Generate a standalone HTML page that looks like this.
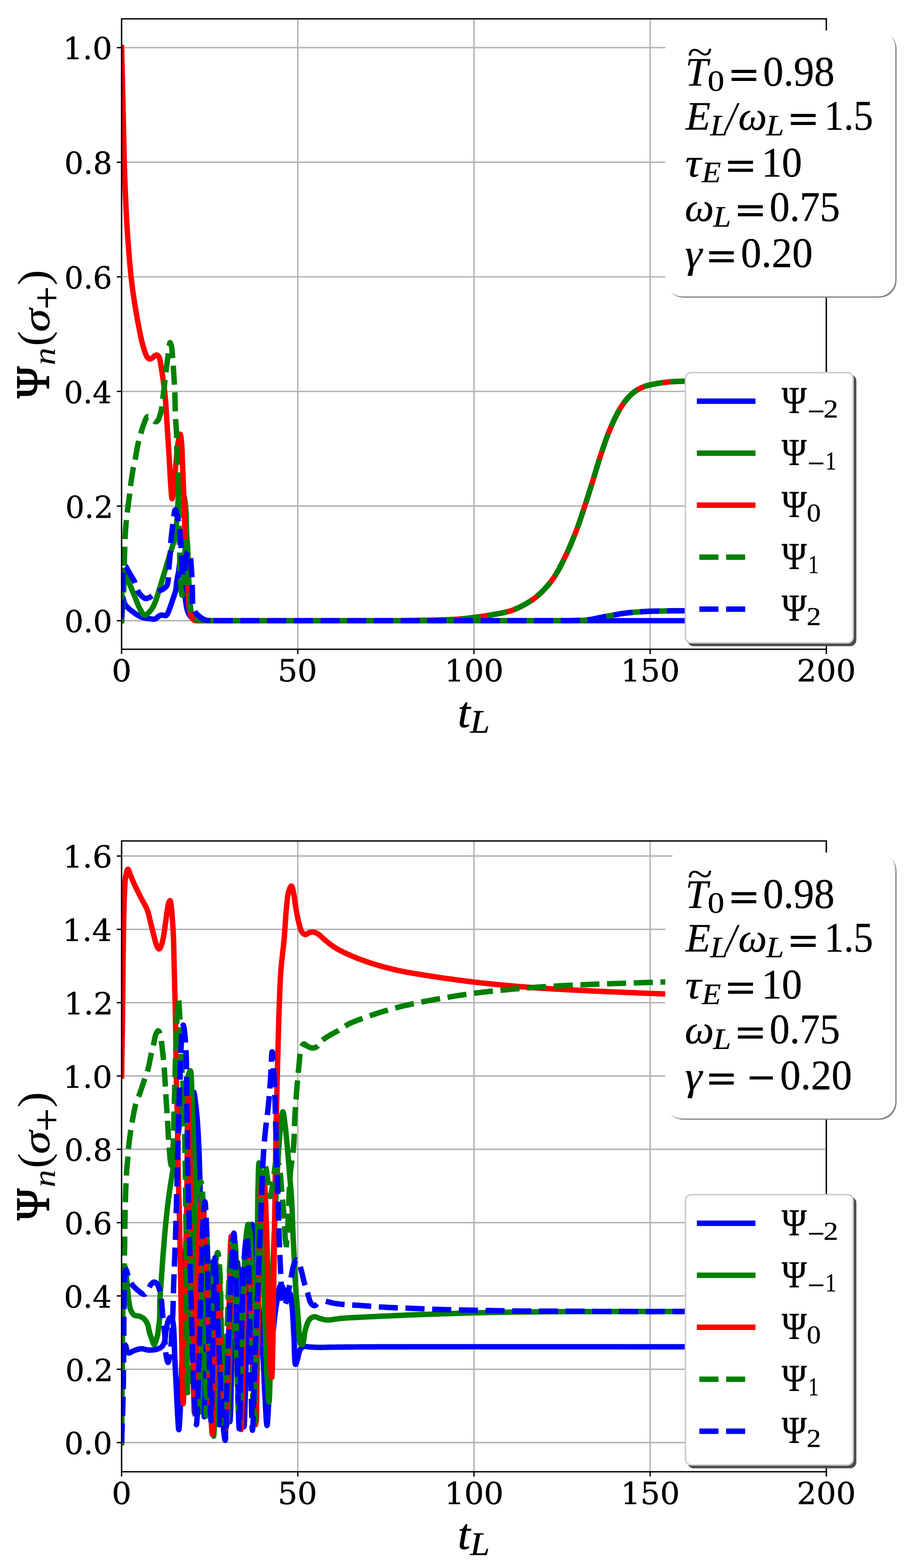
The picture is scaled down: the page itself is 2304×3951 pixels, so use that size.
<!DOCTYPE html>
<html><head><meta charset="utf-8"><title>Psi_n(sigma+) vs t_L</title>
<style>html,body{margin:0;padding:0;background:#fff;overflow:hidden}svg{display:block}</style></head>
<body>
<svg width="2304" height="3951" viewBox="0 0 2304 3951">
<rect width="2304" height="3951" fill="#fff"/>
<g id="axes1">
<path d="M306.50,47.5 V1636 M750.62,47.5 V1636 M1194.75,47.5 V1636 M1638.88,47.5 V1636 M2083.00,47.5 V1636 M306.5,1564.00 H2083.0 M306.5,1275.20 H2083.0 M306.5,986.40 H2083.0 M306.5,697.60 H2083.0 M306.5,408.80 H2083.0 M306.5,120.00 H2083.0" stroke="#b0b0b0" stroke-width="3.4" fill="none"/>
<clipPath id="clip1"><rect x="306.5" y="47.5" width="1776.5" height="1588.5"/></clipPath>
<g clip-path="url(#clip1)">
<path d="M306.5,1564.0 L306.6,1560.6 L306.7,1557.1 L306.8,1553.6 L306.9,1550.1 L306.9,1546.7 L307.0,1543.2 L307.1,1539.8 L307.2,1536.5 L307.4,1533.2 L307.5,1530.0 L307.6,1527.1 L307.7,1524.0 L307.7,1520.7 L307.7,1517.4 L307.8,1514.2 L307.9,1511.3 L308.0,1508.8 L308.3,1506.8 L308.6,1505.5 L309.0,1505.0 L309.4,1505.3 L309.9,1506.3 L310.4,1507.9 L310.9,1509.9 L311.6,1512.2 L312.2,1514.7 L313.0,1517.3 L313.9,1519.7 L314.9,1522.0 L316.0,1524.0 L317.5,1526.1 L319.3,1528.1 L321.2,1530.2 L323.3,1532.2 L325.5,1534.1 L327.7,1536.0 L330.0,1537.9 L332.3,1539.7 L334.6,1541.4 L336.8,1543.0 L338.8,1544.4 L340.7,1545.9 L342.7,1547.2 L344.7,1548.6 L346.7,1549.8 L348.7,1551.0 L350.8,1552.1 L352.8,1553.2 L354.9,1554.1 L357.0,1555.0 L359.0,1555.7 L361.1,1556.3 L363.2,1556.8 L365.4,1557.3 L367.5,1557.6 L369.7,1558.0 L371.7,1558.2 L373.8,1558.5 L375.7,1558.8 L377.6,1559.0 L379.0,1559.2 L380.3,1559.4 L381.6,1559.7 L382.9,1559.9 L384.1,1560.1 L385.4,1560.3 L386.5,1560.4 L387.7,1560.3 L388.9,1560.2 L390.0,1560.0 L391.1,1559.6 L392.2,1559.1 L393.2,1558.4 L394.3,1557.6 L395.3,1556.8 L396.3,1555.9 L397.2,1555.1 L398.2,1554.3 L399.1,1553.6 L400.0,1553.0 L400.6,1552.6 L401.3,1552.2 L401.9,1551.8 L402.5,1551.5 L403.1,1551.2 L403.6,1550.8 L404.2,1550.6 L404.8,1550.3 L405.4,1550.1 L406.0,1550.0 L406.6,1549.9 L407.2,1549.9 L407.8,1549.9 L408.4,1550.0 L409.0,1550.0 L409.6,1550.1 L410.2,1550.2 L410.8,1550.3 L411.4,1550.4 L412.0,1550.5 L412.6,1550.6 L413.3,1550.7 L414.0,1550.8 L414.7,1550.9 L415.3,1551.1 L416.0,1551.2 L416.7,1551.2 L417.3,1551.2 L417.9,1551.2 L418.4,1551.0 L418.8,1550.8 L419.3,1550.5 L419.7,1550.2 L420.0,1549.8 L420.4,1549.4 L420.7,1549.0 L421.0,1548.5 L421.3,1548.0 L421.7,1547.5 L422.0,1547.0 L422.5,1546.2 L422.9,1545.4 L423.4,1544.4 L423.8,1543.5 L424.3,1542.5 L424.7,1541.4 L425.1,1540.3 L425.6,1539.1 L426.0,1537.9 L426.5,1536.7 L427.2,1534.7 L428.0,1532.6 L428.8,1530.3 L429.7,1528.0 L430.5,1525.5 L431.4,1523.0 L432.2,1520.5 L433.0,1518.0 L433.9,1515.4 L434.7,1513.0 L435.6,1510.5 L436.4,1508.0 L437.3,1505.5 L438.2,1503.0 L439.1,1500.5 L440.0,1498.0 L440.8,1495.4 L441.6,1492.9 L442.3,1490.4 L442.9,1487.8 L443.4,1485.2 L443.8,1482.6 L444.1,1480.0 L444.4,1477.4 L444.7,1474.7 L444.9,1472.1 L445.1,1469.5 L445.4,1467.0 L445.7,1464.4 L446.0,1462.0 L446.4,1459.9 L446.7,1457.9 L447.1,1456.0 L447.5,1454.0 L447.9,1452.1 L448.3,1450.2 L448.8,1448.3 L449.2,1446.3 L449.6,1444.2 L450.0,1442.0 L450.5,1438.8 L451.0,1435.1 L451.5,1430.9 L452.0,1426.7 L452.5,1422.5 L453.0,1418.6 L453.5,1415.1 L454.0,1412.4 L454.5,1410.6 L455.0,1410.0 L455.5,1410.5 L456.0,1412.0 L456.5,1414.3 L457.0,1417.2 L457.5,1420.6 L458.0,1424.4 L458.5,1428.3 L459.0,1432.4 L459.5,1436.3 L460.0,1440.0 L460.6,1445.2 L461.2,1450.8 L461.7,1456.8 L462.3,1462.9 L462.8,1469.3 L463.3,1475.7 L463.9,1482.0 L464.5,1488.2 L465.2,1494.3 L466.0,1500.0 L466.7,1504.9 L467.3,1509.8 L468.0,1514.8 L468.7,1519.7 L469.4,1524.5 L470.2,1529.1 L471.1,1533.5 L472.2,1537.7 L473.5,1541.5 L475.0,1545.0 L476.2,1547.3 L477.5,1549.4 L479.0,1551.5 L480.5,1553.5 L482.1,1555.3 L483.7,1557.0 L485.3,1558.5 L486.9,1559.9 L488.5,1561.0 L490.0,1562.0 L491.0,1562.5 L492.0,1562.9 L493.0,1563.2 L494.0,1563.3 L495.0,1563.5 L496.0,1563.6 L497.0,1563.6 L498.0,1563.7 L499.0,1563.8 L500.0,1564.0 L2083.0,1564.0" fill="none" stroke="#0000ff" stroke-width="13.7" stroke-linejoin="round" stroke-linecap="square"/>
<path d="M306.5,1564.0 L306.6,1555.5 L306.7,1546.8 L306.8,1537.9 L306.8,1529.1 L306.9,1520.3 L307.0,1511.6 L307.1,1503.2 L307.2,1495.0 L307.3,1487.3 L307.5,1480.0 L307.6,1474.8 L307.5,1469.2 L307.4,1463.5 L307.4,1457.9 L307.3,1452.5 L307.3,1447.7 L307.5,1443.5 L307.8,1440.2 L308.3,1437.9 L309.0,1437.0 L309.5,1437.1 L310.1,1437.6 L310.8,1438.4 L311.5,1439.5 L312.3,1440.8 L313.0,1442.3 L313.9,1443.9 L314.7,1445.6 L315.5,1447.3 L316.4,1449.0 L318.1,1452.4 L320.0,1456.4 L322.0,1460.9 L324.1,1465.7 L326.2,1470.8 L328.4,1476.0 L330.6,1481.2 L332.8,1486.4 L334.8,1491.3 L336.8,1496.0 L338.5,1500.1 L340.2,1504.3 L341.8,1508.5 L343.4,1512.7 L345.0,1516.8 L346.6,1520.8 L348.1,1524.6 L349.7,1528.2 L351.4,1531.6 L353.0,1534.7 L354.1,1536.7 L355.2,1538.7 L356.3,1540.8 L357.4,1542.7 L358.5,1544.5 L359.6,1546.2 L360.7,1547.6 L361.9,1548.8 L363.1,1549.6 L364.4,1550.0 L365.6,1550.0 L366.9,1549.7 L368.3,1549.1 L369.6,1548.3 L371.0,1547.2 L372.4,1546.0 L373.8,1544.8 L375.1,1543.4 L376.4,1542.1 L377.6,1540.8 L379.0,1539.2 L380.4,1537.5 L381.7,1535.7 L382.9,1533.7 L384.2,1531.7 L385.4,1529.6 L386.5,1527.4 L387.7,1525.1 L388.8,1522.8 L389.9,1520.4 L391.3,1517.2 L392.6,1513.9 L393.8,1510.3 L395.0,1506.7 L396.2,1502.9 L397.4,1499.1 L398.5,1495.2 L399.7,1491.4 L400.8,1487.5 L402.0,1483.7 L403.3,1479.7 L404.5,1475.7 L405.7,1471.6 L407.0,1467.5 L408.2,1463.4 L409.5,1459.3 L410.7,1455.2 L411.9,1451.1 L413.2,1447.0 L414.4,1442.9 L415.6,1438.8 L416.9,1434.7 L418.1,1430.6 L419.3,1426.5 L420.5,1422.5 L421.7,1418.4 L422.9,1414.3 L424.2,1410.2 L425.4,1406.1 L426.6,1402.0 L427.9,1397.9 L429.2,1393.8 L430.5,1389.7 L431.8,1385.6 L433.1,1381.5 L434.4,1377.5 L435.7,1373.4 L436.8,1369.2 L437.9,1365.1 L438.9,1361.0 L439.8,1357.0 L440.5,1353.0 L441.2,1349.0 L441.9,1345.0 L442.5,1341.0 L443.0,1337.0 L443.5,1332.9 L444.0,1328.7 L444.5,1324.4 L445.0,1320.0 L445.5,1314.5 L446.0,1308.7 L446.5,1302.9 L446.9,1296.8 L447.2,1290.7 L447.6,1284.6 L447.9,1278.4 L448.3,1272.2 L448.6,1266.1 L449.0,1260.0 L449.4,1253.5 L449.7,1246.1 L450.0,1238.3 L450.2,1230.3 L450.5,1222.6 L450.9,1215.5 L451.2,1209.3 L451.7,1204.4 L452.3,1201.2 L453.0,1200.0 L453.4,1200.2 L453.9,1200.9 L454.4,1202.0 L454.9,1203.5 L455.4,1205.2 L456.0,1207.1 L456.5,1209.1 L457.0,1211.1 L457.5,1213.1 L458.0,1215.0 L458.6,1217.6 L459.1,1220.3 L459.7,1223.3 L460.2,1226.3 L460.7,1229.4 L461.1,1232.6 L461.6,1235.8 L462.1,1238.9 L462.5,1242.0 L463.0,1245.0 L463.5,1247.7 L463.9,1250.3 L464.4,1252.7 L464.9,1255.2 L465.4,1257.7 L465.8,1260.2 L466.3,1262.8 L466.7,1265.7 L467.1,1268.7 L467.5,1272.0 L468.1,1278.4 L468.6,1285.7 L469.0,1293.6 L469.3,1302.0 L469.6,1310.8 L469.9,1319.7 L470.1,1328.6 L470.4,1337.5 L470.7,1346.0 L471.0,1354.0 L471.3,1360.9 L471.6,1367.8 L472.0,1374.6 L472.3,1381.3 L472.6,1387.9 L472.9,1394.5 L473.2,1401.0 L473.5,1407.4 L473.8,1413.7 L474.0,1420.0 L474.2,1425.5 L474.4,1430.8 L474.5,1436.2 L474.7,1441.4 L474.8,1446.6 L475.0,1451.7 L475.1,1456.8 L475.2,1461.9 L475.4,1467.0 L475.5,1472.0 L475.6,1476.8 L475.6,1481.6 L475.6,1486.4 L475.6,1491.2 L475.6,1496.0 L475.7,1500.7 L475.7,1505.3 L475.9,1509.7 L476.1,1514.0 L476.5,1518.0 L476.8,1521.0 L477.2,1523.8 L477.6,1526.7 L478.0,1529.4 L478.4,1532.1 L478.9,1534.6 L479.5,1537.1 L480.1,1539.5 L480.8,1541.8 L481.6,1544.0 L482.3,1545.7 L483.0,1547.3 L483.8,1548.8 L484.6,1550.3 L485.5,1551.8 L486.4,1553.2 L487.3,1554.5 L488.2,1555.7 L489.1,1556.9 L490.0,1558.0 L490.7,1558.8 L491.4,1559.4 L492.1,1560.1 L492.8,1560.7 L493.5,1561.2 L494.2,1561.8 L494.9,1562.3 L495.6,1562.9 L496.3,1563.4 L497.0,1564.0 L1400.0,1564.0 L1405.1,1564.0 L1410.2,1563.9 L1415.4,1563.9 L1420.6,1563.9 L1425.7,1563.8 L1430.9,1563.8 L1435.9,1563.8 L1440.8,1563.7 L1445.5,1563.6 L1450.0,1563.5 L1453.4,1563.4 L1456.6,1563.3 L1459.6,1563.3 L1462.6,1563.2 L1465.6,1563.1 L1468.5,1563.0 L1471.5,1562.9 L1474.5,1562.6 L1477.7,1562.4 L1481.0,1562.0 L1485.4,1561.4 L1489.9,1560.7 L1494.6,1559.9 L1499.3,1558.9 L1504.2,1557.9 L1509.1,1556.9 L1514.0,1555.9 L1518.9,1554.9 L1523.8,1553.9 L1528.6,1553.0 L1533.3,1552.1 L1538.1,1551.3 L1542.8,1550.4 L1547.5,1549.5 L1552.3,1548.7 L1557.0,1547.9 L1561.7,1547.1 L1566.5,1546.3 L1571.2,1545.6 L1576.0,1545.0 L1580.8,1544.4 L1585.6,1543.9 L1590.4,1543.4 L1595.2,1543.0 L1600.0,1542.6 L1604.8,1542.2 L1609.6,1541.9 L1614.4,1541.6 L1619.2,1541.3 L1624.0,1541.0 L1628.7,1540.7 L1633.4,1540.5 L1638.0,1540.3 L1642.7,1540.2 L1647.3,1540.0 L1652.0,1539.9 L1656.7,1539.8 L1661.4,1539.7 L1666.2,1539.6 L1671.0,1539.5 L1676.2,1539.4 L1681.6,1539.3 L1687.0,1539.3 L1692.5,1539.2 L1697.9,1539.1 L1703.4,1539.1 L1708.8,1539.1 L1714.0,1539.0 L1719.1,1539.0 L1724.0,1539.0 L1727.9,1539.0 L1731.6,1539.0 L1735.3,1539.0 L1738.8,1539.0 L1742.3,1539.0 L1745.8,1539.0 L1749.3,1539.0 L1752.8,1539.0 L1756.4,1539.0 L1760.0,1539.0 L1763.9,1539.0 L1767.9,1538.9 L1771.8,1538.9 L1775.8,1538.8 L1779.9,1538.8 L1783.9,1538.7 L1787.9,1538.7 L1792.0,1538.6 L1796.0,1538.6 L1800.0,1538.5" fill="none" stroke="#008000" stroke-width="13.7" stroke-linejoin="round" stroke-linecap="square"/>
<path d="M306.5,120.0 L306.8,129.9 L307.0,139.7 L307.3,149.6 L307.5,159.4 L307.8,169.3 L308.0,179.1 L308.3,189.0 L308.5,199.0 L308.8,208.9 L309.0,219.0 L309.2,229.6 L309.5,240.3 L309.7,251.2 L310.0,262.1 L310.2,273.1 L310.5,284.0 L310.7,294.7 L310.9,305.4 L311.2,315.8 L311.4,326.0 L311.6,334.8 L311.8,343.6 L312.0,352.3 L312.2,360.9 L312.3,369.4 L312.5,377.7 L312.7,385.9 L312.9,394.0 L313.1,401.8 L313.3,409.5 L313.5,415.6 L313.6,421.3 L313.8,426.9 L314.0,432.3 L314.1,437.6 L314.3,443.0 L314.5,448.5 L314.7,454.3 L314.9,460.3 L315.2,466.7 L315.6,476.2 L316.0,486.2 L316.5,496.8 L317.0,507.7 L317.5,518.9 L318.0,530.3 L318.6,541.8 L319.2,553.3 L319.9,564.7 L320.6,576.0 L321.4,587.9 L322.2,600.0 L323.1,612.4 L324.0,624.9 L325.0,637.4 L326.0,649.7 L327.0,661.7 L328.1,673.4 L329.1,684.5 L330.2,695.0 L331.0,702.4 L331.8,709.5 L332.6,716.3 L333.5,722.9 L334.3,729.4 L335.2,735.7 L336.1,742.0 L337.0,748.3 L337.9,754.6 L338.9,761.0 L339.9,767.3 L340.9,773.6 L342.0,779.9 L343.0,786.2 L344.1,792.4 L345.2,798.6 L346.3,804.7 L347.4,810.6 L348.5,816.4 L349.6,822.0 L350.5,826.5 L351.3,830.9 L352.2,835.2 L353.0,839.5 L353.8,843.6 L354.7,847.7 L355.5,851.7 L356.4,855.5 L357.3,859.3 L358.2,863.0 L358.9,865.9 L359.7,868.8 L360.5,871.6 L361.2,874.4 L362.0,877.0 L362.8,879.7 L363.6,882.2 L364.4,884.6 L365.2,886.9 L366.0,889.0 L366.6,890.4 L367.1,891.9 L367.7,893.2 L368.3,894.6 L368.8,895.8 L369.4,897.0 L370.0,898.1 L370.6,899.2 L371.3,900.1 L372.0,901.0 L372.5,901.6 L373.0,902.1 L373.6,902.6 L374.1,903.1 L374.7,903.5 L375.3,903.9 L375.8,904.2 L376.4,904.4 L377.0,904.6 L377.6,904.7 L378.2,904.7 L378.8,904.6 L379.5,904.4 L380.1,904.2 L380.8,903.9 L381.5,903.6 L382.1,903.2 L382.8,902.8 L383.4,902.4 L384.0,902.0 L384.6,901.5 L385.2,901.0 L385.8,900.4 L386.4,899.8 L387.0,899.2 L387.6,898.6 L388.2,898.0 L388.8,897.4 L389.4,896.9 L390.0,896.5 L390.6,896.2 L391.2,895.9 L391.8,895.5 L392.4,895.3 L393.0,895.0 L393.7,894.8 L394.3,894.7 L394.9,894.6 L395.5,894.6 L396.0,894.7 L396.6,894.9 L397.1,895.2 L397.7,895.6 L398.2,896.0 L398.7,896.5 L399.2,897.1 L399.7,897.8 L400.1,898.5 L400.6,899.2 L401.0,900.0 L401.7,901.6 L402.4,903.6 L403.0,905.8 L403.5,908.1 L404.0,910.7 L404.4,913.3 L404.8,916.1 L405.3,918.9 L405.7,921.7 L406.2,924.5 L406.8,928.1 L407.5,932.0 L408.1,936.0 L408.8,940.1 L409.4,944.3 L410.0,948.5 L410.6,952.7 L411.2,956.9 L411.8,961.0 L412.3,965.0 L412.8,968.5 L413.2,971.9 L413.7,975.2 L414.1,978.5 L414.5,981.7 L414.9,985.1 L415.2,988.5 L415.6,992.1 L416.0,995.9 L416.4,1000.0 L417.0,1006.8 L417.6,1014.1 L418.1,1022.0 L418.7,1030.2 L419.2,1038.7 L419.8,1047.3 L420.3,1056.1 L420.8,1064.7 L421.4,1073.3 L421.9,1081.6 L422.4,1089.8 L423.0,1098.1 L423.5,1106.4 L424.0,1114.7 L424.5,1123.0 L425.1,1131.3 L425.6,1139.4 L426.1,1147.5 L426.5,1155.3 L427.0,1163.0 L427.4,1169.5 L427.7,1176.1 L428.1,1182.5 L428.4,1188.9 L428.7,1195.2 L429.1,1201.4 L429.4,1207.4 L429.7,1213.2 L430.1,1218.7 L430.5,1224.0 L430.8,1228.0 L431.1,1232.2 L431.4,1236.6 L431.7,1240.9 L432.0,1245.1 L432.4,1248.8 L432.7,1252.0 L433.0,1254.5 L433.4,1256.1 L433.8,1256.7 L434.1,1256.4 L434.4,1255.6 L434.7,1254.4 L435.1,1252.8 L435.4,1251.0 L435.7,1248.9 L436.1,1246.7 L436.4,1244.4 L436.7,1242.2 L437.0,1240.0 L437.5,1236.4 L437.9,1232.3 L438.3,1227.9 L438.7,1223.2 L439.1,1218.4 L439.5,1213.5 L439.9,1208.6 L440.3,1203.9 L440.6,1199.3 L441.0,1195.0 L441.3,1191.6 L441.6,1188.4 L441.9,1185.2 L442.2,1182.1 L442.5,1179.1 L442.7,1176.0 L443.0,1172.9 L443.3,1169.7 L443.7,1166.4 L444.0,1163.0 L444.4,1158.5 L444.9,1153.7 L445.3,1148.7 L445.7,1143.5 L446.2,1138.3 L446.7,1133.2 L447.2,1128.2 L447.8,1123.5 L448.4,1119.0 L449.0,1115.0 L449.5,1112.4 L450.0,1109.6 L450.5,1106.8 L451.1,1104.1 L451.6,1101.5 L452.2,1099.1 L452.7,1097.2 L453.2,1095.6 L453.7,1094.6 L454.2,1094.3 L454.7,1094.8 L455.1,1096.1 L455.6,1098.1 L456.0,1100.6 L456.4,1103.5 L456.7,1106.8 L457.1,1110.2 L457.4,1113.6 L457.7,1116.9 L458.0,1120.0 L458.3,1123.8 L458.6,1127.6 L458.8,1131.6 L459.0,1135.7 L459.1,1139.8 L459.3,1144.1 L459.4,1148.6 L459.5,1153.2 L459.7,1158.0 L459.9,1163.0 L460.2,1170.6 L460.5,1178.8 L460.9,1187.5 L461.2,1196.5 L461.6,1205.7 L461.9,1215.1 L462.3,1224.6 L462.6,1233.9 L463.0,1243.1 L463.3,1252.0 L463.6,1260.4 L463.9,1268.8 L464.1,1277.1 L464.4,1285.5 L464.6,1293.8 L464.9,1302.0 L465.2,1310.2 L465.4,1318.2 L465.8,1326.2 L466.1,1334.0 L466.4,1340.9 L466.8,1347.7 L467.2,1354.4 L467.6,1361.0 L468.0,1367.6 L468.4,1374.1 L468.8,1380.6 L469.2,1387.0 L469.6,1393.5 L470.0,1400.0 L470.4,1406.3 L470.8,1412.5 L471.2,1418.8 L471.7,1425.0 L472.1,1431.2 L472.5,1437.3 L472.9,1443.5 L473.3,1449.7 L473.7,1455.8 L474.0,1462.0 L474.3,1468.3 L474.4,1474.7 L474.6,1481.3 L474.7,1487.9 L474.8,1494.4 L474.9,1500.8 L475.0,1507.0 L475.3,1512.8 L475.6,1518.1 L476.0,1523.0 L476.3,1525.7 L476.6,1528.2 L477.0,1530.6 L477.3,1532.9 L477.7,1535.1 L478.1,1537.2 L478.5,1539.2 L479.0,1541.2 L479.5,1543.1 L480.0,1545.0 L480.4,1546.5 L480.9,1548.0 L481.3,1549.4 L481.8,1550.8 L482.3,1552.2 L482.8,1553.5 L483.3,1554.7 L483.8,1555.9 L484.4,1557.0 L485.0,1558.0 L485.4,1558.7 L485.9,1559.3 L486.3,1559.9 L486.8,1560.4 L487.2,1561.0 L487.7,1561.4 L488.2,1561.9 L488.8,1562.3 L489.4,1562.7 L490.0,1563.0 L490.8,1563.3 L491.7,1563.5 L492.7,1563.7 L493.7,1563.8 L494.7,1563.8 L495.8,1563.9 L496.9,1563.9 L497.9,1563.9 L499.0,1563.9 L500.0,1564.0 L1000.0,1564.0 L1010.2,1563.9 L1020.5,1563.7 L1031.1,1563.6 L1041.6,1563.5 L1052.1,1563.3 L1062.5,1563.2 L1072.5,1563.1 L1082.2,1562.9 L1091.4,1562.7 L1100.0,1562.5 L1105.7,1562.3 L1111.1,1562.2 L1116.3,1562.0 L1121.4,1561.9 L1126.2,1561.7 L1131.0,1561.5 L1135.7,1561.3 L1140.4,1561.1 L1145.2,1560.8 L1150.0,1560.5 L1154.6,1560.2 L1159.1,1559.8 L1163.6,1559.4 L1168.1,1559.0 L1172.6,1558.6 L1177.0,1558.1 L1181.5,1557.6 L1186.0,1557.1 L1190.5,1556.6 L1195.0,1556.0 L1199.7,1555.4 L1204.5,1554.7 L1209.3,1554.1 L1214.1,1553.4 L1218.9,1552.7 L1223.8,1551.9 L1228.6,1551.1 L1233.4,1550.3 L1238.2,1549.5 L1243.0,1548.6 L1247.8,1547.7 L1252.6,1546.9 L1257.4,1546.0 L1262.1,1545.2 L1266.9,1544.3 L1271.7,1543.3 L1276.4,1542.2 L1281.1,1540.9 L1285.8,1539.6 L1290.5,1538.0 L1295.4,1536.2 L1300.4,1534.1 L1305.4,1531.9 L1310.3,1529.6 L1315.3,1527.1 L1320.1,1524.6 L1324.9,1521.9 L1329.5,1519.3 L1333.8,1516.6 L1338.0,1514.0 L1341.3,1511.8 L1344.4,1509.6 L1347.4,1507.4 L1350.3,1505.2 L1353.1,1502.9 L1355.9,1500.6 L1358.6,1498.2 L1361.3,1495.7 L1364.0,1493.1 L1366.7,1490.5 L1369.7,1487.5 L1372.6,1484.5 L1375.5,1481.4 L1378.4,1478.2 L1381.2,1474.9 L1384.1,1471.5 L1386.8,1468.1 L1389.6,1464.5 L1392.3,1460.8 L1395.0,1457.0 L1398.1,1452.4 L1401.1,1447.6 L1404.1,1442.6 L1407.0,1437.5 L1409.9,1432.3 L1412.7,1426.9 L1415.5,1421.5 L1418.3,1416.0 L1421.1,1410.4 L1423.8,1404.8 L1426.8,1398.5 L1429.8,1392.0 L1432.8,1385.4 L1435.8,1378.7 L1438.7,1371.9 L1441.6,1365.1 L1444.4,1358.2 L1447.1,1351.4 L1449.8,1344.7 L1452.4,1338.0 L1454.8,1331.8 L1457.1,1325.5 L1459.3,1319.4 L1461.4,1313.2 L1463.5,1307.1 L1465.6,1300.9 L1467.6,1294.7 L1469.7,1288.5 L1471.7,1282.3 L1473.8,1276.0 L1476.0,1269.4 L1478.1,1262.8 L1480.3,1256.2 L1482.4,1249.5 L1484.5,1242.8 L1486.7,1236.1 L1488.8,1229.4 L1490.9,1222.7 L1492.9,1216.1 L1495.0,1209.5 L1496.9,1203.2 L1498.8,1197.0 L1500.7,1190.8 L1502.5,1184.7 L1504.3,1178.5 L1506.2,1172.4 L1508.1,1166.2 L1510.0,1160.1 L1511.9,1153.9 L1514.0,1147.6 L1516.2,1141.0 L1518.4,1134.3 L1520.7,1127.6 L1523.0,1120.8 L1525.3,1114.0 L1527.7,1107.3 L1530.2,1100.6 L1532.7,1093.9 L1535.3,1087.4 L1538.0,1081.0 L1540.6,1075.0 L1543.3,1068.9 L1546.0,1062.8 L1548.8,1056.8 L1551.6,1050.9 L1554.5,1045.1 L1557.5,1039.4 L1560.5,1034.0 L1563.6,1028.7 L1566.7,1023.8 L1569.4,1019.9 L1572.1,1016.1 L1574.8,1012.3 L1577.6,1008.8 L1580.5,1005.3 L1583.3,1002.0 L1586.2,998.9 L1589.2,995.9 L1592.1,993.1 L1595.0,990.5 L1597.4,988.6 L1599.7,986.8 L1602.2,985.1 L1604.6,983.5 L1607.0,982.1 L1609.5,980.7 L1611.9,979.4 L1614.3,978.2 L1616.7,977.1 L1619.0,976.0 L1620.9,975.2 L1622.7,974.4 L1624.5,973.8 L1626.3,973.1 L1628.1,972.6 L1629.9,972.1 L1631.7,971.5 L1633.7,971.0 L1635.8,970.5 L1638.0,970.0 L1641.6,969.2 L1645.5,968.4 L1649.6,967.6 L1653.9,966.8 L1658.4,966.0 L1662.9,965.3 L1667.5,964.6 L1672.1,964.0 L1676.6,963.4 L1681.0,962.9 L1685.3,962.5 L1689.6,962.1 L1693.9,961.8 L1698.3,961.5 L1702.6,961.3 L1706.9,961.1 L1711.2,960.9 L1715.5,960.8 L1719.7,960.6 L1723.8,960.5 L1727.5,960.4 L1731.2,960.3 L1734.8,960.2 L1738.4,960.2 L1742.0,960.1 L1745.5,960.1 L1749.1,960.1 L1752.7,960.1 L1756.3,960.0 L1760.0,960.0 L1763.9,959.9 L1767.9,959.9 L1771.9,959.8 L1775.9,959.8 L1779.9,959.7 L1783.9,959.7 L1787.9,959.6 L1792.0,959.6 L1796.0,959.5 L1800.0,959.5" fill="none" stroke="#ff0000" stroke-width="13.7" stroke-linejoin="round" stroke-linecap="square"/>
<path d="M306.5,1564.0 L306.6,1561.6 L306.8,1559.3 L306.9,1557.0 L307.0,1554.6 L307.2,1552.3 L307.3,1549.9 L307.5,1547.6 L307.6,1545.1 L307.8,1542.6 L308.0,1540.0 L308.3,1536.8 L308.6,1533.6 L308.9,1530.3 L309.3,1527.0 L309.6,1523.6 L310.0,1520.1 L310.4,1516.4 L310.7,1512.5 L311.0,1508.4 L311.3,1504.0 L311.7,1495.8 L312.0,1486.6 L312.3,1476.5 L312.5,1465.8 L312.7,1454.8 L312.9,1443.6 L313.1,1432.6 L313.3,1421.8 L313.5,1411.5 L313.8,1402.0 L314.0,1394.8 L314.2,1387.8 L314.5,1381.0 L314.7,1374.3 L314.9,1367.7 L315.1,1361.3 L315.4,1355.0 L315.7,1348.9 L316.0,1342.9 L316.4,1337.0 L316.7,1332.3 L317.1,1327.9 L317.4,1323.5 L317.8,1319.2 L318.2,1315.1 L318.7,1310.9 L319.1,1306.8 L319.5,1302.6 L320.0,1298.3 L320.5,1294.0 L321.1,1289.3 L321.7,1284.4 L322.3,1279.4 L323.0,1274.4 L323.6,1269.3 L324.3,1264.4 L325.0,1259.7 L325.6,1255.1 L326.1,1250.9 L326.6,1247.0 L326.9,1244.8 L327.1,1242.7 L327.3,1240.8 L327.5,1239.0 L327.6,1237.3 L327.8,1235.6 L328.0,1233.8 L328.2,1231.9 L328.4,1229.8 L328.7,1227.6 L329.2,1223.6 L329.8,1219.0 L330.5,1214.1 L331.2,1208.9 L332.0,1203.5 L332.8,1198.2 L333.6,1193.0 L334.3,1188.1 L335.1,1183.6 L335.8,1179.6 L336.2,1177.4 L336.6,1175.5 L337.0,1173.6 L337.4,1171.9 L337.8,1170.3 L338.2,1168.6 L338.6,1166.9 L339.0,1165.1 L339.4,1163.2 L339.9,1161.0 L340.7,1157.0 L341.6,1152.5 L342.5,1147.5 L343.4,1142.3 L344.4,1136.9 L345.3,1131.6 L346.3,1126.4 L347.3,1121.5 L348.2,1117.0 L349.1,1113.0 L349.6,1110.9 L350.1,1108.9 L350.6,1107.0 L351.1,1105.3 L351.6,1103.6 L352.1,1102.0 L352.6,1100.3 L353.1,1098.6 L353.6,1096.9 L354.2,1095.0 L354.9,1092.6 L355.6,1090.2 L356.3,1087.7 L357.1,1085.1 L357.8,1082.5 L358.6,1079.9 L359.4,1077.4 L360.2,1074.8 L361.1,1072.4 L362.0,1070.0 L362.9,1067.8 L363.7,1065.3 L364.6,1062.9 L365.5,1060.4 L366.5,1058.0 L367.5,1055.8 L368.4,1053.8 L369.4,1052.1 L370.5,1050.8 L371.5,1050.0 L372.0,1049.8 L372.6,1049.7 L373.1,1049.6 L373.7,1049.7 L374.2,1049.8 L374.8,1050.0 L375.4,1050.2 L375.9,1050.4 L376.5,1050.7 L377.0,1051.0 L377.7,1051.4 L378.4,1052.0 L379.1,1052.7 L379.7,1053.5 L380.4,1054.3 L381.1,1055.1 L381.8,1055.9 L382.4,1056.7 L383.1,1057.4 L383.8,1058.0 L384.4,1058.5 L385.0,1059.0 L385.7,1059.5 L386.3,1059.9 L386.9,1060.4 L387.6,1060.8 L388.2,1061.1 L388.8,1061.5 L389.4,1061.8 L390.0,1062.0 L390.4,1062.2 L390.8,1062.3 L391.2,1062.4 L391.6,1062.5 L392.0,1062.6 L392.4,1062.7 L392.8,1062.7 L393.2,1062.7 L393.6,1062.6 L394.0,1062.5 L394.5,1062.3 L395.0,1062.0 L395.6,1061.7 L396.1,1061.3 L396.6,1060.8 L397.1,1060.3 L397.6,1059.8 L398.1,1059.2 L398.6,1058.6 L399.0,1058.0 L399.5,1057.1 L400.0,1056.2 L400.4,1055.2 L400.8,1054.1 L401.2,1053.0 L401.6,1051.8 L401.9,1050.7 L402.3,1049.4 L402.6,1048.2 L403.0,1047.0 L403.5,1045.5 L403.9,1044.0 L404.4,1042.5 L404.8,1040.9 L405.2,1039.3 L405.7,1037.6 L406.1,1035.9 L406.5,1034.2 L406.8,1032.4 L407.2,1030.6 L407.6,1028.3 L408.0,1025.9 L408.3,1023.4 L408.6,1020.9 L408.9,1018.3 L409.1,1015.7 L409.4,1013.0 L409.7,1010.3 L410.0,1007.7 L410.3,1005.0 L410.7,1002.1 L411.0,999.2 L411.4,996.2 L411.8,993.2 L412.2,990.2 L412.5,987.2 L412.9,984.1 L413.3,981.1 L413.6,978.1 L414.0,975.0 L414.4,971.8 L414.7,968.6 L415.0,965.4 L415.4,962.2 L415.7,958.9 L416.0,955.7 L416.4,952.5 L416.7,949.3 L417.0,946.1 L417.4,943.0 L417.7,940.1 L418.1,937.2 L418.5,934.3 L418.8,931.4 L419.2,928.5 L419.6,925.7 L419.9,922.9 L420.3,920.2 L420.7,917.6 L421.0,915.0 L421.3,913.0 L421.5,911.0 L421.8,909.1 L422.1,907.2 L422.3,905.3 L422.6,903.5 L422.9,901.7 L423.1,899.8 L423.4,897.9 L423.6,896.0 L423.8,893.9 L424.1,891.8 L424.3,889.6 L424.5,887.4 L424.7,885.2 L425.0,883.0 L425.2,880.9 L425.4,878.8 L425.7,876.8 L426.0,875.0 L426.2,873.6 L426.5,872.1 L426.7,870.6 L427.0,869.1 L427.2,867.6 L427.5,866.3 L427.8,865.2 L428.1,864.3 L428.4,863.7 L428.7,863.5 L429.0,863.6 L429.3,864.0 L429.7,864.5 L430.0,865.3 L430.3,866.2 L430.7,867.3 L431.0,868.4 L431.4,869.6 L431.7,870.8 L432.0,872.0 L432.6,874.9 L433.1,878.5 L433.6,882.4 L434.0,886.8 L434.4,891.4 L434.8,896.2 L435.2,901.1 L435.5,906.0 L435.8,910.7 L436.2,915.3 L436.6,920.0 L436.9,924.9 L437.3,929.8 L437.6,934.8 L437.9,939.8 L438.2,944.7 L438.5,949.5 L438.8,954.0 L439.1,958.3 L439.3,962.2 L439.4,964.6 L439.6,966.8 L439.7,968.8 L439.9,970.8 L440.0,972.7 L440.1,974.6 L440.2,976.5 L440.3,978.4 L440.4,980.5 L440.5,982.7 L440.6,985.6 L440.7,988.7 L440.8,991.8 L440.9,995.0 L440.9,998.3 L441.0,1001.6 L441.1,1005.0 L441.1,1008.3 L441.2,1011.7 L441.3,1015.0 L441.4,1018.4 L441.5,1021.8 L441.5,1025.2 L441.6,1028.6 L441.7,1032.1 L441.8,1035.5 L441.9,1039.1 L442.0,1042.6 L442.1,1046.3 L442.3,1050.0 L442.5,1054.5 L442.8,1059.2 L443.2,1063.9 L443.5,1068.8 L443.9,1073.7 L444.2,1078.7 L444.6,1083.6 L444.9,1088.5 L445.2,1093.3 L445.4,1098.0 L445.5,1102.3 L445.6,1106.6 L445.7,1110.8 L445.7,1114.9 L445.8,1119.1 L445.8,1123.2 L445.8,1127.4 L445.8,1131.6 L445.9,1135.8 L446.0,1140.0 L446.1,1144.4 L446.3,1148.9 L446.5,1153.4 L446.7,1157.8 L447.0,1162.3 L447.2,1166.9 L447.4,1171.4 L447.6,1175.9 L447.8,1180.5 L448.0,1185.0 L448.1,1189.6 L448.3,1194.2 L448.4,1198.8 L448.4,1203.3 L448.5,1207.9 L448.6,1212.5 L448.7,1217.2 L448.8,1222.0 L448.9,1226.9 L449.0,1232.0 L449.2,1238.2 L449.3,1244.6 L449.5,1251.1 L449.8,1257.7 L450.0,1264.4 L450.2,1271.3 L450.4,1278.2 L450.6,1285.4 L450.8,1292.6 L451.0,1300.0 L451.2,1309.3 L451.4,1318.9 L451.6,1328.9 L451.8,1339.2 L451.9,1349.5 L452.1,1359.9 L452.3,1370.2 L452.5,1380.4 L452.7,1390.4 L453.0,1400.0 L453.2,1408.6 L453.5,1417.4 L453.7,1426.3 L453.9,1435.2 L454.2,1443.9 L454.5,1452.3 L454.8,1460.2 L455.1,1467.6 L455.5,1474.2 L456.0,1480.0 L456.3,1482.7 L456.5,1485.5 L456.8,1488.3 L457.1,1490.9 L457.5,1493.4 L457.8,1495.5 L458.1,1497.4 L458.4,1498.8 L458.7,1499.7 L459.0,1500.0 L459.4,1499.1 L459.9,1496.5 L460.3,1492.6 L460.7,1487.6 L461.1,1481.8 L461.5,1475.4 L461.9,1468.8 L462.3,1462.1 L462.6,1455.8 L463.0,1450.0 L463.4,1443.3 L463.8,1436.3 L464.2,1428.9 L464.6,1421.4 L465.0,1413.9 L465.4,1406.5 L465.8,1399.2 L466.2,1392.3 L466.6,1385.9 L467.0,1380.0 L467.3,1376.2 L467.6,1372.2 L467.9,1368.2 L468.2,1364.2 L468.5,1360.5 L468.8,1357.1 L469.1,1354.2 L469.4,1352.0 L469.7,1350.5 L470.0,1350.0 L470.3,1350.5 L470.6,1352.0 L470.9,1354.3 L471.3,1357.2 L471.6,1360.6 L471.9,1364.4 L472.2,1368.3 L472.5,1372.4 L472.8,1376.3 L473.0,1380.0 L473.3,1385.2 L473.6,1390.7 L473.8,1396.5 L473.9,1402.5 L474.1,1408.7 L474.3,1415.0 L474.4,1421.4 L474.6,1427.7 L474.8,1433.9 L475.0,1440.0 L475.2,1446.0 L475.5,1452.1 L475.7,1458.3 L476.0,1464.4 L476.3,1470.5 L476.5,1476.6 L476.9,1482.6 L477.2,1488.6 L477.6,1494.4 L478.0,1500.0 L478.4,1504.9 L478.7,1509.8 L479.0,1514.8 L479.3,1519.7 L479.6,1524.5 L480.1,1529.2 L480.6,1533.6 L481.2,1537.8 L482.0,1541.6 L483.0,1545.0 L483.7,1547.0 L484.5,1548.8 L485.3,1550.6 L486.2,1552.2 L487.1,1553.8 L488.0,1555.3 L489.0,1556.6 L490.0,1557.9 L491.0,1559.0 L492.0,1560.0 L492.7,1560.6 L493.5,1561.2 L494.3,1561.6 L495.1,1562.0 L495.9,1562.4 L496.7,1562.7 L497.6,1563.0 L498.4,1563.3 L499.2,1563.6 L500.0,1564.0" fill="none" stroke="#008000" stroke-width="13.7" stroke-linejoin="round" stroke-linecap="butt" stroke-dasharray="48.1,19.2" stroke-dashoffset="63.3"/>
<path d="M500.0,1564.0 L1000.0,1564.0" fill="none" stroke="#008000" stroke-width="13.7" stroke-linejoin="round" stroke-linecap="butt" stroke-dasharray="48.1,19.2" stroke-dashoffset="9.3"/>
<path d="M1000.0,1564.0 L1010.2,1563.9 L1020.5,1563.7 L1031.1,1563.6 L1041.6,1563.5 L1052.1,1563.3 L1062.5,1563.2 L1072.5,1563.1 L1082.2,1562.9 L1091.4,1562.7 L1100.0,1562.5 L1105.7,1562.3 L1111.1,1562.2 L1116.3,1562.0 L1121.4,1561.9 L1126.2,1561.7 L1131.0,1561.5 L1135.7,1561.3 L1140.4,1561.1 L1145.2,1560.8 L1150.0,1560.5 L1154.6,1560.2 L1159.1,1559.8 L1163.6,1559.4 L1168.1,1559.0 L1172.6,1558.6 L1177.0,1558.1 L1181.5,1557.6 L1186.0,1557.1 L1190.5,1556.6 L1195.0,1556.0 L1199.7,1555.4 L1204.5,1554.7 L1209.3,1554.1 L1214.1,1553.4 L1218.9,1552.7 L1223.8,1551.9 L1228.6,1551.1 L1233.4,1550.3 L1238.2,1549.5 L1243.0,1548.6 L1247.8,1547.7 L1252.6,1546.9 L1257.4,1546.0 L1262.1,1545.2 L1266.9,1544.3 L1271.7,1543.3 L1276.4,1542.2 L1281.1,1540.9 L1285.8,1539.6 L1290.5,1538.0 L1295.4,1536.2 L1300.4,1534.1 L1305.4,1531.9 L1310.3,1529.6 L1315.3,1527.1 L1320.1,1524.6 L1324.9,1521.9 L1329.5,1519.3 L1333.8,1516.6 L1338.0,1514.0 L1341.3,1511.8 L1344.4,1509.6 L1347.4,1507.4 L1350.3,1505.2 L1353.1,1502.9 L1355.9,1500.6 L1358.6,1498.2 L1361.3,1495.7 L1364.0,1493.1 L1366.7,1490.5 L1369.7,1487.5 L1372.6,1484.5 L1375.5,1481.4 L1378.4,1478.2 L1381.2,1474.9 L1384.1,1471.5 L1386.8,1468.1 L1389.6,1464.5 L1392.3,1460.8 L1395.0,1457.0 L1398.1,1452.4 L1401.1,1447.6 L1404.1,1442.6 L1407.0,1437.5 L1409.9,1432.3 L1412.7,1426.9 L1415.5,1421.5 L1418.3,1416.0 L1421.1,1410.4 L1423.8,1404.8 L1426.8,1398.5 L1429.8,1392.0 L1432.8,1385.4 L1435.8,1378.7 L1438.7,1371.9 L1441.6,1365.1 L1444.4,1358.2 L1447.1,1351.4 L1449.8,1344.7 L1452.4,1338.0 L1454.8,1331.8 L1457.1,1325.5 L1459.3,1319.4 L1461.4,1313.2 L1463.5,1307.1 L1465.6,1300.9 L1467.6,1294.7 L1469.7,1288.5 L1471.7,1282.3 L1473.8,1276.0 L1476.0,1269.4 L1478.1,1262.8 L1480.3,1256.2 L1482.4,1249.5 L1484.5,1242.8 L1486.7,1236.1 L1488.8,1229.4 L1490.9,1222.7 L1492.9,1216.1 L1495.0,1209.5 L1496.9,1203.2 L1498.8,1197.0 L1500.7,1190.8 L1502.5,1184.7 L1504.3,1178.5 L1506.2,1172.4 L1508.1,1166.2 L1510.0,1160.1 L1511.9,1153.9 L1514.0,1147.6 L1516.2,1141.0 L1518.4,1134.3 L1520.7,1127.6 L1523.0,1120.8 L1525.3,1114.0 L1527.7,1107.3 L1530.2,1100.6 L1532.7,1093.9 L1535.3,1087.4 L1538.0,1081.0 L1540.6,1075.0 L1543.3,1068.9 L1546.0,1062.8 L1548.8,1056.8 L1551.6,1050.9 L1554.5,1045.1 L1557.5,1039.4 L1560.5,1034.0 L1563.6,1028.7 L1566.7,1023.8 L1569.4,1019.9 L1572.1,1016.1 L1574.8,1012.3 L1577.6,1008.8 L1580.5,1005.3 L1583.3,1002.0 L1586.2,998.9 L1589.2,995.9 L1592.1,993.1 L1595.0,990.5 L1597.4,988.6 L1599.7,986.8 L1602.2,985.1 L1604.6,983.5 L1607.0,982.1 L1609.5,980.7 L1611.9,979.4 L1614.3,978.2 L1616.7,977.1 L1619.0,976.0 L1620.9,975.2 L1622.7,974.4 L1624.5,973.8 L1626.3,973.1 L1628.1,972.6 L1629.9,972.1 L1631.7,971.5 L1633.7,971.0 L1635.8,970.5 L1638.0,970.0 L1641.6,969.2 L1645.5,968.4 L1649.6,967.6 L1653.9,966.8 L1658.4,966.0 L1662.9,965.3 L1667.5,964.6 L1672.1,964.0 L1676.6,963.4 L1681.0,962.9 L1685.3,962.5 L1689.6,962.1 L1693.9,961.8 L1698.3,961.5 L1702.6,961.3 L1706.9,961.1 L1711.2,960.9 L1715.5,960.8 L1719.7,960.6 L1723.8,960.5 L1727.5,960.4 L1731.2,960.3 L1734.8,960.2 L1738.4,960.2 L1742.0,960.1 L1745.5,960.1 L1749.1,960.1 L1752.7,960.1 L1756.3,960.0 L1760.0,960.0 L1763.9,959.9 L1767.9,959.9 L1771.9,959.8 L1775.9,959.8 L1779.9,959.7 L1783.9,959.7 L1787.9,959.6 L1792.0,959.6 L1796.0,959.5 L1800.0,959.5" fill="none" stroke="#008000" stroke-width="13.7" stroke-linejoin="round" stroke-linecap="butt" stroke-dasharray="48.1,19.2" stroke-dashoffset="38.2"/>
<path d="M306.5,1564.0 L306.6,1557.6 L306.8,1551.1 L306.9,1544.6 L307.1,1538.0 L307.2,1531.5 L307.3,1525.0 L307.5,1518.6 L307.6,1512.3 L307.8,1506.1 L308.0,1500.0 L308.2,1494.7 L308.3,1489.3 L308.5,1483.9 L308.6,1478.6 L308.8,1473.3 L309.0,1468.2 L309.2,1463.3 L309.4,1458.6 L309.7,1454.1 L310.0,1450.0 L310.2,1447.3 L310.4,1444.6 L310.6,1441.9 L310.7,1439.2 L310.9,1436.7 L311.2,1434.4 L311.5,1432.3 L311.9,1430.5 L312.4,1429.0 L313.0,1428.0 L313.3,1427.7 L313.6,1427.4 L313.9,1427.2 L314.3,1427.1 L314.6,1426.9 L315.0,1426.9 L315.3,1426.8 L315.7,1426.8 L316.1,1426.9 L316.4,1427.0 L317.0,1427.3 L317.5,1427.9 L318.1,1428.6 L318.6,1429.5 L319.2,1430.5 L319.7,1431.6 L320.3,1432.7 L320.8,1433.8 L321.4,1435.0 L322.0,1436.0 L322.7,1437.3 L323.5,1438.6 L324.3,1440.0 L325.1,1441.3 L325.9,1442.8 L326.7,1444.2 L327.5,1445.7 L328.3,1447.1 L329.2,1448.6 L330.0,1450.0 L330.9,1451.5 L331.8,1452.9 L332.7,1454.3 L333.6,1455.8 L334.5,1457.2 L335.4,1458.7 L336.3,1460.2 L337.2,1461.7 L338.1,1463.3 L338.9,1465.0 L339.8,1467.1 L340.6,1469.3 L341.4,1471.6 L342.1,1474.0 L342.8,1476.5 L343.6,1478.9 L344.3,1481.3 L345.2,1483.6 L346.0,1485.8 L347.0,1487.8 L347.9,1489.4 L348.8,1491.1 L349.8,1492.6 L350.7,1494.2 L351.8,1495.7 L352.8,1497.1 L353.9,1498.4 L355.0,1499.7 L356.1,1500.9 L357.2,1502.0 L358.2,1502.9 L359.1,1503.7 L360.1,1504.5 L361.1,1505.2 L362.2,1505.9 L363.2,1506.5 L364.2,1507.1 L365.3,1507.5 L366.3,1507.8 L367.4,1508.0 L368.4,1508.1 L369.5,1508.0 L370.5,1507.8 L371.6,1507.5 L372.7,1507.2 L373.7,1506.7 L374.7,1506.3 L375.7,1505.9 L376.7,1505.4 L377.6,1505.0 L378.3,1504.7 L378.9,1504.3 L379.5,1504.0 L380.1,1503.6 L380.7,1503.2 L381.2,1502.8 L381.8,1502.4 L382.4,1502.0 L383.1,1501.5 L383.8,1501.0 L385.1,1500.1 L386.6,1499.1 L388.2,1497.9 L389.8,1496.7 L391.5,1495.5 L393.3,1494.3 L395.0,1493.0 L396.7,1491.9 L398.4,1490.8 L400.0,1489.8 L401.3,1489.1 L402.6,1488.4 L403.9,1487.8 L405.2,1487.3 L406.4,1486.7 L407.7,1486.2 L408.9,1485.7 L410.1,1485.1 L411.2,1484.4 L412.3,1483.7 L413.3,1483.0 L414.2,1482.3 L415.1,1481.6 L416.0,1480.9 L416.9,1480.1 L417.7,1479.3 L418.5,1478.4 L419.2,1477.5 L419.9,1476.6 L420.5,1475.5 L421.2,1474.0 L421.8,1472.4 L422.4,1470.7 L422.8,1468.9 L423.2,1467.0 L423.5,1465.0 L423.8,1463.0 L424.1,1461.0 L424.3,1459.0 L424.6,1457.0 L424.8,1454.7 L425.0,1452.5 L425.1,1450.2 L425.2,1447.9 L425.2,1445.5 L425.3,1443.1 L425.3,1440.6 L425.4,1438.1 L425.4,1435.4 L425.6,1432.7 L425.9,1428.7 L426.3,1424.3 L426.7,1419.7 L427.2,1415.0 L427.6,1410.1 L428.1,1405.3 L428.6,1400.6 L429.0,1396.0 L429.4,1391.7 L429.7,1387.8 L429.9,1385.3 L430.0,1382.9 L430.0,1380.7 L430.1,1378.6 L430.2,1376.5 L430.2,1374.5 L430.3,1372.4 L430.4,1370.2 L430.5,1367.8 L430.7,1365.3 L431.0,1361.4 L431.4,1357.2 L431.9,1352.8 L432.3,1348.2 L432.9,1343.5 L433.4,1338.7 L434.0,1334.0 L434.6,1329.3 L435.2,1324.7 L435.8,1320.4 L436.3,1316.3 L436.9,1311.8 L437.4,1307.1 L438.0,1302.4 L438.6,1297.8 L439.2,1293.6 L439.8,1290.0 L440.4,1287.2 L441.1,1285.3 L441.8,1284.6 L442.4,1284.9 L443.0,1286.0 L443.6,1287.5 L444.3,1289.6 L444.9,1291.9 L445.6,1294.5 L446.2,1297.2 L446.9,1300.0 L447.4,1302.6 L448.0,1305.0 L448.6,1307.8 L449.2,1310.6 L449.8,1313.5 L450.3,1316.5 L450.8,1319.5 L451.3,1322.6 L451.7,1325.8 L452.2,1329.0 L452.6,1332.3 L453.0,1335.7 L453.5,1340.1 L453.9,1344.6 L454.3,1349.3 L454.7,1354.2 L455.1,1359.1 L455.4,1364.0 L455.7,1369.0 L456.0,1374.0 L456.3,1378.9 L456.6,1383.7 L456.9,1388.4 L457.1,1393.3 L457.4,1398.2 L457.6,1403.1 L457.8,1408.0 L458.1,1412.7 L458.3,1417.4 L458.5,1421.8 L458.7,1426.1 L459.0,1430.0 L459.2,1432.7 L459.3,1435.6 L459.5,1438.6 L459.6,1441.5 L459.7,1444.2 L459.9,1446.7 L460.1,1448.8 L460.4,1450.5 L460.6,1451.6 L461.0,1452.0 L461.3,1451.8 L461.7,1451.3 L462.1,1450.4 L462.5,1449.3 L462.9,1448.0 L463.4,1446.5 L463.8,1444.9 L464.2,1443.3 L464.6,1441.6 L465.0,1440.0 L465.6,1436.8 L466.1,1433.1 L466.6,1428.9 L467.0,1424.4 L467.4,1419.8 L467.9,1415.2 L468.3,1410.7 L468.8,1406.6 L469.4,1403.0 L470.0,1400.0 L470.4,1398.6 L470.7,1397.2 L471.1,1395.8 L471.5,1394.5 L471.9,1393.3 L472.3,1392.2 L472.7,1391.3 L473.1,1390.6 L473.6,1390.2 L474.0,1390.0 L474.5,1390.1 L475.0,1390.6 L475.5,1391.3 L476.0,1392.2 L476.6,1393.3 L477.1,1394.5 L477.6,1395.8 L478.1,1397.2 L478.6,1398.6 L479.0,1400.0 L479.6,1402.6 L480.2,1405.5 L480.6,1408.7 L481.0,1412.2 L481.3,1415.9 L481.6,1419.6 L481.9,1423.5 L482.1,1427.4 L482.3,1431.2 L482.6,1435.0 L482.9,1439.2 L483.2,1443.5 L483.4,1447.9 L483.6,1452.4 L483.8,1456.9 L484.0,1461.4 L484.1,1465.9 L484.3,1470.5 L484.5,1475.1 L484.7,1479.6 L484.9,1484.4 L485.0,1489.5 L485.0,1494.7 L485.1,1500.0 L485.2,1505.2 L485.3,1510.3 L485.4,1515.2 L485.7,1519.7 L486.1,1523.9 L486.7,1527.5 L487.1,1529.3 L487.4,1531.0 L487.8,1532.6 L488.2,1534.1 L488.7,1535.5 L489.1,1536.8 L489.7,1538.1 L490.3,1539.4 L491.0,1540.7 L491.8,1542.0 L492.8,1543.4 L493.9,1544.9 L495.1,1546.3 L496.5,1547.7 L497.8,1549.0 L499.3,1550.3 L500.7,1551.6 L502.2,1552.8 L503.6,1553.9 L505.0,1555.0 L506.2,1555.9 L507.4,1556.7 L508.6,1557.6 L509.8,1558.3 L511.0,1559.1 L512.3,1559.8 L513.5,1560.4 L514.8,1561.0 L516.0,1561.5 L517.3,1562.0 L518.5,1562.4 L519.8,1562.7 L521.0,1562.9 L522.3,1563.1 L523.6,1563.3 L524.9,1563.4 L526.2,1563.5 L527.4,1563.7 L528.7,1563.8 L530.0,1564.0" fill="none" stroke="#0000ff" stroke-width="13.7" stroke-linejoin="round" stroke-linecap="butt" stroke-dasharray="48.1,19.2" stroke-dashoffset="61.3"/>
<path d="M530.0,1564.0 L1400.0,1564.0" fill="none" stroke="#0000ff" stroke-width="13.7" stroke-linejoin="round" stroke-linecap="butt" stroke-dasharray="48.1,19.2" stroke-dashoffset="58.5"/>
<path d="M1400.0,1564.0 L1405.1,1564.0 L1410.2,1563.9 L1415.4,1563.9 L1420.6,1563.9 L1425.7,1563.8 L1430.9,1563.8 L1435.9,1563.8 L1440.8,1563.7 L1445.5,1563.6 L1450.0,1563.5 L1453.4,1563.4 L1456.6,1563.3 L1459.6,1563.3 L1462.6,1563.2 L1465.6,1563.1 L1468.5,1563.0 L1471.5,1562.9 L1474.5,1562.6 L1477.7,1562.4 L1481.0,1562.0 L1485.4,1561.4 L1489.9,1560.7 L1494.6,1559.9 L1499.3,1558.9 L1504.2,1557.9 L1509.1,1556.9 L1514.0,1555.9 L1518.9,1554.9 L1523.8,1553.9 L1528.6,1553.0 L1533.3,1552.1 L1538.1,1551.3 L1542.8,1550.4 L1547.5,1549.5 L1552.3,1548.7 L1557.0,1547.9 L1561.7,1547.1 L1566.5,1546.3 L1571.2,1545.6 L1576.0,1545.0 L1580.8,1544.4 L1585.6,1543.9 L1590.4,1543.4 L1595.2,1543.0 L1600.0,1542.6 L1604.8,1542.2 L1609.6,1541.9 L1614.4,1541.6 L1619.2,1541.3 L1624.0,1541.0 L1628.7,1540.7 L1633.4,1540.5 L1638.0,1540.3 L1642.7,1540.2 L1647.3,1540.0 L1652.0,1539.9 L1656.7,1539.8 L1661.4,1539.7 L1666.2,1539.6 L1671.0,1539.5 L1676.2,1539.4 L1681.6,1539.3 L1687.0,1539.3 L1692.5,1539.2 L1697.9,1539.1 L1703.4,1539.1 L1708.8,1539.1 L1714.0,1539.0 L1719.1,1539.0 L1724.0,1539.0 L1727.9,1539.0 L1731.6,1539.0 L1735.3,1539.0 L1738.8,1539.0 L1742.3,1539.0 L1745.8,1539.0 L1749.3,1539.0 L1752.8,1539.0 L1756.4,1539.0 L1760.0,1539.0 L1763.9,1539.0 L1767.9,1538.9 L1771.8,1538.9 L1775.8,1538.8 L1779.9,1538.8 L1783.9,1538.7 L1787.9,1538.7 L1792.0,1538.6 L1796.0,1538.6 L1800.0,1538.5" fill="none" stroke="#0000ff" stroke-width="13.7" stroke-linejoin="round" stroke-linecap="butt" stroke-dasharray="48.1,19.2" stroke-dashoffset="53.6"/>
</g>
<path d="M306.50,1636 v12 M750.62,1636 v12 M1194.75,1636 v12 M1638.88,1636 v12 M2083.00,1636 v12 M306.5,1564.00 h-12 M306.5,1275.20 h-12 M306.5,986.40 h-12 M306.5,697.60 h-12 M306.5,408.80 h-12 M306.5,120.00 h-12" stroke="#000" stroke-width="3.4" fill="none"/>
<rect x="306.5" y="47.5" width="1776.5" height="1588.5" fill="none" stroke="#000" stroke-width="3.4"/>
<text transform="translate(281.71,1717.36) scale(1.0100,1)" font-family='"DejaVu Serif", serif' font-size="77.30" stroke="#000" stroke-width="0.7" stroke-linejoin="round">0</text>
<text transform="translate(700.17,1717.36) scale(1.0100,1)" font-family='"DejaVu Serif", serif' font-size="77.30" stroke="#000" stroke-width="0.7" stroke-linejoin="round">50</text>
<text transform="translate(1120.54,1717.36) scale(1.0100,1)" font-family='"DejaVu Serif", serif' font-size="77.30" stroke="#000" stroke-width="0.7" stroke-linejoin="round">100</text>
<text transform="translate(1564.67,1717.36) scale(1.0100,1)" font-family='"DejaVu Serif", serif' font-size="77.30" stroke="#000" stroke-width="0.7" stroke-linejoin="round">150</text>
<text transform="translate(2008.44,1717.36) scale(1.0100,1)" font-family='"DejaVu Serif", serif' font-size="77.30" stroke="#000" stroke-width="0.7" stroke-linejoin="round">200</text>
<text transform="translate(162.36,1593.45) scale(0.9810,1)" font-family='"DejaVu Serif", serif' font-size="77.30" stroke="#000" stroke-width="0.7" stroke-linejoin="round">0.0</text>
<text transform="translate(164.82,1304.65) scale(0.9810,1)" font-family='"DejaVu Serif", serif' font-size="77.30" stroke="#000" stroke-width="0.7" stroke-linejoin="round">0.2</text>
<text transform="translate(161.22,1015.85) scale(0.9810,1)" font-family='"DejaVu Serif", serif' font-size="77.30" stroke="#000" stroke-width="0.7" stroke-linejoin="round">0.4</text>
<text transform="translate(162.17,727.05) scale(0.9810,1)" font-family='"DejaVu Serif", serif' font-size="77.30" stroke="#000" stroke-width="0.7" stroke-linejoin="round">0.6</text>
<text transform="translate(162.36,438.25) scale(0.9810,1)" font-family='"DejaVu Serif", serif' font-size="77.30" stroke="#000" stroke-width="0.7" stroke-linejoin="round">0.8</text>
<text transform="translate(158.70,149.45) scale(1.0120,1)" font-family='"DejaVu Serif", serif' font-size="77.30" stroke="#000" stroke-width="0.7" stroke-linejoin="round">1.0</text>
</g>
<g transform="rotate(-90)">
<text transform="translate(-1002.97,122.20) scale(0.9045,1)" font-family='"Liberation Serif", serif' font-size="119.08" stroke="#000" stroke-width="3.0" stroke-linejoin="round">Ψ</text>
<text transform="translate(-920.42,138.80) scale(1.1396,1)" font-family='"Liberation Serif", serif' font-size="78.30" font-style="italic">n</text>
<text transform="translate(-872.17,120.72) scale(1.0502,1)" font-family='"Liberation Serif", serif' font-size="109.09">(</text>
<text transform="translate(-836.23,123.92) scale(1.1950,1)" font-family='"Liberation Serif", serif' font-size="98.39" font-style="italic" stroke="#000" stroke-width="0.8" stroke-linejoin="round">σ</text>
<text transform="translate(-783.20,142.20) scale(1.0105,1)" font-family='"DejaVu Serif", serif' font-size="77.28">+</text>
<text transform="translate(-719.16,120.72) scale(1.0893,1)" font-family='"Liberation Serif", serif' font-size="109.09">)</text>
</g>
<text transform="translate(1153.90,1831.59) scale(1.0224,1)" font-family='"Liberation Serif", serif' font-size="110.78" font-style="italic" stroke="#000" stroke-width="1.2" stroke-linejoin="round">t</text>
<text transform="translate(1185.60,1846.00) scale(1.0758,1)" font-family='"Liberation Serif", serif' font-size="81.83" font-style="italic" stroke="#000" stroke-width="0.8" stroke-linejoin="round">L</text>
<rect x="1680" y="80" width="580" height="670" rx="43" ry="43" fill="#808080"/>
<rect x="1677" y="77" width="580" height="670" rx="43" ry="43" fill="#ffffff"/>
<text transform="translate(1727.67,216.20) scale(1.0000,1)" font-family='"Liberation Serif", serif' font-size="102.00" font-style="italic" stroke="#000" stroke-width="0.6" stroke-linejoin="round">T</text>
<text transform="translate(1732.77,164.87) scale(1.1580,1)" font-family='"Liberation Serif", serif' font-size="101.49">~</text>
<text transform="translate(1783.74,228.50) scale(1.1539,1)" font-family='"Liberation Serif", serif' font-size="73.00" stroke="#000" stroke-width="0.6" stroke-linejoin="round">0</text>
<text transform="translate(1833.54,222.28) scale(0.9801,1)" font-family='"DejaVu Serif", serif' font-size="101.62">=</text>
<text transform="translate(1923.54,216.20) scale(0.9808,1)" font-family='"Liberation Serif", serif' font-size="105.06" stroke="#000" stroke-width="0.6" stroke-linejoin="round">0.98</text>
<text transform="translate(1728.68,326.70) scale(1.0000,1)" font-family='"Liberation Serif", serif' font-size="102.00" font-style="italic" stroke="#000" stroke-width="0.6" stroke-linejoin="round">E</text>
<text transform="translate(1790.50,340.70) scale(1.0985,1)" font-family='"Liberation Serif", serif' font-size="73.00" font-style="italic" stroke="#000" stroke-width="0.6" stroke-linejoin="round">L</text>
<text transform="translate(1831.70,326.70) scale(0.8928,1)" font-family='"Liberation Serif", serif' font-size="102.00" font-style="italic" stroke="#000" stroke-width="0.6" stroke-linejoin="round">/</text>
<text transform="translate(1861.30,326.70) scale(0.9960,1)" font-family='"Liberation Serif", serif' font-size="102.00" font-style="italic" stroke="#000" stroke-width="0.6" stroke-linejoin="round">ω</text>
<text transform="translate(1931.50,340.70) scale(1.0985,1)" font-family='"Liberation Serif", serif' font-size="73.00" font-style="italic" stroke="#000" stroke-width="0.6" stroke-linejoin="round">L</text>
<text transform="translate(1982.77,332.78) scale(0.9864,1)" font-family='"DejaVu Serif", serif' font-size="101.62">=</text>
<text transform="translate(2078.09,326.70) scale(0.9361,1)" font-family='"Liberation Serif", serif' font-size="105.06" stroke="#000" stroke-width="0.6" stroke-linejoin="round">1.5</text>
<text transform="translate(1727.18,444.80) scale(1.0959,1)" font-family='"Liberation Serif", serif' font-size="102.00" font-style="italic" stroke="#000" stroke-width="0.6" stroke-linejoin="round">τ</text>
<text transform="translate(1769.58,458.80) scale(1.0733,1)" font-family='"Liberation Serif", serif' font-size="73.00" font-style="italic" stroke="#000" stroke-width="0.6" stroke-linejoin="round">E</text>
<text transform="translate(1824.67,450.88) scale(0.9864,1)" font-family='"DejaVu Serif", serif' font-size="101.62">=</text>
<text transform="translate(1919.65,444.80) scale(0.9736,1)" font-family='"Liberation Serif", serif' font-size="105.06" stroke="#000" stroke-width="0.6" stroke-linejoin="round">10</text>
<text transform="translate(1726.32,557.10) scale(1.0193,1)" font-family='"Liberation Serif", serif' font-size="102.00" font-style="italic" stroke="#000" stroke-width="0.6" stroke-linejoin="round">ω</text>
<text transform="translate(1798.00,571.10) scale(1.1011,1)" font-family='"Liberation Serif", serif' font-size="73.00" font-style="italic" stroke="#000" stroke-width="0.6" stroke-linejoin="round">L</text>
<text transform="translate(1849.47,563.18) scale(0.9864,1)" font-family='"DejaVu Serif", serif' font-size="101.62">=</text>
<text transform="translate(1940.00,557.10) scale(0.9646,1)" font-family='"Liberation Serif", serif' font-size="105.06" stroke="#000" stroke-width="0.6" stroke-linejoin="round">0.75</text>
<text transform="translate(1726.68,673.10) scale(1.0735,1)" font-family='"Liberation Serif", serif' font-size="102.00" font-style="italic" stroke="#000" stroke-width="0.6" stroke-linejoin="round">γ</text>
<text transform="translate(1777.21,679.18) scale(0.9738,1)" font-family='"DejaVu Serif", serif' font-size="101.62">=</text>
<text transform="translate(1867.52,673.10) scale(0.9854,1)" font-family='"Liberation Serif", serif' font-size="105.06" stroke="#000" stroke-width="0.6" stroke-linejoin="round">0.20</text>
<rect x="1734.5" y="945.5999999999999" width="422.5" height="681.0" rx="14" ry="14" fill="#4d4d4d" stroke="#4d4d4d" stroke-width="3.4"/>
<rect x="1727.9" y="938.8" width="422.5" height="681.0" rx="14" ry="14" fill="#fff" stroke="#cccccc" stroke-width="3.8"/>
<path d="M1763.5,1010.8 H1897.5" stroke="#0000ff" stroke-width="13.7" stroke-linecap="square" fill="none"/>
<text transform="translate(1970.79,1041.40) scale(0.8828,1)" font-family='"Liberation Serif", serif' font-size="96.03" stroke="#000" stroke-width="1.2" stroke-linejoin="round">Ψ</text>
<text transform="translate(2032.89,1055.07) scale(1.0116,1)" font-family='"DejaVu Serif", serif' font-size="57.50">−</text>
<text transform="translate(2075.63,1052.10) scale(1.1242,1)" font-family='"Liberation Serif", serif' font-size="66.30" stroke="#000" stroke-width="0.5" stroke-linejoin="round">2</text>
<path d="M1763.5,1141.8 H1897.5" stroke="#008000" stroke-width="13.7" stroke-linecap="square" fill="none"/>
<text transform="translate(1970.79,1172.10) scale(0.8828,1)" font-family='"Liberation Serif", serif' font-size="96.03" stroke="#000" stroke-width="1.2" stroke-linejoin="round">Ψ</text>
<text transform="translate(2032.89,1185.77) scale(1.0116,1)" font-family='"DejaVu Serif", serif' font-size="57.50">−</text>
<text transform="translate(2080.43,1182.80) scale(0.8387,1)" font-family='"Liberation Serif", serif' font-size="66.30" stroke="#000" stroke-width="0.5" stroke-linejoin="round">1</text>
<path d="M1763.5,1272.8 H1897.5" stroke="#ff0000" stroke-width="13.7" stroke-linecap="square" fill="none"/>
<text transform="translate(1970.79,1302.80) scale(0.8828,1)" font-family='"Liberation Serif", serif' font-size="96.03" stroke="#000" stroke-width="1.2" stroke-linejoin="round">Ψ</text>
<text transform="translate(2033.64,1313.50) scale(1.0682,1)" font-family='"Liberation Serif", serif' font-size="66.30" stroke="#000" stroke-width="0.5" stroke-linejoin="round">0</text>
<path d="M1763,1403.8 H1897.5" stroke="#008000" stroke-width="13.7" stroke-dasharray="48.1,19.2" fill="none"/>
<text transform="translate(1970.79,1433.50) scale(0.8828,1)" font-family='"Liberation Serif", serif' font-size="96.03" stroke="#000" stroke-width="1.2" stroke-linejoin="round">Ψ</text>
<text transform="translate(2037.58,1444.20) scale(0.7959,1)" font-family='"Liberation Serif", serif' font-size="66.30" stroke="#000" stroke-width="0.5" stroke-linejoin="round">1</text>
<path d="M1763,1534.8 H1897.5" stroke="#0000ff" stroke-width="13.7" stroke-dasharray="48.1,19.2" fill="none"/>
<text transform="translate(1970.79,1564.20) scale(0.8828,1)" font-family='"Liberation Serif", serif' font-size="96.03" stroke="#000" stroke-width="1.2" stroke-linejoin="round">Ψ</text>
<text transform="translate(2033.20,1574.90) scale(1.1017,1)" font-family='"Liberation Serif", serif' font-size="66.30" stroke="#000" stroke-width="0.5" stroke-linejoin="round">2</text>
<g id="axes2">
<path d="M306.50,2119 V3708.5 M750.62,2119 V3708.5 M1194.75,2119 V3708.5 M1638.88,2119 V3708.5 M2083.00,2119 V3708.5 M306.5,3635.00 H2083.0 M306.5,3450.25 H2083.0 M306.5,3265.50 H2083.0 M306.5,3080.75 H2083.0 M306.5,2896.00 H2083.0 M306.5,2711.25 H2083.0 M306.5,2526.50 H2083.0 M306.5,2341.75 H2083.0 M306.5,2157.00 H2083.0" stroke="#b0b0b0" stroke-width="3.4" fill="none"/>
<clipPath id="clip2"><rect x="306.5" y="2119" width="1776.5" height="1589.5"/></clipPath>
<g clip-path="url(#clip2)">
<path d="M306.5,3635.0 L306.6,3621.3 L306.7,3607.4 L306.8,3593.4 L306.8,3579.3 L306.9,3565.3 L307.0,3551.5 L307.1,3537.9 L307.2,3524.8 L307.4,3512.1 L307.5,3500.0 L307.6,3491.0 L307.7,3482.1 L307.8,3473.3 L307.9,3464.8 L308.0,3456.4 L308.1,3448.4 L308.2,3440.7 L308.4,3433.4 L308.7,3426.4 L309.0,3420.0 L309.2,3416.0 L309.3,3411.8 L309.4,3407.6 L309.5,3403.6 L309.6,3399.7 L309.9,3396.2 L310.2,3393.2 L310.6,3390.7 L311.2,3389.0 L312.0,3388.0 L312.4,3387.9 L312.8,3387.8 L313.2,3387.9 L313.7,3388.0 L314.1,3388.2 L314.6,3388.5 L315.1,3388.8 L315.5,3389.2 L316.0,3389.6 L316.4,3390.0 L317.2,3391.2 L317.8,3392.9 L318.3,3395.1 L318.8,3397.5 L319.3,3399.9 L319.9,3402.4 L320.5,3404.7 L321.2,3406.6 L322.1,3408.1 L323.2,3409.0 L324.4,3409.3 L325.7,3409.2 L327.1,3408.8 L328.6,3408.1 L330.2,3407.3 L331.9,3406.3 L333.6,3405.4 L335.2,3404.4 L336.9,3403.6 L338.5,3403.0 L340.2,3402.5 L341.8,3401.9 L343.5,3401.3 L345.2,3400.8 L346.9,3400.2 L348.6,3399.7 L350.4,3399.3 L352.1,3399.0 L353.8,3398.7 L355.5,3398.6 L357.2,3398.6 L358.9,3398.8 L360.7,3399.1 L362.4,3399.4 L364.2,3399.8 L365.9,3400.3 L367.6,3400.7 L369.3,3401.1 L370.9,3401.4 L372.5,3401.6 L373.8,3401.7 L375.0,3401.8 L376.2,3401.8 L377.4,3401.9 L378.5,3401.9 L379.7,3401.9 L380.8,3401.8 L382.0,3401.8 L383.2,3401.7 L384.4,3401.6 L385.7,3401.5 L387.1,3401.3 L388.5,3401.1 L389.9,3400.9 L391.3,3400.7 L392.7,3400.5 L394.1,3400.2 L395.4,3399.8 L396.7,3399.4 L398.0,3399.0 L399.1,3398.6 L400.2,3398.1 L401.4,3397.6 L402.4,3397.1 L403.5,3396.6 L404.5,3396.0 L405.5,3395.3 L406.4,3394.6 L407.3,3393.8 L408.2,3393.0 L409.1,3392.0 L409.9,3390.8 L410.7,3389.6 L411.5,3388.4 L412.1,3387.0 L412.8,3385.6 L413.4,3384.2 L414.0,3382.6 L414.5,3381.1 L415.0,3379.5 L415.6,3377.3 L416.0,3375.0 L416.4,3372.5 L416.7,3369.9 L417.0,3367.2 L417.2,3364.6 L417.4,3361.9 L417.7,3359.2 L418.0,3356.6 L418.4,3354.0 L418.8,3351.5 L419.3,3349.0 L419.7,3346.4 L420.2,3343.8 L420.7,3341.3 L421.2,3338.8 L421.7,3336.4 L422.3,3334.1 L422.9,3331.9 L423.6,3330.0 L424.1,3328.7 L424.6,3327.4 L425.1,3326.0 L425.6,3324.8 L426.1,3323.5 L426.7,3322.4 L427.3,3321.5 L427.8,3320.7 L428.4,3320.2 L429.0,3320.0 L429.5,3320.0 L430.0,3320.2 L430.5,3320.5 L431.1,3321.0 L431.6,3321.5 L432.1,3322.2 L432.6,3322.8 L433.1,3323.5 L433.6,3324.3 L434.0,3325.0 L434.5,3326.1 L435.0,3327.2 L435.4,3328.4 L435.7,3329.8 L436.0,3331.2 L436.2,3332.7 L436.5,3334.3 L436.7,3336.1 L436.9,3338.0 L437.2,3340.0 L437.8,3345.6 L438.2,3352.3 L438.6,3360.0 L438.9,3368.4 L439.2,3377.4 L439.5,3386.6 L439.7,3395.9 L440.0,3405.0 L440.3,3413.8 L440.6,3422.0 L440.9,3429.1 L441.3,3436.0 L441.6,3442.9 L441.9,3449.7 L442.3,3456.4 L442.6,3463.1 L443.0,3469.8 L443.3,3476.5 L443.7,3483.2 L444.0,3490.0 L444.3,3496.9 L444.7,3503.8 L445.0,3510.9 L445.3,3517.9 L445.6,3524.9 L446.0,3531.8 L446.3,3538.7 L446.7,3545.3 L447.0,3551.8 L447.4,3558.0 L447.7,3563.2 L448.0,3568.9 L448.4,3574.9 L448.7,3580.8 L449.1,3586.5 L449.4,3591.6 L449.8,3596.1 L450.1,3599.5 L450.5,3601.8 L450.8,3602.6 L451.1,3601.9 L451.5,3599.9 L451.8,3596.7 L452.1,3592.6 L452.4,3587.9 L452.8,3582.6 L453.1,3576.9 L453.4,3571.2 L453.7,3565.4 L454.0,3560.0 L454.5,3551.2 L454.9,3541.8 L455.3,3531.8 L455.7,3521.3 L456.0,3510.2 L456.4,3498.8 L456.8,3487.0 L457.2,3474.9 L457.6,3462.6 L458.0,3450.0 L458.6,3432.5 L459.3,3414.2 L460.0,3395.1 L460.7,3375.3 L461.4,3355.1 L462.1,3334.5 L462.8,3313.5 L463.6,3292.4 L464.3,3271.2 L465.0,3250.0 L465.8,3225.9 L466.6,3201.1 L467.3,3175.8 L468.1,3150.0 L468.9,3124.2 L469.7,3098.4 L470.5,3072.9 L471.3,3047.8 L472.1,3023.5 L473.0,3000.0 L473.7,2980.4 L474.4,2960.7 L475.2,2941.1 L475.9,2921.7 L476.6,2902.8 L477.4,2884.4 L478.2,2866.7 L479.1,2850.0 L480.0,2834.4 L481.0,2820.0 L481.7,2811.3 L482.4,2802.1 L483.1,2792.9 L483.9,2783.9 L484.7,2775.5 L485.5,2767.9 L486.2,2761.4 L487.0,2756.4 L487.8,2753.2 L488.5,2752.0 L489.0,2752.5 L489.4,2753.9 L489.9,2756.0 L490.4,2758.8 L490.8,2762.0 L491.3,2765.5 L491.7,2769.2 L492.2,2773.0 L492.6,2776.6 L493.0,2780.0 L493.5,2784.3 L494.1,2788.6 L494.6,2793.1 L495.1,2797.7 L495.5,2802.4 L496.0,2807.3 L496.5,2812.4 L496.9,2817.7 L497.4,2823.2 L497.8,2829.0 L498.4,2838.1 L499.0,2847.8 L499.6,2857.9 L500.1,2868.5 L500.7,2879.5 L501.2,2890.9 L501.7,2902.7 L502.1,2914.8 L502.6,2927.3 L503.0,2940.0 L503.5,2958.2 L504.0,2977.5 L504.5,2997.5 L504.9,3018.3 L505.2,3039.7 L505.6,3061.5 L505.9,3083.6 L506.3,3105.8 L506.6,3128.0 L507.0,3150.0 L507.4,3174.3 L507.8,3199.4 L508.2,3224.9 L508.6,3250.7 L509.0,3276.6 L509.4,3302.4 L509.7,3327.8 L510.1,3352.7 L510.6,3376.8 L511.0,3400.0 L511.4,3419.9 L511.7,3441.5 L512.1,3464.1 L512.5,3486.7 L512.9,3508.3 L513.3,3528.0 L513.7,3545.0 L514.1,3558.3 L514.6,3566.9 L515.0,3570.0 L515.4,3567.8 L515.8,3561.6 L516.1,3552.1 L516.5,3539.9 L516.9,3525.8 L517.3,3510.5 L517.7,3494.5 L518.2,3478.7 L518.6,3463.6 L519.0,3450.0 L519.5,3435.5 L519.9,3420.6 L520.4,3405.3 L520.8,3389.7 L521.3,3374.1 L521.8,3358.6 L522.3,3343.3 L522.8,3328.3 L523.4,3313.8 L524.0,3300.0 L524.5,3288.8 L525.0,3277.5 L525.5,3266.1 L525.9,3254.8 L526.5,3243.9 L527.0,3233.5 L527.6,3223.7 L528.3,3214.8 L529.1,3206.8 L530.0,3200.0 L530.4,3197.2 L530.9,3194.3 L531.4,3191.6 L532.0,3188.9 L532.5,3186.5 L533.0,3184.3 L533.6,3182.5 L534.1,3181.1 L534.6,3180.3 L535.0,3180.0 L535.7,3181.2 L536.4,3184.5 L536.9,3189.7 L537.4,3196.3 L537.9,3204.1 L538.3,3212.7 L538.8,3222.0 L539.2,3231.5 L539.6,3240.9 L540.0,3250.0 L540.7,3266.0 L541.4,3284.0 L542.0,3303.6 L542.6,3324.3 L543.1,3345.8 L543.7,3367.6 L544.2,3389.4 L544.8,3410.6 L545.4,3431.0 L546.0,3450.0 L546.6,3466.3 L547.2,3484.1 L547.8,3502.7 L548.4,3521.2 L549.0,3539.1 L549.6,3555.4 L550.3,3569.4 L550.9,3580.3 L551.4,3587.5 L552.0,3590.0 L552.4,3588.3 L552.8,3583.6 L553.2,3576.4 L553.6,3567.2 L554.0,3556.5 L554.4,3545.0 L554.8,3533.0 L555.2,3521.2 L555.6,3510.0 L556.0,3500.0 L556.5,3489.3 L557.0,3477.1 L557.5,3464.1 L558.0,3450.8 L558.5,3437.8 L559.0,3425.8 L559.5,3415.5 L560.0,3407.3 L560.5,3401.9 L561.0,3400.0 L561.7,3406.4 L562.4,3423.8 L563.1,3449.5 L563.7,3480.6 L564.4,3514.5 L565.1,3548.4 L565.7,3579.5 L566.3,3605.2 L567.0,3622.6 L567.6,3629.0 L568.1,3624.0 L568.7,3610.4 L569.2,3590.3 L569.7,3566.0 L570.2,3539.5 L570.7,3513.0 L571.2,3488.7 L571.8,3468.6 L572.4,3455.0 L573.0,3450.0 L573.6,3453.7 L574.2,3463.7 L574.9,3478.5 L575.6,3496.5 L576.2,3516.0 L576.9,3535.5 L577.6,3553.5 L578.3,3568.3 L578.9,3578.3 L579.5,3582.0 L580.1,3578.5 L580.7,3568.9 L581.3,3554.1 L581.8,3535.3 L582.3,3513.7 L582.8,3490.2 L583.3,3466.0 L583.8,3442.2 L584.4,3419.8 L585.0,3400.0 L585.6,3381.4 L586.2,3361.9 L586.7,3341.8 L587.3,3321.7 L587.9,3301.8 L588.6,3282.6 L589.3,3264.4 L590.1,3247.7 L591.0,3232.7 L592.0,3220.0 L592.5,3214.5 L593.1,3208.8 L593.7,3203.3 L594.4,3198.0 L595.0,3193.2 L595.7,3188.8 L596.3,3185.2 L596.9,3182.4 L597.5,3180.6 L598.0,3180.0 L598.6,3181.2 L599.2,3184.5 L599.8,3189.6 L600.3,3196.2 L600.8,3204.0 L601.2,3212.7 L601.7,3222.0 L602.1,3231.5 L602.6,3240.9 L603.0,3250.0 L603.7,3266.0 L604.4,3283.9 L605.0,3303.5 L605.6,3324.1 L606.1,3345.6 L606.7,3367.4 L607.2,3389.1 L607.8,3410.4 L608.4,3430.8 L609.0,3450.0 L609.6,3466.7 L610.2,3485.1 L610.8,3504.3 L611.4,3523.6 L612.0,3542.1 L612.6,3559.0 L613.2,3573.6 L613.9,3584.9 L614.4,3592.4 L615.0,3595.0 L615.5,3592.4 L616.1,3585.2 L616.6,3574.0 L617.1,3559.8 L617.6,3543.1 L618.1,3524.7 L618.6,3505.5 L619.0,3486.2 L619.5,3467.4 L620.0,3450.0 L620.6,3427.2 L621.2,3402.5 L621.8,3376.4 L622.3,3349.5 L622.9,3322.2 L623.5,3295.1 L624.0,3268.9 L624.7,3243.9 L625.3,3220.7 L626.0,3200.0 L626.4,3187.8 L626.8,3175.7 L627.1,3163.9 L627.5,3152.5 L627.8,3141.6 L628.3,3131.4 L628.8,3122.0 L629.4,3113.6 L630.1,3106.2 L631.0,3100.0 L631.4,3097.8 L631.8,3095.6 L632.3,3093.5 L632.8,3091.5 L633.3,3089.7 L633.8,3088.1 L634.3,3086.8 L634.7,3085.8 L635.2,3085.2 L635.6,3085.0 L636.4,3086.2 L637.0,3089.6 L637.6,3094.6 L638.1,3101.1 L638.6,3108.6 L639.1,3116.8 L639.5,3125.4 L640.0,3134.1 L640.5,3142.4 L641.0,3150.0 L641.7,3159.2 L642.3,3168.8 L643.0,3178.8 L643.7,3189.0 L644.4,3199.4 L645.0,3209.8 L645.7,3220.2 L646.5,3230.4 L647.2,3240.4 L648.0,3250.0 L648.7,3258.3 L649.5,3266.5 L650.3,3274.5 L651.1,3282.4 L652.0,3290.3 L652.8,3298.1 L653.6,3305.9 L654.5,3313.8 L655.2,3321.8 L656.0,3330.0 L656.8,3338.8 L657.5,3347.6 L658.3,3356.5 L659.0,3365.4 L659.7,3374.4 L660.4,3383.4 L661.1,3392.5 L661.8,3401.6 L662.4,3410.8 L663.0,3420.0 L663.6,3429.9 L664.1,3439.9 L664.6,3450.1 L665.1,3460.4 L665.6,3470.7 L666.0,3480.9 L666.5,3491.0 L667.0,3501.0 L667.5,3510.6 L668.0,3520.0 L668.5,3528.3 L669.0,3537.5 L669.4,3547.0 L670.0,3556.6 L670.5,3565.7 L671.0,3574.1 L671.5,3581.4 L672.0,3587.0 L672.5,3590.7 L673.0,3592.0 L673.5,3590.7 L674.0,3587.0 L674.5,3581.4 L675.0,3574.1 L675.5,3565.7 L676.0,3556.6 L676.6,3547.0 L677.0,3537.5 L677.5,3528.3 L678.0,3520.0 L678.5,3510.6 L679.0,3500.9 L679.5,3490.9 L679.9,3480.6 L680.4,3470.3 L680.8,3460.0 L681.3,3449.7 L681.8,3439.5 L682.4,3429.6 L683.0,3420.0 L683.6,3411.6 L684.2,3403.2 L684.9,3395.0 L685.5,3386.8 L686.2,3378.7 L686.9,3370.7 L687.7,3362.9 L688.4,3355.1 L689.2,3347.5 L690.0,3340.0 L690.7,3333.6 L691.4,3327.3 L692.1,3321.0 L692.9,3314.8 L693.6,3308.8 L694.4,3302.8 L695.2,3296.9 L696.1,3291.1 L697.0,3285.5 L698.0,3280.0 L698.9,3275.1 L699.7,3269.8 L700.6,3264.3 L701.6,3258.8 L702.5,3253.5 L703.5,3248.7 L704.5,3244.5 L705.6,3241.2 L706.8,3238.9 L708.0,3238.0 L708.7,3238.1 L709.5,3238.7 L710.3,3239.6 L711.2,3240.9 L712.0,3242.3 L712.9,3243.9 L713.7,3245.5 L714.5,3247.1 L715.3,3248.7 L716.0,3250.0 L716.6,3251.3 L717.2,3252.7 L717.8,3254.2 L718.3,3255.7 L718.8,3257.1 L719.4,3258.5 L719.9,3259.8 L720.6,3260.8 L721.2,3261.6 L722.0,3262.0 L722.7,3262.0 L723.5,3261.8 L724.3,3261.3 L725.2,3260.6 L726.0,3259.9 L726.9,3259.2 L727.8,3258.5 L728.6,3258.1 L729.3,3257.9 L730.0,3258.0 L731.1,3259.0 L732.0,3260.8 L732.8,3263.3 L733.4,3266.3 L733.9,3269.8 L734.3,3273.6 L734.7,3277.7 L735.1,3281.8 L735.5,3286.0 L736.0,3290.0 L736.7,3296.6 L737.4,3303.8 L737.9,3311.5 L738.4,3319.7 L738.9,3328.1 L739.3,3336.7 L739.7,3345.3 L740.1,3353.8 L740.6,3362.1 L741.0,3370.0 L741.4,3377.6 L741.7,3386.1 L741.9,3395.0 L742.2,3404.0 L742.4,3412.7 L742.7,3420.7 L743.1,3427.6 L743.6,3433.0 L744.2,3436.6 L745.0,3438.0 L745.4,3437.8 L745.9,3437.2 L746.4,3436.2 L746.9,3435.0 L747.4,3433.5 L747.9,3431.8 L748.4,3430.1 L749.0,3428.3 L749.5,3426.6 L750.0,3425.0 L750.7,3422.8 L751.3,3420.3 L751.8,3417.6 L752.4,3414.8 L753.0,3411.9 L753.6,3409.2 L754.3,3406.5 L755.1,3404.0 L756.0,3401.8 L757.0,3400.0 L757.7,3399.0 L758.5,3398.0 L759.3,3397.1 L760.2,3396.3 L761.1,3395.6 L762.0,3394.9 L762.9,3394.3 L763.9,3393.8 L764.9,3393.4 L766.0,3393.0 L767.2,3392.7 L768.5,3392.6 L769.8,3392.6 L771.2,3392.7 L772.6,3392.9 L774.0,3393.2 L775.5,3393.4 L777.0,3393.7 L778.5,3393.9 L780.0,3394.0 L781.8,3394.1 L783.6,3394.2 L785.5,3394.3 L787.4,3394.5 L789.3,3394.6 L791.3,3394.7 L793.3,3394.8 L795.4,3394.9 L797.7,3394.9 L800.0,3395.0 L803.8,3395.0 L807.8,3395.1 L812.0,3395.0 L816.5,3395.0 L821.1,3394.9 L825.8,3394.8 L830.6,3394.7 L835.4,3394.6 L840.2,3394.6 L845.0,3394.5 L850.2,3394.4 L855.4,3394.4 L860.6,3394.3 L865.8,3394.3 L871.1,3394.2 L876.6,3394.2 L882.1,3394.1 L887.9,3394.1 L893.8,3394.0 L900.0,3394.0 L908.4,3393.9 L916.6,3393.9 L924.9,3393.9 L933.4,3393.8 L942.3,3393.8 L951.8,3393.7 L962.2,3393.7 L973.5,3393.7 L986.1,3393.6 L1000.0,3393.6 L1047.2,3393.5 L1106.5,3393.5 L1175.8,3393.5 L1252.8,3393.5 L1335.6,3393.5 L1421.9,3393.5 L1509.6,3393.5 L1596.6,3393.6 L1680.8,3393.6 L1760.0,3393.6" fill="none" stroke="#0000ff" stroke-width="13.7" stroke-linejoin="round" stroke-linecap="square"/>
<path d="M306.5,3635.0 L306.6,3616.5 L306.8,3597.9 L306.9,3579.3 L307.1,3560.6 L307.2,3542.0 L307.4,3523.4 L307.5,3504.9 L307.7,3486.5 L307.8,3468.2 L308.0,3450.0 L308.2,3432.4 L308.3,3414.5 L308.5,3396.5 L308.7,3378.4 L308.9,3360.6 L309.1,3343.1 L309.3,3326.1 L309.5,3309.8 L309.8,3294.4 L310.0,3280.0 L310.1,3270.4 L310.2,3260.8 L310.2,3251.2 L310.2,3241.8 L310.3,3232.9 L310.4,3224.5 L310.6,3216.9 L310.9,3210.2 L311.4,3204.5 L312.0,3200.0 L312.3,3198.8 L312.5,3197.6 L312.8,3196.4 L313.1,3195.4 L313.4,3194.4 L313.8,3193.6 L314.1,3192.9 L314.4,3192.4 L314.7,3192.1 L315.0,3192.0 L315.7,3193.2 L316.4,3196.2 L317.1,3200.8 L317.8,3206.5 L318.5,3213.1 L319.1,3220.2 L319.8,3227.4 L320.4,3234.3 L321.0,3240.6 L321.5,3246.0 L321.9,3249.7 L322.2,3253.4 L322.6,3257.0 L322.9,3260.5 L323.2,3264.0 L323.5,3267.3 L323.8,3270.6 L324.1,3273.8 L324.5,3276.9 L325.0,3280.0 L325.4,3282.4 L325.8,3284.8 L326.2,3287.2 L326.6,3289.5 L327.0,3291.8 L327.5,3294.0 L328.0,3296.1 L328.6,3298.2 L329.2,3300.1 L330.0,3302.0 L330.7,3303.5 L331.4,3304.9 L332.1,3306.3 L332.8,3307.6 L333.7,3308.9 L334.5,3310.1 L335.4,3311.3 L336.4,3312.3 L337.4,3313.2 L338.5,3314.0 L339.6,3314.6 L340.9,3315.0 L342.2,3315.3 L343.6,3315.5 L345.0,3315.6 L346.5,3315.7 L347.9,3315.8 L349.3,3316.0 L350.7,3316.3 L352.0,3316.7 L353.3,3317.2 L354.6,3317.8 L355.8,3318.4 L357.1,3319.0 L358.4,3319.7 L359.6,3320.5 L360.7,3321.3 L361.9,3322.1 L363.0,3323.0 L364.0,3324.0 L365.1,3325.1 L366.1,3326.4 L367.0,3327.7 L368.0,3329.0 L368.9,3330.5 L369.7,3332.0 L370.5,3333.5 L371.2,3335.0 L371.9,3336.5 L372.5,3338.0 L373.0,3339.5 L373.5,3341.0 L373.8,3342.6 L374.2,3344.2 L374.4,3345.8 L374.7,3347.4 L374.9,3349.0 L375.2,3350.7 L375.6,3352.3 L376.0,3354.0 L376.6,3356.0 L377.1,3358.0 L377.8,3360.1 L378.4,3362.2 L379.1,3364.3 L379.8,3366.5 L380.6,3368.5 L381.3,3370.6 L382.0,3372.5 L382.7,3374.4 L383.3,3376.0 L383.9,3377.8 L384.5,3379.6 L385.1,3381.4 L385.7,3383.1 L386.3,3384.7 L386.9,3386.0 L387.5,3387.1 L388.1,3387.8 L388.7,3388.0 L389.5,3387.6 L390.3,3386.5 L391.1,3384.9 L391.9,3382.8 L392.7,3380.4 L393.5,3377.8 L394.3,3375.1 L395.0,3372.4 L395.7,3369.9 L396.3,3367.6 L396.8,3365.5 L397.3,3363.3 L397.7,3361.1 L398.0,3358.9 L398.3,3356.7 L398.6,3354.5 L398.9,3352.3 L399.1,3350.0 L399.4,3347.8 L399.7,3345.5 L400.0,3343.1 L400.3,3340.6 L400.7,3338.2 L401.0,3335.7 L401.3,3333.2 L401.6,3330.7 L401.8,3328.1 L402.1,3325.5 L402.3,3322.8 L402.5,3320.0 L402.7,3316.4 L402.8,3312.7 L402.8,3309.0 L402.8,3305.2 L402.8,3301.2 L402.8,3297.2 L402.8,3293.1 L402.8,3288.8 L402.9,3284.5 L403.0,3280.0 L403.3,3273.9 L403.6,3267.5 L404.0,3260.9 L404.5,3254.1 L404.9,3247.1 L405.5,3240.1 L406.0,3233.0 L406.5,3225.9 L407.0,3218.9 L407.5,3212.0 L408.0,3205.2 L408.5,3198.4 L408.9,3191.6 L409.4,3184.8 L409.9,3178.0 L410.4,3171.2 L410.9,3164.4 L411.4,3157.6 L412.0,3150.8 L412.5,3144.0 L413.1,3137.2 L413.6,3130.4 L414.2,3123.6 L414.7,3116.8 L415.3,3110.0 L415.9,3103.2 L416.5,3096.4 L417.2,3089.6 L417.8,3082.8 L418.5,3076.0 L419.2,3069.2 L419.9,3062.4 L420.7,3055.6 L421.4,3048.8 L422.2,3042.0 L423.0,3035.2 L423.9,3028.4 L424.7,3021.6 L425.6,3014.8 L426.5,3008.0 L427.4,3001.3 L428.4,2994.7 L429.4,2988.2 L430.4,2981.7 L431.4,2975.2 L432.5,2968.6 L433.6,2961.8 L434.7,2954.8 L435.8,2947.6 L437.0,2940.0 L438.6,2929.3 L440.3,2917.9 L442.1,2905.9 L443.9,2893.6 L445.8,2881.0 L447.6,2868.4 L449.5,2855.8 L451.4,2843.4 L453.2,2831.4 L455.0,2820.0 L456.5,2810.3 L458.0,2800.4 L459.5,2790.6 L461.0,2780.8 L462.5,2771.3 L463.9,2762.0 L465.4,2753.2 L466.9,2744.8 L468.5,2737.1 L470.0,2730.0 L471.0,2725.8 L472.0,2721.5 L473.0,2717.1 L474.1,2712.8 L475.2,2708.8 L476.2,2705.3 L477.2,2702.2 L478.1,2699.9 L478.9,2698.5 L479.7,2698.0 L480.7,2699.6 L481.4,2703.9 L482.0,2710.4 L482.5,2718.5 L482.8,2728.0 L483.1,2738.3 L483.3,2748.9 L483.6,2759.3 L483.9,2769.2 L484.2,2778.0 L484.6,2786.4 L485.0,2794.9 L485.4,2803.4 L485.7,2812.0 L486.1,2820.6 L486.4,2829.2 L486.7,2837.7 L487.0,2846.2 L487.3,2854.7 L487.6,2863.0 L487.8,2870.7 L488.0,2878.0 L488.2,2885.2 L488.4,2892.3 L488.5,2899.4 L488.7,2906.7 L488.8,2914.2 L489.0,2922.2 L489.1,2930.8 L489.3,2940.0 L489.6,2956.7 L490.0,2975.1 L490.3,2994.8 L490.7,3015.7 L491.1,3037.4 L491.5,3059.7 L491.9,3082.4 L492.2,3105.2 L492.6,3127.8 L493.0,3150.0 L493.4,3174.4 L493.8,3199.5 L494.2,3225.1 L494.5,3251.1 L494.9,3277.1 L495.3,3303.0 L495.7,3328.4 L496.1,3353.2 L496.6,3377.2 L497.0,3400.0 L497.4,3418.9 L497.7,3439.4 L498.1,3460.7 L498.5,3481.9 L498.9,3502.2 L499.3,3520.7 L499.7,3536.6 L500.1,3549.0 L500.6,3557.1 L501.0,3560.0 L501.4,3558.1 L501.8,3552.6 L502.2,3544.2 L502.6,3533.4 L503.0,3520.8 L503.4,3506.9 L503.8,3492.3 L504.2,3477.6 L504.6,3463.3 L505.0,3450.0 L505.5,3432.2 L506.0,3413.1 L506.5,3393.0 L507.0,3372.2 L507.4,3351.0 L507.9,3329.8 L508.4,3308.7 L508.9,3288.2 L509.4,3268.5 L510.0,3250.0 L510.4,3235.5 L510.9,3220.7 L511.3,3206.1 L511.7,3191.6 L512.2,3177.5 L512.6,3164.1 L513.1,3151.4 L513.7,3139.7 L514.3,3129.2 L515.0,3120.0 L515.4,3115.9 L515.7,3111.7 L516.2,3107.5 L516.6,3103.6 L517.0,3099.9 L517.4,3096.6 L517.8,3093.9 L518.2,3091.8 L518.6,3090.5 L519.0,3090.0 L519.5,3091.0 L519.9,3093.8 L520.4,3098.1 L520.8,3103.7 L521.2,3110.3 L521.6,3117.7 L521.9,3125.6 L522.3,3133.8 L522.6,3142.0 L523.0,3150.0 L523.6,3165.3 L524.2,3182.8 L524.7,3201.9 L525.2,3222.4 L525.7,3243.7 L526.1,3265.6 L526.6,3287.5 L527.0,3309.2 L527.5,3330.1 L528.0,3350.0 L528.5,3367.8 L528.9,3385.6 L529.4,3403.5 L529.8,3421.2 L530.3,3438.7 L530.8,3456.0 L531.3,3472.8 L531.8,3489.1 L532.4,3504.9 L533.0,3520.0 L533.5,3531.9 L534.1,3544.7 L534.6,3557.9 L535.2,3571.0 L535.9,3583.5 L536.5,3594.9 L537.0,3604.7 L537.6,3612.3 L538.1,3617.2 L538.6,3619.0 L539.1,3616.8 L539.5,3610.6 L539.9,3601.2 L540.2,3589.2 L540.5,3575.2 L540.8,3560.0 L541.1,3544.2 L541.4,3528.5 L541.7,3513.5 L542.0,3500.0 L542.3,3485.6 L542.6,3470.8 L542.9,3455.7 L543.2,3440.4 L543.5,3425.0 L543.8,3409.6 L544.1,3394.3 L544.4,3379.2 L544.7,3364.4 L545.0,3350.0 L545.3,3337.1 L545.6,3323.9 L545.8,3310.5 L546.1,3297.2 L546.4,3284.2 L546.7,3271.6 L547.1,3259.7 L547.5,3248.7 L548.0,3238.7 L548.5,3230.0 L548.8,3225.9 L549.1,3221.7 L549.5,3217.6 L549.9,3213.7 L550.2,3210.0 L550.6,3206.7 L551.0,3203.9 L551.3,3201.8 L551.7,3200.5 L552.0,3200.0 L552.5,3201.8 L553.0,3206.8 L553.4,3214.4 L553.8,3224.2 L554.1,3235.7 L554.5,3248.3 L554.8,3261.6 L555.2,3274.9 L555.6,3287.9 L556.0,3300.0 L556.6,3316.1 L557.2,3333.3 L557.8,3351.5 L558.4,3370.3 L559.1,3389.5 L559.7,3408.7 L560.5,3427.6 L561.2,3446.0 L562.1,3463.6 L563.0,3480.0 L563.8,3493.1 L564.7,3507.3 L565.6,3521.9 L566.5,3536.5 L567.5,3550.5 L568.5,3563.2 L569.5,3574.0 L570.4,3582.5 L571.2,3588.0 L572.0,3590.0 L572.8,3587.4 L573.5,3580.3 L574.2,3569.3 L574.8,3555.3 L575.4,3539.0 L575.9,3521.2 L576.5,3502.6 L577.0,3484.1 L577.5,3466.3 L578.0,3450.0 L578.6,3431.1 L579.1,3411.2 L579.6,3390.5 L580.1,3369.3 L580.5,3347.9 L580.9,3326.8 L581.4,3306.1 L581.9,3286.2 L582.4,3267.4 L583.0,3250.0 L583.4,3238.3 L583.8,3226.6 L584.2,3215.1 L584.7,3203.8 L585.1,3193.1 L585.6,3182.8 L586.1,3173.3 L586.6,3164.5 L587.3,3156.7 L588.0,3150.0 L588.4,3147.2 L588.8,3144.4 L589.2,3141.6 L589.6,3138.9 L590.0,3136.5 L590.4,3134.3 L590.9,3132.5 L591.3,3131.2 L591.6,3130.3 L592.0,3130.0 L592.6,3131.2 L593.1,3134.5 L593.6,3139.6 L594.0,3146.3 L594.3,3154.1 L594.7,3162.7 L595.0,3172.0 L595.3,3181.5 L595.7,3190.9 L596.0,3200.0 L596.6,3215.9 L597.1,3233.6 L597.6,3252.7 L598.1,3273.0 L598.6,3294.1 L599.0,3315.6 L599.5,3337.3 L600.0,3358.9 L600.5,3379.9 L601.0,3400.0 L601.6,3420.5 L602.1,3443.4 L602.8,3467.7 L603.4,3492.3 L604.0,3516.1 L604.6,3538.0 L605.3,3556.9 L605.9,3571.8 L606.5,3581.5 L607.0,3585.0 L607.4,3582.6 L607.9,3575.7 L608.3,3565.2 L608.7,3551.7 L609.1,3536.0 L609.4,3518.9 L609.8,3500.9 L610.2,3483.0 L610.6,3465.8 L611.0,3450.0 L611.5,3431.4 L611.9,3411.7 L612.4,3391.3 L612.8,3370.4 L613.3,3349.3 L613.8,3328.2 L614.3,3307.5 L614.8,3287.4 L615.4,3268.1 L616.0,3250.0 L616.5,3236.4 L617.0,3222.9 L617.5,3209.5 L618.0,3196.3 L618.5,3183.6 L619.0,3171.3 L619.7,3159.7 L620.4,3148.9 L621.1,3138.9 L622.0,3130.0 L622.5,3125.3 L623.1,3120.5 L623.7,3115.7 L624.3,3111.1 L625.0,3106.8 L625.6,3102.9 L626.3,3099.7 L626.9,3097.2 L627.5,3095.6 L628.0,3095.0 L628.6,3095.9 L629.2,3098.4 L629.8,3102.4 L630.3,3107.5 L630.8,3113.5 L631.2,3120.3 L631.7,3127.5 L632.1,3135.0 L632.6,3142.6 L633.0,3150.0 L633.7,3164.9 L634.3,3181.8 L634.9,3200.3 L635.3,3220.3 L635.7,3241.3 L636.1,3262.9 L636.5,3285.0 L637.0,3307.1 L637.4,3328.8 L638.0,3350.0 L638.7,3374.6 L639.5,3402.7 L640.4,3433.0 L641.2,3463.8 L642.1,3493.9 L643.0,3521.8 L643.8,3546.0 L644.6,3565.0 L645.3,3577.5 L645.8,3582.0 L646.2,3578.7 L646.5,3569.4 L646.7,3555.1 L646.9,3536.8 L647.0,3515.5 L647.1,3492.3 L647.2,3468.2 L647.3,3444.1 L647.4,3421.0 L647.5,3400.0 L647.7,3376.4 L647.8,3351.6 L648.0,3326.2 L648.1,3300.2 L648.3,3274.0 L648.4,3247.9 L648.5,3222.2 L648.7,3197.1 L648.8,3172.9 L649.0,3150.0 L649.1,3132.2 L649.2,3114.5 L649.3,3097.0 L649.4,3079.7 L649.5,3063.0 L649.7,3046.8 L649.8,3031.2 L650.0,3016.5 L650.2,3002.7 L650.5,2990.0 L650.7,2982.3 L650.9,2974.2 L651.1,2966.1 L651.3,2958.2 L651.5,2950.7 L651.7,2944.0 L652.0,2938.3 L652.3,2933.9 L652.6,2931.0 L653.0,2930.0 L653.3,2930.5 L653.6,2931.8 L654.0,2933.9 L654.3,2936.6 L654.7,2939.8 L655.1,2943.5 L655.5,2947.5 L655.8,2951.6 L656.2,2955.8 L656.5,2960.0 L657.1,2969.7 L657.7,2981.0 L658.1,2993.6 L658.6,3007.4 L659.0,3022.0 L659.4,3037.3 L659.7,3052.9 L660.1,3068.8 L660.5,3084.5 L661.0,3100.0 L661.6,3118.7 L662.1,3138.1 L662.7,3158.1 L663.3,3178.5 L663.9,3199.2 L664.5,3219.9 L665.1,3240.5 L665.7,3260.9 L666.4,3280.7 L667.0,3300.0 L667.6,3317.0 L668.1,3334.1 L668.7,3351.3 L669.3,3368.3 L669.9,3385.0 L670.5,3401.3 L671.1,3417.1 L671.7,3432.3 L672.3,3446.6 L673.0,3460.0 L673.5,3469.1 L674.0,3478.8 L674.5,3488.6 L675.0,3498.3 L675.6,3507.4 L676.1,3515.7 L676.6,3522.7 L677.1,3528.2 L677.6,3531.7 L678.0,3533.0 L678.5,3531.0 L679.0,3525.4 L679.4,3516.7 L679.8,3505.6 L680.2,3492.6 L680.5,3478.3 L680.9,3463.4 L681.3,3448.3 L681.6,3433.6 L682.0,3420.0 L682.5,3402.2 L683.0,3383.4 L683.4,3363.7 L683.9,3343.3 L684.4,3322.5 L684.8,3301.6 L685.3,3280.6 L685.8,3259.9 L686.4,3239.6 L687.0,3220.0 L687.6,3202.3 L688.2,3184.7 L688.9,3167.3 L689.6,3149.9 L690.3,3132.7 L691.0,3115.7 L691.7,3098.9 L692.5,3082.3 L693.2,3066.0 L694.0,3050.0 L694.7,3036.2 L695.3,3022.4 L696.0,3008.7 L696.7,2995.2 L697.4,2981.9 L698.1,2968.9 L698.8,2956.1 L699.5,2943.7 L700.3,2931.6 L701.0,2920.0 L701.6,2911.0 L702.2,2902.1 L702.8,2893.3 L703.4,2884.6 L704.0,2876.2 L704.7,2868.1 L705.3,2860.4 L705.9,2853.1 L706.4,2846.2 L707.0,2840.0 L707.3,2836.6 L707.6,2833.3 L707.9,2830.1 L708.1,2827.1 L708.4,2824.2 L708.7,2821.5 L708.9,2818.9 L709.3,2816.5 L709.6,2814.2 L710.0,2812.0 L710.3,2810.6 L710.5,2809.2 L710.8,2807.8 L711.1,2806.4 L711.4,2805.1 L711.8,2804.0 L712.1,2803.0 L712.4,2802.2 L712.7,2801.8 L713.0,2801.6 L713.5,2802.1 L714.0,2803.5 L714.5,2805.7 L715.0,2808.5 L715.5,2811.8 L716.1,2815.4 L716.6,2819.1 L717.1,2822.9 L717.5,2826.6 L718.0,2830.0 L718.6,2834.4 L719.2,2839.0 L719.7,2843.8 L720.3,2848.8 L720.8,2853.8 L721.3,2859.0 L721.8,2864.2 L722.3,2869.5 L722.8,2874.7 L723.3,2880.0 L723.8,2885.7 L724.4,2891.5 L724.9,2897.3 L725.4,2903.1 L725.9,2909.0 L726.4,2915.0 L726.9,2921.1 L727.4,2927.2 L727.9,2933.6 L728.4,2940.0 L729.1,2947.9 L729.8,2956.1 L730.5,2964.4 L731.2,2972.9 L732.0,2981.6 L732.7,2990.3 L733.4,2999.0 L734.0,3007.8 L734.7,3016.4 L735.2,3025.0 L735.7,3033.5 L736.1,3042.1 L736.5,3050.8 L736.8,3059.4 L737.1,3068.1 L737.4,3076.7 L737.7,3085.2 L737.9,3093.6 L738.3,3101.9 L738.6,3110.0 L738.9,3117.1 L739.3,3124.1 L739.6,3131.0 L739.9,3137.7 L740.3,3144.5 L740.6,3151.2 L741.0,3157.8 L741.3,3164.5 L741.7,3171.2 L742.0,3178.0 L742.3,3184.8 L742.7,3191.8 L743.0,3198.7 L743.3,3205.7 L743.6,3212.6 L743.9,3219.5 L744.3,3226.3 L744.6,3233.0 L745.0,3239.6 L745.4,3246.0 L745.8,3251.4 L746.2,3256.7 L746.6,3262.0 L747.1,3267.1 L747.5,3272.2 L748.0,3277.3 L748.4,3282.3 L748.9,3287.2 L749.3,3292.1 L749.7,3297.0 L750.1,3301.4 L750.4,3305.8 L750.7,3310.1 L751.0,3314.4 L751.4,3318.7 L751.7,3322.9 L752.0,3327.1 L752.3,3331.4 L752.6,3335.7 L753.0,3340.0 L753.3,3344.7 L753.5,3349.8 L753.7,3355.1 L753.9,3360.5 L754.0,3365.8 L754.3,3370.8 L754.7,3375.4 L755.3,3379.4 L756.0,3382.7 L757.0,3385.0 L757.4,3385.6 L757.9,3386.2 L758.4,3386.7 L758.9,3387.2 L759.4,3387.6 L760.0,3387.8 L760.5,3388.0 L761.0,3388.1 L761.5,3388.1 L762.0,3388.0 L763.1,3386.8 L764.0,3384.5 L764.8,3381.2 L765.5,3377.1 L766.2,3372.6 L766.8,3367.7 L767.5,3362.8 L768.2,3358.1 L769.1,3353.7 L770.0,3350.0 L770.8,3347.2 L771.7,3344.3 L772.5,3341.5 L773.4,3338.7 L774.4,3336.0 L775.3,3333.4 L776.4,3331.0 L777.5,3328.8 L778.7,3326.8 L780.0,3325.0 L781.0,3323.9 L782.0,3322.9 L783.1,3321.9 L784.2,3321.1 L785.3,3320.3 L786.5,3319.6 L787.7,3319.1 L788.9,3318.6 L790.2,3318.2 L791.4,3318.0 L792.8,3317.9 L794.1,3318.1 L795.5,3318.3 L797.0,3318.8 L798.4,3319.3 L799.9,3319.9 L801.4,3320.5 L802.9,3321.0 L804.5,3321.6 L806.0,3322.0 L807.7,3322.4 L809.3,3322.9 L811.0,3323.4 L812.6,3323.9 L814.3,3324.4 L816.1,3324.8 L817.9,3325.2 L819.7,3325.6 L821.7,3325.8 L823.7,3326.0 L826.8,3326.1 L830.0,3325.9 L833.4,3325.6 L837.0,3325.2 L840.6,3324.6 L844.4,3324.0 L848.2,3323.5 L852.1,3322.9 L856.1,3322.4 L860.0,3322.0 L864.6,3321.6 L869.2,3321.3 L873.8,3321.0 L878.5,3320.7 L883.3,3320.4 L888.3,3320.1 L893.4,3319.9 L898.8,3319.6 L904.5,3319.3 L910.6,3319.0 L921.1,3318.5 L932.6,3317.9 L944.9,3317.3 L957.8,3316.7 L971.3,3316.1 L985.1,3315.5 L999.1,3314.9 L1013.2,3314.3 L1027.2,3313.7 L1041.0,3313.2 L1056.1,3312.6 L1071.4,3312.0 L1086.8,3311.5 L1102.5,3310.9 L1118.2,3310.4 L1134.1,3309.8 L1150.0,3309.3 L1166.0,3308.9 L1182.0,3308.4 L1198.0,3308.0 L1214.7,3307.6 L1231.3,3307.3 L1248.1,3307.0 L1264.9,3306.7 L1281.7,3306.4 L1298.7,3306.2 L1315.8,3306.0 L1333.0,3305.8 L1350.3,3305.6 L1367.8,3305.4 L1386.9,3305.2 L1406.4,3305.1 L1426.1,3305.0 L1446.0,3304.9 L1466.0,3304.9 L1486.0,3304.8 L1505.8,3304.8 L1525.4,3304.8 L1544.8,3304.7 L1563.7,3304.7 L1581.2,3304.7 L1599.3,3304.7 L1617.7,3304.7 L1636.0,3304.7 L1654.0,3304.7 L1671.3,3304.7 L1687.6,3304.7 L1702.5,3304.7 L1715.8,3304.7 L1727.0,3304.7 L1731.3,3304.7 L1735.2,3304.7 L1738.7,3304.7 L1742.0,3304.7 L1745.1,3304.7 L1748.0,3304.7 L1750.9,3304.7 L1753.8,3304.7 L1756.8,3304.7 L1760.0,3304.7" fill="none" stroke="#008000" stroke-width="13.7" stroke-linejoin="round" stroke-linecap="square"/>
<path d="M306.5,2711.2 L306.8,2694.1 L307.0,2677.1 L307.3,2660.0 L307.6,2642.9 L307.8,2625.9 L308.1,2608.8 L308.4,2591.7 L308.6,2574.5 L308.9,2557.3 L309.1,2540.0 L309.3,2522.1 L309.5,2503.9 L309.7,2485.4 L309.9,2466.9 L310.0,2448.5 L310.2,2430.2 L310.4,2412.1 L310.6,2394.5 L310.8,2377.4 L311.1,2361.0 L311.3,2347.8 L311.6,2334.5 L311.8,2321.2 L312.1,2308.2 L312.4,2295.5 L312.7,2283.2 L313.0,2271.6 L313.4,2260.8 L313.8,2250.9 L314.2,2242.0 L314.4,2237.7 L314.6,2233.7 L314.8,2229.9 L315.0,2226.4 L315.2,2223.0 L315.5,2219.8 L315.8,2216.7 L316.1,2213.7 L316.5,2210.8 L317.0,2208.0 L317.4,2205.8 L317.9,2203.5 L318.4,2201.1 L318.9,2198.8 L319.5,2196.6 L320.0,2194.6 L320.6,2192.9 L321.2,2191.5 L321.8,2190.6 L322.4,2190.3 L322.9,2190.5 L323.4,2191.1 L324.0,2192.1 L324.5,2193.3 L325.1,2194.8 L325.6,2196.4 L326.2,2198.1 L326.8,2199.8 L327.4,2201.5 L328.0,2203.0 L328.8,2204.9 L329.6,2206.9 L330.5,2209.0 L331.4,2211.2 L332.2,2213.3 L333.2,2215.6 L334.1,2217.9 L335.1,2220.2 L336.1,2222.6 L337.2,2225.0 L338.6,2228.1 L340.2,2231.4 L341.7,2234.7 L343.4,2238.1 L345.1,2241.6 L346.8,2245.1 L348.6,2248.6 L350.3,2252.1 L352.1,2255.6 L353.8,2259.0 L355.5,2262.4 L357.4,2265.8 L359.2,2269.2 L361.1,2272.5 L363.0,2275.9 L364.8,2279.3 L366.6,2282.7 L368.2,2286.1 L369.8,2289.5 L371.2,2293.0 L372.4,2296.3 L373.5,2299.7 L374.5,2303.1 L375.4,2306.5 L376.2,2309.9 L377.0,2313.3 L377.8,2316.8 L378.6,2320.2 L379.4,2323.6 L380.2,2327.0 L381.1,2330.5 L382.0,2334.0 L382.9,2337.6 L383.7,2341.2 L384.6,2344.7 L385.5,2348.2 L386.3,2351.7 L387.2,2354.9 L387.9,2358.1 L388.7,2361.0 L389.2,2363.0 L389.7,2364.9 L390.1,2366.7 L390.6,2368.5 L391.0,2370.2 L391.5,2371.8 L391.9,2373.4 L392.3,2375.0 L392.8,2376.5 L393.3,2378.0 L393.7,2379.1 L394.1,2380.3 L394.5,2381.4 L394.9,2382.5 L395.3,2383.6 L395.7,2384.6 L396.1,2385.6 L396.5,2386.5 L397.0,2387.3 L397.5,2388.0 L397.9,2388.5 L398.2,2388.9 L398.6,2389.4 L399.0,2389.9 L399.4,2390.3 L399.8,2390.6 L400.2,2390.9 L400.6,2391.1 L401.0,2391.2 L401.4,2391.2 L401.9,2391.0 L402.4,2390.7 L402.8,2390.1 L403.3,2389.5 L403.8,2388.7 L404.2,2387.9 L404.7,2386.9 L405.1,2386.0 L405.6,2385.0 L406.0,2384.0 L406.7,2382.3 L407.4,2380.4 L408.0,2378.3 L408.6,2376.0 L409.2,2373.7 L409.8,2371.2 L410.4,2368.7 L410.9,2366.1 L411.5,2363.6 L412.0,2361.0 L412.6,2357.9 L413.2,2354.6 L413.7,2351.3 L414.2,2347.9 L414.7,2344.4 L415.2,2340.9 L415.7,2337.4 L416.1,2333.9 L416.6,2330.4 L417.1,2327.0 L417.6,2323.5 L418.1,2320.0 L418.5,2316.4 L419.0,2312.8 L419.5,2309.3 L420.0,2305.8 L420.4,2302.3 L420.9,2299.0 L421.3,2295.9 L421.8,2293.0 L422.1,2291.0 L422.4,2289.1 L422.7,2287.2 L423.0,2285.4 L423.2,2283.6 L423.5,2281.9 L423.8,2280.3 L424.2,2278.8 L424.6,2277.3 L425.0,2276.0 L425.3,2275.1 L425.7,2274.2 L426.1,2273.3 L426.5,2272.4 L426.9,2271.5 L427.3,2270.8 L427.6,2270.1 L428.0,2269.7 L428.4,2269.4 L428.7,2269.3 L429.1,2269.6 L429.4,2270.2 L429.7,2271.2 L430.0,2272.4 L430.3,2273.8 L430.6,2275.4 L430.8,2277.0 L431.0,2278.7 L431.3,2280.4 L431.5,2282.0 L431.8,2284.3 L432.1,2286.8 L432.4,2289.3 L432.7,2292.0 L432.9,2294.8 L433.2,2297.7 L433.4,2300.6 L433.6,2303.7 L433.9,2306.8 L434.1,2310.0 L434.4,2314.5 L434.8,2319.1 L435.1,2323.9 L435.4,2329.0 L435.8,2334.1 L436.1,2339.3 L436.4,2344.7 L436.7,2350.1 L437.0,2355.5 L437.2,2361.0 L437.5,2367.4 L437.7,2374.1 L437.9,2381.0 L438.0,2388.0 L438.2,2395.0 L438.3,2402.0 L438.5,2409.0 L438.6,2415.9 L438.7,2422.6 L438.9,2429.0 L439.0,2434.4 L439.2,2439.6 L439.3,2444.7 L439.4,2449.7 L439.6,2454.7 L439.7,2459.7 L439.8,2464.6 L439.9,2469.7 L440.1,2474.8 L440.2,2480.0 L440.3,2485.8 L440.5,2491.5 L440.6,2497.3 L440.8,2503.1 L440.9,2509.0 L441.1,2515.0 L441.3,2521.1 L441.4,2527.3 L441.6,2533.6 L441.7,2540.0 L441.9,2547.9 L442.1,2556.1 L442.2,2564.4 L442.4,2572.9 L442.6,2581.6 L442.8,2590.3 L443.0,2599.0 L443.1,2607.8 L443.3,2616.4 L443.4,2625.0 L443.5,2633.5 L443.6,2642.0 L443.7,2650.5 L443.8,2659.0 L443.8,2667.5 L443.9,2676.0 L444.0,2684.5 L444.0,2693.0 L444.2,2701.5 L444.3,2710.0 L444.5,2718.5 L444.7,2727.0 L444.9,2735.5 L445.1,2744.0 L445.3,2752.5 L445.6,2761.0 L445.8,2769.5 L446.1,2778.0 L446.3,2786.5 L446.5,2795.0 L446.7,2803.6 L446.9,2812.2 L447.1,2821.0 L447.3,2829.7 L447.4,2838.4 L447.6,2847.1 L447.8,2855.6 L447.9,2863.9 L448.1,2872.1 L448.2,2880.0 L448.3,2886.3 L448.4,2892.2 L448.4,2897.9 L448.5,2903.4 L448.6,2908.8 L448.6,2914.4 L448.7,2920.2 L448.8,2926.3 L448.9,2932.9 L449.0,2940.0 L449.3,2952.8 L449.6,2966.7 L450.0,2981.5 L450.4,2997.2 L450.8,3013.6 L451.3,3030.5 L451.7,3047.7 L452.2,3065.1 L452.6,3082.6 L453.0,3100.0 L453.4,3120.7 L453.9,3142.3 L454.3,3164.5 L454.7,3187.2 L455.1,3210.0 L455.5,3232.8 L455.9,3255.5 L456.2,3277.7 L456.6,3299.3 L457.0,3320.0 L457.3,3337.4 L457.6,3354.9 L457.9,3372.4 L458.2,3389.7 L458.5,3406.6 L458.8,3423.0 L459.1,3438.7 L459.4,3453.6 L459.7,3467.4 L460.0,3480.0 L460.2,3487.4 L460.4,3495.1 L460.5,3502.8 L460.7,3510.3 L460.9,3517.4 L461.1,3523.8 L461.2,3529.2 L461.4,3533.4 L461.6,3536.0 L461.8,3537.0 L462.0,3536.0 L462.2,3533.4 L462.4,3529.2 L462.7,3523.8 L462.9,3517.4 L463.1,3510.3 L463.3,3502.8 L463.6,3495.1 L463.8,3487.4 L464.0,3480.0 L464.4,3467.4 L464.7,3453.6 L465.1,3438.7 L465.5,3423.0 L465.8,3406.6 L466.2,3389.7 L466.5,3372.4 L466.9,3354.9 L467.2,3337.4 L467.5,3320.0 L467.8,3299.4 L468.1,3278.1 L468.4,3256.2 L468.6,3234.0 L468.9,3211.5 L469.1,3188.9 L469.3,3166.3 L469.6,3143.9 L469.8,3121.7 L470.0,3100.0 L470.2,3079.3 L470.4,3058.3 L470.7,3037.1 L470.9,3016.0 L471.1,2995.1 L471.3,2974.6 L471.5,2954.7 L471.7,2935.5 L471.9,2917.2 L472.0,2900.0 L472.1,2888.4 L472.1,2877.0 L472.2,2865.9 L472.2,2855.1 L472.2,2844.7 L472.3,2834.8 L472.3,2825.2 L472.4,2816.3 L472.5,2807.8 L472.6,2800.0 L472.7,2795.3 L472.8,2790.5 L472.9,2785.6 L473.0,2780.8 L473.1,2776.4 L473.2,2772.4 L473.3,2768.9 L473.4,2766.3 L473.6,2764.6 L473.7,2764.0 L473.9,2764.6 L474.0,2766.3 L474.2,2768.9 L474.4,2772.3 L474.6,2776.4 L474.8,2780.8 L475.0,2785.6 L475.1,2790.5 L475.3,2795.3 L475.5,2800.0 L475.8,2807.8 L476.0,2816.1 L476.3,2824.9 L476.5,2834.2 L476.8,2844.1 L477.0,2854.4 L477.3,2865.1 L477.5,2876.3 L477.8,2888.0 L478.0,2900.0 L478.4,2920.4 L478.8,2942.8 L479.2,2966.7 L479.6,2991.9 L480.0,3018.0 L480.4,3044.6 L480.8,3071.5 L481.2,3098.2 L481.6,3124.5 L482.0,3150.0 L482.4,3175.3 L482.8,3200.9 L483.2,3226.8 L483.5,3252.7 L483.9,3278.5 L484.3,3304.0 L484.7,3329.1 L485.1,3353.6 L485.6,3377.3 L486.0,3400.0 L486.4,3418.9 L486.8,3439.4 L487.1,3460.7 L487.5,3481.9 L488.0,3502.2 L488.4,3520.7 L488.8,3536.6 L489.2,3549.0 L489.6,3557.1 L490.0,3560.0 L490.4,3557.0 L490.8,3548.8 L491.2,3536.1 L491.6,3519.9 L492.0,3501.1 L492.4,3480.6 L492.8,3459.4 L493.2,3438.3 L493.6,3418.2 L494.0,3400.0 L494.5,3380.8 L494.9,3361.0 L495.4,3340.7 L495.9,3320.2 L496.3,3299.6 L496.8,3279.0 L497.3,3258.6 L497.9,3238.5 L498.4,3218.9 L499.0,3200.0 L499.5,3183.7 L500.0,3167.1 L500.6,3150.4 L501.1,3133.8 L501.7,3117.7 L502.2,3102.1 L502.9,3087.3 L503.5,3073.5 L504.2,3061.0 L505.0,3050.0 L505.4,3044.6 L505.9,3039.1 L506.4,3033.6 L506.8,3028.3 L507.3,3023.4 L507.8,3019.0 L508.3,3015.3 L508.8,3012.5 L509.3,3010.6 L509.7,3010.0 L510.2,3010.8 L510.6,3013.1 L511.1,3016.6 L511.5,3021.3 L512.0,3026.7 L512.4,3032.9 L512.8,3039.5 L513.2,3046.3 L513.6,3053.2 L514.0,3060.0 L514.7,3074.0 L515.4,3089.9 L516.0,3107.4 L516.6,3126.3 L517.1,3146.2 L517.7,3166.8 L518.2,3187.8 L518.8,3208.9 L519.4,3229.7 L520.0,3250.0 L520.7,3272.4 L521.5,3295.6 L522.2,3319.3 L523.0,3343.4 L523.8,3367.5 L524.6,3391.4 L525.4,3414.9 L526.3,3437.6 L527.1,3459.4 L528.0,3480.0 L528.7,3496.1 L529.4,3513.4 L530.2,3531.3 L531.0,3549.1 L531.8,3566.0 L532.5,3581.4 L533.3,3594.6 L534.0,3604.9 L534.6,3611.6 L535.2,3614.0 L535.7,3611.6 L536.2,3604.8 L536.6,3594.3 L537.0,3581.0 L537.3,3565.4 L537.6,3548.4 L537.9,3530.6 L538.3,3512.8 L538.6,3495.7 L539.0,3480.0 L539.5,3461.3 L539.9,3441.3 L540.4,3420.4 L540.8,3399.1 L541.3,3377.6 L541.8,3356.2 L542.3,3335.5 L542.8,3315.6 L543.4,3297.0 L544.0,3280.0 L544.4,3268.8 L544.9,3256.8 L545.4,3244.7 L545.9,3232.8 L546.4,3221.5 L547.0,3211.3 L547.5,3202.6 L548.0,3195.9 L548.5,3191.5 L549.0,3190.0 L549.5,3191.9 L550.0,3197.4 L550.5,3205.8 L551.0,3216.6 L551.5,3229.2 L552.0,3243.1 L552.5,3257.7 L553.0,3272.4 L553.5,3286.7 L554.0,3300.0 L554.7,3317.9 L555.5,3337.3 L556.2,3357.8 L557.0,3379.0 L557.8,3400.6 L558.6,3422.1 L559.4,3443.2 L560.2,3463.4 L561.1,3482.5 L562.0,3500.0 L562.7,3512.3 L563.4,3525.4 L564.1,3538.8 L564.8,3552.1 L565.5,3564.7 L566.3,3576.1 L567.0,3585.8 L567.7,3593.4 L568.4,3598.3 L569.0,3600.0 L569.7,3597.3 L570.4,3589.8 L571.1,3578.2 L571.7,3563.4 L572.3,3546.1 L572.9,3527.1 L573.5,3507.2 L574.0,3487.2 L574.5,3467.9 L575.0,3450.0 L575.6,3427.0 L576.0,3402.0 L576.4,3375.5 L576.7,3348.3 L577.0,3320.7 L577.3,3293.6 L577.7,3267.3 L578.0,3242.6 L578.5,3220.0 L579.0,3200.0 L579.3,3188.9 L579.7,3177.4 L580.0,3165.9 L580.4,3154.6 L580.8,3144.1 L581.2,3134.6 L581.6,3126.6 L582.1,3120.4 L582.5,3116.4 L583.0,3115.0 L583.5,3116.4 L584.1,3120.5 L584.7,3126.7 L585.3,3134.8 L585.9,3144.4 L586.6,3155.0 L587.2,3166.2 L587.8,3177.7 L588.4,3189.1 L589.0,3200.0 L589.9,3217.9 L590.7,3237.8 L591.4,3259.1 L592.2,3281.6 L592.9,3304.9 L593.6,3328.6 L594.4,3352.3 L595.2,3375.7 L596.1,3398.4 L597.0,3420.0 L598.0,3440.5 L599.0,3463.3 L600.1,3487.3 L601.3,3511.5 L602.4,3534.8 L603.6,3556.3 L604.7,3574.7 L605.7,3589.2 L606.7,3598.6 L607.5,3602.0 L608.1,3599.3 L608.7,3591.6 L609.2,3579.9 L609.6,3564.9 L610.0,3547.3 L610.4,3528.1 L610.8,3507.9 L611.2,3487.7 L611.6,3468.1 L612.0,3450.0 L612.6,3426.9 L613.1,3402.0 L613.6,3375.6 L614.1,3348.4 L614.7,3321.0 L615.2,3294.0 L615.8,3267.8 L616.5,3243.0 L617.2,3220.2 L618.0,3200.0 L618.5,3188.4 L619.1,3176.2 L619.7,3164.0 L620.3,3152.1 L620.9,3140.9 L621.5,3130.9 L622.1,3122.3 L622.8,3115.8 L623.4,3111.5 L624.0,3110.0 L624.6,3111.5 L625.2,3115.8 L625.8,3122.3 L626.5,3130.9 L627.1,3140.9 L627.7,3152.1 L628.3,3164.0 L628.9,3176.2 L629.5,3188.4 L630.0,3200.0 L630.8,3220.3 L631.6,3243.1 L632.3,3268.1 L632.9,3294.4 L633.6,3321.7 L634.2,3349.2 L634.8,3376.4 L635.5,3402.6 L636.2,3427.4 L637.0,3450.0 L637.7,3466.9 L638.3,3485.1 L639.1,3503.8 L639.8,3522.4 L640.6,3540.0 L641.3,3556.1 L642.0,3569.9 L642.7,3580.6 L643.4,3587.5 L644.0,3590.0 L644.6,3586.5 L645.2,3576.7 L645.8,3561.7 L646.3,3542.6 L646.7,3520.4 L647.2,3496.1 L647.7,3470.9 L648.1,3445.7 L648.5,3421.8 L649.0,3400.0 L649.5,3376.1 L650.0,3351.3 L650.5,3325.8 L651.0,3299.8 L651.5,3273.7 L651.9,3247.6 L652.4,3222.0 L652.9,3197.0 L653.4,3172.9 L654.0,3150.0 L654.4,3132.0 L654.9,3113.9 L655.3,3095.7 L655.7,3077.9 L656.1,3060.5 L656.6,3043.9 L657.1,3028.3 L657.7,3014.0 L658.3,3001.1 L659.0,2990.0 L659.4,2985.1 L659.7,2980.2 L660.1,2975.4 L660.5,2970.8 L660.9,2966.5 L661.3,2962.7 L661.7,2959.6 L662.2,2957.1 L662.6,2955.6 L663.0,2955.0 L663.4,2955.5 L663.8,2956.8 L664.2,2959.0 L664.6,2961.7 L665.0,2965.0 L665.5,2968.7 L665.9,2972.7 L666.3,2976.8 L666.6,2980.9 L667.0,2985.0 L667.7,2993.3 L668.3,3002.7 L668.8,3013.0 L669.3,3024.1 L669.8,3035.9 L670.3,3048.1 L670.7,3060.8 L671.1,3073.8 L671.6,3086.9 L672.0,3100.0 L672.6,3118.0 L673.1,3137.3 L673.6,3157.6 L674.1,3178.5 L674.6,3199.7 L675.1,3221.0 L675.5,3242.0 L676.0,3262.4 L676.5,3281.8 L677.0,3300.0 L677.4,3313.5 L677.8,3326.8 L678.1,3339.8 L678.5,3352.6 L678.8,3365.1 L679.2,3377.1 L679.6,3388.7 L680.0,3399.7 L680.5,3410.2 L681.0,3420.0 L681.4,3426.4 L681.8,3433.2 L682.2,3440.1 L682.6,3446.9 L683.0,3453.2 L683.5,3459.0 L683.9,3463.9 L684.3,3467.7 L684.7,3470.1 L685.0,3471.0 L685.4,3469.7 L685.7,3466.1 L686.0,3460.5 L686.2,3453.4 L686.5,3445.1 L686.7,3436.1 L686.9,3426.7 L687.1,3417.2 L687.3,3408.2 L687.5,3400.0 L687.7,3390.8 L687.9,3381.6 L688.1,3372.3 L688.2,3362.9 L688.3,3353.2 L688.4,3343.3 L688.6,3333.1 L688.7,3322.5 L688.8,3311.5 L689.0,3300.0 L689.3,3282.7 L689.5,3264.0 L689.8,3244.3 L690.1,3223.9 L690.5,3202.9 L690.8,3181.7 L691.1,3160.5 L691.4,3139.7 L691.7,3119.4 L692.0,3100.0 L692.2,3083.2 L692.5,3066.7 L692.7,3050.4 L693.0,3034.3 L693.2,3018.4 L693.4,3002.6 L693.7,2986.9 L693.9,2971.2 L694.1,2955.6 L694.4,2940.0 L694.6,2925.3 L694.9,2910.7 L695.1,2896.3 L695.4,2882.0 L695.6,2867.8 L695.9,2853.5 L696.1,2839.1 L696.4,2824.6 L696.7,2809.9 L697.0,2795.0 L697.4,2778.3 L697.8,2760.9 L698.2,2743.2 L698.6,2725.2 L699.0,2707.2 L699.5,2689.4 L699.9,2672.1 L700.4,2655.5 L700.8,2639.7 L701.2,2625.0 L701.5,2615.3 L701.7,2606.2 L702.0,2597.5 L702.2,2589.1 L702.4,2580.9 L702.7,2572.9 L702.9,2564.9 L703.2,2556.8 L703.5,2548.5 L703.8,2540.0 L704.1,2530.8 L704.5,2521.5 L704.8,2512.1 L705.1,2502.6 L705.5,2493.1 L705.9,2483.6 L706.3,2474.2 L706.8,2464.8 L707.4,2455.6 L708.0,2446.5 L708.7,2438.1 L709.4,2429.8 L710.3,2421.6 L711.2,2413.5 L712.1,2405.4 L713.0,2397.3 L713.9,2389.3 L714.8,2381.2 L715.6,2373.1 L716.4,2365.0 L717.1,2356.7 L717.7,2348.1 L718.3,2339.4 L718.9,2330.7 L719.5,2322.1 L720.0,2313.6 L720.6,2305.3 L721.2,2297.4 L721.8,2289.9 L722.5,2283.0 L723.0,2278.5 L723.4,2274.1 L723.8,2269.8 L724.3,2265.7 L724.7,2261.7 L725.2,2257.9 L725.8,2254.3 L726.4,2251.0 L727.2,2247.8 L728.0,2245.0 L728.6,2243.3 L729.2,2241.6 L729.9,2239.9 L730.6,2238.2 L731.4,2236.7 L732.1,2235.3 L732.8,2234.2 L733.5,2233.3 L734.2,2232.7 L734.8,2232.6 L735.4,2233.0 L736.0,2233.8 L736.6,2235.2 L737.1,2236.9 L737.6,2238.8 L738.1,2241.0 L738.6,2243.3 L739.1,2245.6 L739.5,2247.9 L740.0,2250.0 L740.6,2252.8 L741.1,2255.9 L741.6,2259.0 L742.1,2262.3 L742.5,2265.6 L743.0,2269.0 L743.4,2272.5 L743.9,2276.0 L744.4,2279.5 L745.0,2283.0 L745.7,2287.0 L746.4,2291.1 L747.1,2295.3 L747.9,2299.6 L748.7,2303.9 L749.5,2308.2 L750.3,2312.4 L751.2,2316.4 L752.1,2320.3 L753.0,2324.0 L753.7,2326.8 L754.5,2329.6 L755.2,2332.5 L755.9,2335.2 L756.7,2337.9 L757.5,2340.4 L758.3,2342.8 L759.2,2345.0 L760.2,2346.9 L761.3,2348.6 L762.0,2349.5 L762.8,2350.4 L763.5,2351.3 L764.3,2352.0 L765.2,2352.7 L766.0,2353.3 L766.8,2353.8 L767.7,2354.2 L768.6,2354.5 L769.5,2354.7 L770.5,2354.7 L771.5,2354.4 L772.5,2354.0 L773.6,2353.5 L774.6,2352.9 L775.7,2352.2 L776.8,2351.5 L777.9,2350.9 L778.9,2350.4 L780.0,2350.0 L781.0,2349.7 L782.0,2349.5 L783.0,2349.2 L784.0,2349.0 L785.0,2348.8 L786.0,2348.7 L787.0,2348.6 L788.0,2348.5 L789.0,2348.5 L790.0,2348.6 L791.0,2348.7 L792.0,2349.0 L793.0,2349.3 L794.0,2349.6 L795.0,2350.0 L796.0,2350.4 L796.9,2350.8 L797.8,2351.3 L798.7,2351.8 L799.6,2352.2 L800.3,2352.6 L801.0,2353.0 L801.6,2353.4 L802.2,2353.8 L802.8,2354.2 L803.4,2354.6 L804.0,2355.1 L804.6,2355.6 L805.3,2356.1 L806.0,2356.7 L807.1,2357.6 L808.3,2358.7 L809.5,2359.7 L810.7,2360.9 L812.0,2362.1 L813.3,2363.4 L814.7,2364.7 L816.2,2366.0 L817.7,2367.3 L819.2,2368.6 L821.4,2370.4 L823.7,2372.3 L826.1,2374.3 L828.6,2376.3 L831.2,2378.3 L833.9,2380.3 L836.6,2382.4 L839.5,2384.4 L842.4,2386.3 L845.3,2388.2 L848.8,2390.3 L852.4,2392.4 L856.1,2394.4 L860.0,2396.4 L863.9,2398.3 L867.9,2400.3 L871.9,2402.2 L876.1,2404.1 L880.3,2405.9 L884.5,2407.8 L889.3,2409.9 L894.3,2411.9 L899.3,2414.0 L904.4,2416.0 L909.7,2417.9 L914.9,2419.9 L920.3,2421.8 L925.7,2423.7 L931.2,2425.5 L936.7,2427.3 L942.9,2429.3 L949.2,2431.2 L955.7,2433.1 L962.2,2434.9 L968.8,2436.8 L975.4,2438.5 L982.1,2440.2 L988.8,2441.9 L995.4,2443.5 L1002.0,2445.0 L1008.5,2446.4 L1015.0,2447.7 L1021.5,2449.0 L1028.1,2450.2 L1034.6,2451.3 L1041.1,2452.4 L1047.7,2453.5 L1054.2,2454.6 L1060.8,2455.6 L1067.3,2456.7 L1073.8,2457.8 L1080.4,2458.8 L1086.9,2459.8 L1093.4,2460.8 L1100.0,2461.8 L1106.5,2462.8 L1113.1,2463.7 L1119.6,2464.7 L1126.2,2465.6 L1132.7,2466.5 L1139.2,2467.4 L1145.7,2468.3 L1152.1,2469.2 L1158.5,2470.1 L1165.0,2470.9 L1171.4,2471.7 L1178.0,2472.6 L1184.6,2473.4 L1191.2,2474.2 L1198.0,2475.0 L1205.5,2475.9 L1213.2,2476.7 L1221.0,2477.5 L1228.8,2478.3 L1236.7,2479.1 L1244.6,2479.9 L1252.6,2480.7 L1260.5,2481.4 L1268.4,2482.2 L1276.3,2482.9 L1284.1,2483.6 L1292.0,2484.3 L1299.8,2485.0 L1307.7,2485.7 L1315.5,2486.4 L1323.3,2487.0 L1331.2,2487.6 L1339.0,2488.2 L1346.9,2488.8 L1354.7,2489.4 L1362.5,2489.9 L1370.4,2490.5 L1378.2,2490.9 L1386.0,2491.4 L1393.8,2491.9 L1401.7,2492.3 L1409.5,2492.7 L1417.3,2493.2 L1425.2,2493.6 L1433.0,2494.0 L1440.8,2494.4 L1448.7,2494.8 L1456.5,2495.2 L1464.4,2495.6 L1472.2,2496.0 L1480.0,2496.4 L1487.9,2496.8 L1495.7,2497.2 L1503.6,2497.5 L1511.4,2497.9 L1519.2,2498.2 L1527.0,2498.6 L1534.8,2498.9 L1542.6,2499.2 L1550.4,2499.5 L1558.2,2499.9 L1566.0,2500.2 L1573.9,2500.5 L1581.8,2500.8 L1589.8,2501.1 L1598.2,2501.4 L1606.6,2501.8 L1615.0,2502.1 L1623.5,2502.5 L1632.0,2502.8 L1640.6,2503.1 L1649.1,2503.5 L1657.7,2503.8 L1666.2,2504.1 L1674.7,2504.4 L1683.2,2504.7 L1691.7,2505.0 L1700.3,2505.2 L1708.8,2505.5 L1717.3,2505.7 L1725.9,2506.0 L1734.4,2506.2 L1742.9,2506.5 L1751.5,2506.7 L1760.0,2507.0" fill="none" stroke="#ff0000" stroke-width="13.7" stroke-linejoin="round" stroke-linecap="square"/>
<path d="M306.5,3635.0 L306.8,3627.6 L307.0,3620.2 L307.3,3613.0 L307.5,3605.7 L307.8,3598.4 L308.0,3591.0 L308.3,3583.6 L308.5,3575.9 L308.8,3568.1 L309.0,3560.0 L309.3,3549.9 L309.5,3539.6 L309.8,3529.1 L310.0,3518.3 L310.3,3507.4 L310.5,3496.2 L310.7,3484.9 L310.9,3473.4 L311.1,3461.8 L311.3,3450.0 L311.5,3435.8 L311.6,3421.1 L311.8,3406.0 L311.9,3390.6 L312.0,3375.0 L312.1,3359.4 L312.2,3344.0 L312.3,3328.9 L312.4,3314.2 L312.5,3300.0 L312.6,3288.1 L312.7,3276.2 L312.7,3264.4 L312.8,3252.8 L312.9,3241.3 L312.9,3230.2 L313.0,3219.4 L313.1,3209.1 L313.2,3199.2 L313.3,3190.0 L313.4,3184.1 L313.5,3178.7 L313.6,3173.5 L313.6,3168.5 L313.7,3163.7 L313.8,3159.0 L313.9,3154.2 L314.0,3149.3 L314.1,3144.3 L314.2,3139.0 L314.3,3132.7 L314.4,3126.2 L314.4,3119.6 L314.5,3112.9 L314.6,3106.1 L314.6,3099.2 L314.7,3092.4 L314.8,3085.5 L314.9,3078.7 L315.0,3072.0 L315.1,3065.3 L315.3,3058.5 L315.4,3051.7 L315.6,3044.9 L315.7,3038.1 L315.9,3031.3 L316.1,3024.6 L316.3,3018.0 L316.5,3011.4 L316.7,3005.0 L316.9,2999.2 L317.1,2993.3 L317.4,2987.4 L317.6,2981.5 L317.9,2975.7 L318.1,2970.0 L318.4,2964.6 L318.7,2959.4 L319.0,2954.5 L319.3,2950.0 L319.5,2947.3 L319.7,2944.8 L319.9,2942.5 L320.2,2940.3 L320.4,2938.2 L320.6,2936.1 L320.8,2933.9 L321.1,2931.8 L321.3,2929.5 L321.5,2927.0 L321.7,2923.8 L322.0,2920.5 L322.2,2917.2 L322.4,2913.8 L322.6,2910.3 L322.8,2906.7 L323.1,2903.1 L323.3,2899.4 L323.6,2895.7 L324.0,2892.0 L324.5,2887.6 L325.0,2882.9 L325.6,2878.0 L326.2,2873.1 L326.9,2868.1 L327.6,2863.2 L328.2,2858.5 L328.8,2854.0 L329.4,2849.8 L330.0,2846.0 L330.3,2843.8 L330.6,2841.9 L330.9,2840.1 L331.1,2838.4 L331.4,2836.7 L331.7,2835.1 L331.9,2833.4 L332.3,2831.5 L332.6,2829.6 L333.0,2827.4 L333.8,2823.3 L334.6,2818.6 L335.6,2813.4 L336.6,2807.9 L337.7,2802.4 L338.8,2796.8 L339.9,2791.4 L341.1,2786.4 L342.2,2781.9 L343.3,2778.0 L343.9,2776.1 L344.5,2774.5 L345.1,2773.0 L345.7,2771.7 L346.3,2770.4 L346.9,2769.1 L347.5,2767.7 L348.2,2766.3 L348.9,2764.6 L349.6,2762.8 L351.0,2758.9 L352.7,2754.3 L354.4,2749.2 L356.3,2743.8 L358.2,2738.2 L360.1,2732.6 L361.9,2727.1 L363.7,2722.0 L365.2,2717.4 L366.6,2713.5 L367.3,2711.6 L367.9,2710.0 L368.5,2708.5 L369.0,2707.1 L369.6,2705.8 L370.1,2704.4 L370.6,2703.0 L371.1,2701.5 L371.6,2699.9 L372.2,2698.0 L373.2,2694.2 L374.2,2689.8 L375.3,2685.0 L376.4,2679.9 L377.5,2674.5 L378.5,2669.2 L379.6,2664.0 L380.6,2659.0 L381.5,2654.5 L382.4,2650.5 L382.9,2648.3 L383.4,2646.3 L383.9,2644.3 L384.3,2642.5 L384.8,2640.8 L385.2,2639.1 L385.6,2637.4 L386.1,2635.6 L386.5,2633.8 L387.0,2631.8 L387.6,2629.3 L388.1,2626.7 L388.6,2623.9 L389.1,2621.1 L389.7,2618.2 L390.3,2615.4 L390.9,2612.8 L391.5,2610.3 L392.2,2608.0 L393.0,2606.0 L393.5,2604.8 L394.1,2603.6 L394.7,2602.5 L395.3,2601.3 L395.9,2600.3 L396.5,2599.4 L397.1,2598.6 L397.7,2598.0 L398.3,2597.6 L398.9,2597.5 L399.5,2597.7 L400.2,2598.2 L400.8,2599.0 L401.5,2600.0 L402.1,2601.2 L402.7,2602.5 L403.3,2603.9 L403.8,2605.3 L404.3,2606.7 L404.8,2608.0 L405.3,2609.6 L405.7,2611.3 L406.0,2613.1 L406.2,2614.9 L406.4,2616.8 L406.6,2618.8 L406.8,2620.9 L406.9,2623.0 L407.1,2625.3 L407.4,2627.6 L407.9,2631.6 L408.4,2636.1 L408.9,2641.0 L409.5,2646.1 L410.1,2651.3 L410.6,2656.6 L411.2,2661.7 L411.7,2666.6 L412.1,2671.1 L412.5,2675.2 L412.7,2677.5 L412.9,2679.7 L413.1,2681.7 L413.3,2683.6 L413.4,2685.4 L413.6,2687.2 L413.7,2689.1 L413.9,2691.1 L414.0,2693.3 L414.2,2695.6 L414.5,2699.6 L414.8,2704.0 L415.1,2708.8 L415.4,2713.9 L415.7,2719.0 L416.0,2724.1 L416.3,2729.2 L416.6,2734.0 L416.9,2738.4 L417.1,2742.4 L417.2,2744.7 L417.4,2746.9 L417.5,2748.9 L417.6,2750.8 L417.8,2752.6 L417.9,2754.4 L418.0,2756.3 L418.1,2758.3 L418.3,2760.5 L418.4,2762.8 L418.6,2766.9 L418.9,2771.4 L419.2,2776.3 L419.5,2781.5 L419.8,2786.7 L420.1,2792.0 L420.5,2797.1 L420.8,2802.0 L421.0,2806.4 L421.3,2810.4 L421.5,2812.6 L421.6,2814.5 L421.7,2816.3 L421.9,2818.0 L422.0,2819.7 L422.1,2821.3 L422.3,2823.0 L422.4,2824.8 L422.6,2826.8 L422.7,2829.0 L422.9,2833.1 L423.2,2837.7 L423.4,2842.8 L423.7,2848.2 L424.0,2853.7 L424.2,2859.2 L424.5,2864.6 L424.8,2869.7 L425.0,2874.3 L425.3,2878.4 L425.5,2880.6 L425.6,2882.6 L425.8,2884.5 L426.0,2886.3 L426.1,2888.0 L426.3,2889.7 L426.5,2891.4 L426.6,2893.1 L426.8,2895.0 L427.0,2897.0 L427.2,2899.8 L427.4,2902.8 L427.7,2906.0 L427.9,2909.3 L428.1,2912.6 L428.3,2915.8 L428.6,2919.0 L428.9,2921.9 L429.2,2924.6 L429.5,2927.0 L429.7,2928.3 L430.0,2929.7 L430.2,2931.0 L430.5,2932.4 L430.7,2933.6 L431.0,2934.7 L431.3,2935.7 L431.5,2936.4 L431.8,2936.8 L432.0,2937.0 L432.3,2936.7 L432.6,2935.9 L432.8,2934.7 L433.1,2933.1 L433.3,2931.2 L433.6,2929.1 L433.8,2926.8 L434.1,2924.5 L434.3,2922.2 L434.5,2920.0 L434.9,2916.2 L435.2,2912.0 L435.5,2907.6 L435.8,2902.8 L436.0,2897.9 L436.3,2892.7 L436.5,2887.5 L436.8,2882.2 L437.0,2876.9 L437.2,2871.6 L437.4,2865.3 L437.6,2858.8 L437.8,2852.1 L438.0,2845.4 L438.2,2838.5 L438.3,2831.6 L438.4,2824.6 L438.6,2817.7 L438.7,2810.8 L438.9,2804.0 L439.1,2797.3 L439.2,2790.6 L439.4,2783.9 L439.6,2777.2 L439.7,2770.5 L439.9,2763.8 L440.1,2757.1 L440.3,2750.4 L440.4,2743.7 L440.6,2737.0 L440.8,2730.3 L440.9,2723.6 L441.1,2716.9 L441.2,2710.2 L441.4,2703.6 L441.6,2696.9 L441.7,2690.2 L441.9,2683.5 L442.1,2676.7 L442.3,2670.0 L442.5,2663.1 L442.7,2656.1 L443.0,2649.0 L443.2,2642.0 L443.5,2634.9 L443.8,2627.9 L444.0,2621.0 L444.3,2614.1 L444.5,2607.5 L444.8,2601.0 L445.0,2595.5 L445.2,2590.1 L445.4,2584.8 L445.6,2579.5 L445.8,2574.3 L446.0,2569.2 L446.2,2564.2 L446.5,2559.4 L446.7,2554.6 L447.0,2550.0 L447.3,2546.1 L447.5,2541.9 L447.8,2537.5 L448.1,2533.1 L448.4,2528.9 L448.7,2525.1 L449.0,2521.8 L449.3,2519.3 L449.6,2517.6 L449.9,2517.0 L450.2,2517.7 L450.5,2519.8 L450.9,2522.9 L451.2,2527.0 L451.5,2531.8 L451.8,2537.1 L452.1,2542.8 L452.4,2548.6 L452.7,2554.4 L453.0,2560.0 L453.5,2569.8 L453.9,2580.9 L454.4,2593.1 L454.8,2606.0 L455.3,2619.2 L455.7,2632.6 L456.1,2645.8 L456.6,2658.5 L457.1,2670.3 L457.6,2681.0 L458.0,2687.9 L458.4,2694.5 L458.9,2700.7 L459.3,2706.7 L459.8,2712.6 L460.2,2718.4 L460.6,2724.1 L461.1,2729.9 L461.4,2735.9 L461.8,2742.0 L462.1,2748.7 L462.5,2755.4 L462.7,2762.1 L463.0,2769.0 L463.3,2775.8 L463.5,2782.7 L463.8,2789.5 L464.0,2796.4 L464.2,2803.2 L464.4,2810.0 L464.6,2816.5 L464.8,2822.8 L465.0,2828.9 L465.1,2835.0 L465.3,2841.1 L465.4,2847.4 L465.5,2854.0 L465.7,2861.1 L465.8,2868.7 L466.0,2877.0 L466.3,2894.0 L466.6,2913.3 L466.9,2934.4 L467.2,2956.9 L467.6,2980.5 L467.9,3004.7 L468.2,3029.1 L468.5,3053.4 L468.7,3077.2 L469.0,3100.0 L469.2,3122.1 L469.5,3144.4 L469.7,3166.6 L469.9,3188.9 L470.1,3211.1 L470.2,3233.3 L470.4,3255.3 L470.6,3277.1 L470.8,3298.7 L471.0,3320.0 L471.2,3341.2 L471.3,3364.8 L471.5,3389.7 L471.6,3414.8 L471.8,3439.0 L472.0,3461.3 L472.1,3480.5 L472.4,3495.6 L472.6,3505.5 L472.9,3509.0 L473.1,3507.1 L473.4,3501.7 L473.7,3493.4 L474.0,3482.7 L474.3,3470.2 L474.7,3456.4 L475.0,3442.0 L475.3,3427.4 L475.7,3413.2 L476.0,3400.0 L476.4,3382.3 L476.9,3363.3 L477.3,3343.3 L477.7,3322.6 L478.1,3301.5 L478.6,3280.3 L479.1,3259.3 L479.7,3238.7 L480.3,3218.8 L481.0,3200.0 L481.6,3184.7 L482.3,3169.5 L483.0,3154.3 L483.7,3139.4 L484.5,3124.8 L485.3,3110.6 L486.1,3096.9 L487.0,3083.8 L488.0,3071.5 L489.0,3060.0 L489.7,3052.8 L490.4,3045.8 L491.1,3039.0 L491.9,3032.5 L492.6,3026.2 L493.4,3020.2 L494.3,3014.6 L495.1,3009.3 L496.0,3004.4 L497.0,3000.0 L497.6,2997.7 L498.1,2995.5 L498.7,2993.3 L499.3,2991.3 L499.9,2989.5 L500.5,2987.7 L501.1,2986.0 L501.8,2984.6 L502.4,2983.2 L503.0,2982.0 L503.3,2981.4 L503.7,2980.8 L504.0,2980.2 L504.4,2979.7 L504.7,2979.2 L505.0,2978.7 L505.4,2978.4 L505.7,2978.1 L506.0,2978.0 L506.3,2978.0 L506.8,2978.5 L507.3,2979.5 L507.8,2981.0 L508.1,2982.9 L508.5,2985.2 L508.8,2987.8 L509.1,2990.6 L509.4,2993.7 L509.7,2996.8 L510.0,3000.0 L510.7,3009.5 L511.3,3021.1 L511.8,3034.5 L512.2,3049.3 L512.6,3065.3 L512.9,3082.0 L513.2,3099.2 L513.4,3116.5 L513.7,3133.5 L514.0,3150.0 L514.4,3168.8 L514.7,3188.0 L515.0,3207.6 L515.3,3227.5 L515.6,3247.7 L515.8,3268.0 L516.1,3288.5 L516.4,3309.0 L516.7,3329.5 L517.0,3350.0 L517.3,3373.4 L517.7,3400.0 L518.0,3428.4 L518.3,3457.4 L518.6,3485.7 L519.0,3511.7 L519.4,3534.3 L519.8,3552.1 L520.3,3563.8 L520.8,3568.0 L521.2,3565.8 L521.7,3559.7 L522.2,3550.4 L522.7,3538.5 L523.2,3524.6 L523.8,3509.6 L524.3,3493.9 L524.9,3478.3 L525.4,3463.4 L526.0,3450.0 L526.6,3435.6 L527.3,3420.7 L527.9,3405.4 L528.6,3389.8 L529.2,3374.2 L529.9,3358.7 L530.6,3343.3 L531.4,3328.3 L532.2,3313.8 L533.0,3300.0 L533.7,3289.0 L534.4,3278.0 L535.1,3267.2 L535.8,3256.6 L536.6,3246.2 L537.4,3236.1 L538.2,3226.4 L539.1,3217.1 L540.0,3208.3 L541.0,3200.0 L541.7,3194.5 L542.5,3188.6 L543.3,3182.7 L544.1,3176.8 L544.9,3171.3 L545.8,3166.4 L546.6,3162.1 L547.4,3158.9 L548.1,3156.7 L548.8,3156.0 L549.4,3156.7 L550.0,3158.7 L550.6,3161.7 L551.2,3165.8 L551.7,3170.5 L552.2,3175.9 L552.7,3181.7 L553.1,3187.7 L553.6,3193.9 L554.0,3200.0 L554.8,3214.1 L555.5,3230.7 L556.1,3249.4 L556.5,3269.6 L557.0,3290.9 L557.3,3313.0 L557.7,3335.4 L558.1,3357.7 L558.5,3379.3 L559.0,3400.0 L559.6,3421.8 L560.1,3446.4 L560.7,3472.6 L561.3,3499.2 L562.0,3525.0 L562.6,3548.8 L563.2,3569.4 L563.8,3585.6 L564.4,3596.2 L565.0,3600.0 L565.5,3597.2 L566.0,3589.5 L566.5,3577.7 L567.0,3562.6 L567.5,3545.1 L568.0,3526.0 L568.5,3506.0 L569.0,3486.2 L569.5,3467.2 L570.0,3450.0 L570.6,3430.9 L571.1,3410.7 L571.7,3389.9 L572.2,3368.8 L572.8,3347.5 L573.4,3326.4 L574.0,3305.9 L574.6,3286.1 L575.3,3267.3 L576.0,3250.0 L576.5,3238.3 L577.1,3226.7 L577.6,3215.4 L578.2,3204.3 L578.7,3193.7 L579.3,3183.5 L580.0,3174.0 L580.6,3165.2 L581.3,3157.1 L582.0,3150.0 L582.4,3146.6 L582.8,3143.1 L583.2,3139.7 L583.6,3136.4 L584.0,3133.3 L584.4,3130.6 L584.8,3128.3 L585.2,3126.5 L585.6,3125.4 L586.0,3125.0 L586.4,3125.5 L586.9,3127.0 L587.3,3129.4 L587.7,3132.5 L588.1,3136.2 L588.5,3140.4 L588.9,3145.0 L589.3,3149.9 L589.6,3154.9 L590.0,3160.0 L590.9,3175.4 L591.6,3194.7 L592.2,3217.1 L592.8,3241.9 L593.3,3268.3 L593.8,3295.7 L594.3,3323.3 L594.8,3350.4 L595.3,3376.2 L596.0,3400.0 L596.6,3421.6 L597.3,3445.5 L598.0,3470.6 L598.7,3495.8 L599.5,3520.1 L600.2,3542.4 L600.9,3561.6 L601.7,3576.7 L602.3,3586.5 L603.0,3590.0 L603.5,3587.5 L604.1,3580.3 L604.6,3569.4 L605.1,3555.4 L605.6,3539.1 L606.0,3521.2 L606.5,3502.7 L607.0,3484.1 L607.5,3466.3 L608.0,3450.0 L608.6,3431.2 L609.2,3411.6 L609.7,3391.3 L610.3,3370.5 L610.9,3349.5 L611.5,3328.6 L612.1,3308.0 L612.7,3287.8 L613.3,3268.4 L614.0,3250.0 L614.5,3235.5 L615.0,3220.9 L615.5,3206.3 L616.1,3192.0 L616.6,3178.1 L617.1,3164.7 L617.7,3152.0 L618.4,3140.3 L619.2,3129.5 L620.0,3120.0 L620.5,3115.3 L621.0,3110.4 L621.5,3105.6 L622.1,3101.0 L622.7,3096.7 L623.3,3092.9 L623.8,3089.6 L624.4,3087.1 L624.9,3085.6 L625.4,3085.0 L625.9,3085.7 L626.4,3087.6 L626.9,3090.7 L627.4,3094.7 L627.9,3099.5 L628.3,3105.0 L628.8,3110.9 L629.2,3117.1 L629.6,3123.6 L630.0,3130.0 L630.9,3148.0 L631.5,3170.2 L632.1,3195.8 L632.6,3223.9 L633.0,3253.8 L633.3,3284.5 L633.7,3315.3 L634.1,3345.4 L634.5,3373.9 L635.0,3400.0 L635.5,3422.1 L635.9,3446.2 L636.4,3471.4 L636.9,3496.6 L637.4,3520.8 L637.9,3543.0 L638.4,3562.0 L638.9,3576.8 L639.5,3586.5 L640.0,3590.0 L640.5,3587.5 L641.0,3580.3 L641.5,3569.4 L642.0,3555.4 L642.5,3539.1 L643.0,3521.2 L643.5,3502.7 L644.0,3484.1 L644.5,3466.3 L645.0,3450.0 L645.5,3431.3 L646.1,3411.8 L646.6,3391.7 L647.0,3371.2 L647.5,3350.4 L648.0,3329.6 L648.5,3309.0 L649.0,3288.7 L649.5,3269.0 L650.0,3250.0 L650.5,3234.0 L650.9,3218.2 L651.4,3202.7 L651.9,3187.3 L652.4,3172.2 L652.9,3157.3 L653.4,3142.6 L653.9,3128.2 L654.5,3114.0 L655.0,3100.0 L655.5,3088.1 L655.9,3076.1 L656.4,3064.2 L656.9,3052.4 L657.4,3040.9 L657.9,3029.7 L658.4,3018.9 L658.9,3008.6 L659.4,2999.0 L660.0,2990.0 L660.3,2984.5 L660.7,2979.2 L661.0,2974.0 L661.3,2969.0 L661.6,2964.2 L662.0,2959.7 L662.4,2955.5 L662.8,2951.6 L663.4,2948.1 L664.0,2945.0 L664.3,2943.6 L664.7,2942.2 L665.1,2940.8 L665.5,2939.4 L666.0,2938.2 L666.4,2937.1 L666.8,2936.2 L667.2,2935.6 L667.6,2935.1 L668.0,2935.0 L668.6,2935.5 L669.1,2936.8 L669.6,2938.7 L670.1,2941.2 L670.6,2944.1 L671.1,2947.2 L671.6,2950.5 L672.1,2953.8 L672.5,2957.0 L673.0,2960.0 L673.6,2963.7 L674.1,2967.7 L674.6,2971.9 L675.1,2976.2 L675.6,2980.6 L676.1,2984.9 L676.6,2989.1 L677.0,2993.1 L677.5,2996.7 L678.0,3000.0 L678.3,3001.9 L678.6,3003.9 L678.9,3006.0 L679.2,3008.0 L679.4,3009.8 L679.7,3011.5 L680.0,3012.9 L680.3,3014.0 L680.7,3014.7 L681.0,3015.0 L681.4,3014.8 L681.7,3014.0 L682.1,3012.9 L682.6,3011.5 L683.0,3009.8 L683.4,3007.9 L683.8,3005.9 L684.2,3003.9 L684.6,3001.9 L685.0,3000.0 L685.5,2997.1 L686.1,2994.0 L686.5,2990.7 L687.0,2987.2 L687.5,2983.6 L688.0,2979.9 L688.4,2976.1 L688.9,2972.4 L689.4,2968.7 L690.0,2965.0 L690.6,2960.8 L691.2,2955.9 L691.8,2950.8 L692.4,2945.5 L693.1,2940.4 L693.7,2935.6 L694.4,2931.5 L695.2,2928.2 L696.1,2925.9 L697.0,2925.0 L697.5,2925.1 L698.1,2925.4 L698.7,2926.1 L699.4,2926.9 L700.0,2928.0 L700.7,2929.2 L701.3,2930.5 L701.9,2932.0 L702.5,2933.5 L703.0,2935.0 L704.1,2939.2 L705.1,2944.3 L705.9,2950.3 L706.6,2956.9 L707.2,2964.0 L707.8,2971.3 L708.3,2978.8 L708.8,2986.2 L709.4,2993.3 L710.0,3000.0 L710.6,3006.2 L711.2,3012.4 L711.9,3018.6 L712.5,3024.8 L713.1,3031.0 L713.6,3037.1 L714.2,3043.3 L714.7,3049.4 L715.2,3055.5 L715.7,3061.6 L716.1,3067.6 L716.5,3073.8 L716.8,3080.1 L717.1,3086.4 L717.4,3092.6 L717.7,3098.6 L718.0,3104.5 L718.3,3110.1 L718.6,3115.3 L719.0,3120.0 L719.2,3122.7 L719.5,3125.3 L719.8,3127.7 L720.0,3130.0 L720.3,3132.2 L720.5,3134.3 L720.8,3136.4 L721.1,3138.6 L721.3,3140.7 L721.6,3143.0" fill="none" stroke="#008000" stroke-width="13.7" stroke-linejoin="round" stroke-linecap="butt" stroke-dasharray="48.1,19.2" stroke-dashoffset="0.0"/>
<path d="M721.6,3143.0 L721.9,3138.8 L722.3,3134.8 L722.6,3130.9 L722.9,3127.0 L723.3,3123.1 L723.6,3119.0 L724.0,3114.7 L724.3,3110.2 L724.7,3105.3 L725.0,3100.0 L725.6,3088.9 L726.2,3075.9 L726.8,3061.6 L727.4,3046.4 L728.0,3030.5 L728.6,3014.5 L729.3,2998.8 L730.0,2983.7 L730.9,2969.6 L731.8,2957.0 L732.6,2949.0 L733.4,2941.4 L734.3,2934.1 L735.3,2927.1 L736.2,2920.3 L737.2,2913.7 L738.1,2907.1 L738.9,2900.5 L739.7,2893.8 L740.3,2887.0 L740.8,2880.3 L741.1,2873.6 L741.4,2867.0 L741.6,2860.4 L741.8,2853.8 L742.0,2847.1 L742.2,2840.5 L742.3,2833.9 L742.6,2827.3 L742.9,2820.6 L743.3,2813.8 L743.7,2807.0 L744.1,2800.2 L744.5,2793.4 L745.0,2786.6 L745.5,2779.8 L745.9,2773.0 L746.5,2766.2 L747.0,2759.4 L747.5,2752.6 L748.0,2745.8 L748.6,2738.9 L749.2,2731.9 L749.8,2725.0 L750.4,2718.1 L751.0,2711.2 L751.7,2704.5 L752.3,2697.9 L753.0,2691.5 L753.6,2685.4 L754.1,2680.5 L754.5,2675.6 L754.9,2670.8 L755.3,2665.9 L755.7,2661.3 L756.2,2656.8 L756.7,2652.6 L757.3,2648.7 L758.1,2645.1 L759.0,2642.0 L759.6,2640.4 L760.1,2638.9 L760.7,2637.3 L761.4,2635.9 L762.0,2634.6 L762.7,2633.4 L763.5,2632.4 L764.2,2631.5 L765.0,2630.9 L765.9,2630.6 L766.8,2630.6 L767.7,2630.9 L768.6,2631.4 L769.6,2632.1 L770.6,2632.9 L771.7,2633.8 L772.7,2634.8 L773.8,2635.6 L774.9,2636.4 L776.0,2637.0 L777.1,2637.5 L778.3,2638.0 L779.5,2638.5 L780.7,2639.0 L782.0,2639.5 L783.2,2639.9 L784.4,2640.2 L785.6,2640.5 L786.8,2640.6 L788.0,2640.7 L789.1,2640.7 L790.2,2640.6 L791.2,2640.4 L792.3,2640.2 L793.4,2639.9 L794.4,2639.5 L795.4,2639.1 L796.4,2638.7 L797.3,2638.3 L798.2,2637.8 L798.9,2637.3 L799.5,2636.8 L800.2,2636.3 L800.7,2635.7 L801.3,2635.1 L801.8,2634.5 L802.4,2633.8 L802.9,2633.2 L803.4,2632.6 L804.0,2632.0" fill="none" stroke="#008000" stroke-width="13.7" stroke-linejoin="round" stroke-linecap="butt" stroke-dasharray="48.1,19.2" stroke-dashoffset="30.2"/>
<path d="M804.0,2632.0 L804.6,2631.1 L805.1,2630.3 L805.6,2629.4 L806.1,2628.5 L806.6,2627.7 L807.2,2626.8 L807.8,2625.9 L808.4,2625.1 L809.2,2624.2 L810.0,2623.3 L811.4,2622.0 L813.1,2620.6 L814.9,2619.2 L816.9,2617.8 L818.9,2616.4 L821.0,2615.0 L823.2,2613.7 L825.4,2612.3 L827.5,2611.0 L829.6,2609.7 L831.7,2608.4 L833.7,2607.2 L835.8,2606.1 L837.9,2604.9 L840.1,2603.8 L842.2,2602.6 L844.3,2601.5 L846.5,2600.3 L848.7,2599.1 L850.9,2597.8 L853.4,2596.3 L856.1,2594.6 L858.8,2592.8 L861.6,2591.0 L864.4,2589.2 L867.1,2587.5 L869.7,2585.8 L872.2,2584.3 L874.4,2582.9 L876.4,2581.7 L877.3,2581.2 L878.2,2580.7 L878.9,2580.3 L879.6,2579.9 L880.2,2579.6 L880.9,2579.2 L881.7,2578.9 L882.5,2578.5 L883.4,2578.1 L884.5,2577.6 L887.8,2576.2 L891.9,2574.5 L896.6,2572.7 L901.8,2570.6 L907.3,2568.5 L913.2,2566.4 L919.1,2564.2 L925.1,2562.0 L931.0,2559.9 L936.7,2558.0 L942.9,2555.9 L949.2,2553.9 L955.7,2551.8 L962.2,2549.8 L968.8,2547.7 L975.5,2545.8 L982.1,2543.8 L988.8,2542.0 L995.4,2540.1 L1002.0,2538.4 L1008.5,2536.7 L1015.0,2535.2 L1021.5,2533.6 L1028.1,2532.2 L1034.6,2530.7 L1041.1,2529.3 L1047.7,2528.0 L1054.2,2526.6 L1060.8,2525.3 L1067.3,2524.0 L1073.8,2522.7 L1080.4,2521.4 L1086.9,2520.2 L1093.4,2519.0 L1100.0,2517.8 L1106.5,2516.7 L1113.1,2515.5 L1119.6,2514.4 L1126.2,2513.3 L1132.7,2512.2 L1139.2,2511.1 L1145.7,2510.1 L1152.1,2509.1 L1158.5,2508.0 L1165.0,2507.1 L1171.4,2506.1 L1178.0,2505.1 L1184.5,2504.2 L1191.2,2503.3 L1198.0,2502.4 L1205.5,2501.5 L1213.2,2500.5 L1220.9,2499.6 L1228.8,2498.8 L1236.7,2497.9 L1244.6,2497.1 L1252.6,2496.3 L1260.5,2495.5 L1268.4,2494.8 L1276.3,2494.0 L1284.1,2493.3 L1292.0,2492.5 L1299.8,2491.8 L1307.6,2491.1 L1315.5,2490.5 L1323.3,2489.8 L1331.2,2489.2 L1339.0,2488.6 L1346.9,2488.0 L1354.7,2487.4 L1362.5,2486.9 L1370.4,2486.3 L1378.2,2485.9 L1386.0,2485.4 L1393.8,2484.9 L1401.7,2484.5 L1409.5,2484.1 L1417.3,2483.7 L1425.2,2483.3 L1433.0,2482.9 L1440.8,2482.5 L1448.7,2482.2 L1456.5,2481.8 L1464.4,2481.5 L1472.2,2481.1 L1480.0,2480.8 L1487.9,2480.5 L1495.7,2480.2 L1503.6,2479.9 L1511.4,2479.6 L1519.2,2479.3 L1527.0,2479.0 L1534.8,2478.8 L1542.6,2478.5 L1550.4,2478.3 L1558.2,2478.0 L1566.0,2477.8 L1573.9,2477.5 L1581.8,2477.3 L1589.8,2477.0 L1598.2,2476.7 L1606.6,2476.5 L1615.0,2476.2 L1623.5,2475.9 L1632.0,2475.7 L1640.6,2475.4 L1649.1,2475.2 L1657.7,2474.9 L1666.2,2474.7 L1674.7,2474.4 L1683.2,2474.2 L1691.7,2473.9 L1700.3,2473.7 L1708.8,2473.4 L1717.3,2473.2 L1725.9,2473.0 L1734.4,2472.7 L1742.9,2472.5 L1751.5,2472.2 L1760.0,2472.0" fill="none" stroke="#008000" stroke-width="13.7" stroke-linejoin="round" stroke-linecap="butt" stroke-dasharray="48.1,19.2" stroke-dashoffset="52.9"/>
<path d="M306.5,3635.0 L306.8,3627.6 L307.0,3620.2 L307.3,3613.0 L307.5,3605.7 L307.8,3598.4 L308.0,3591.0 L308.3,3583.6 L308.5,3575.9 L308.8,3568.1 L309.0,3560.0 L309.3,3549.9 L309.5,3539.4 L309.8,3528.7 L310.1,3517.7 L310.3,3506.6 L310.5,3495.4 L310.8,3484.0 L311.0,3472.6 L311.1,3461.3 L311.3,3450.0 L311.4,3438.1 L311.5,3425.9 L311.6,3413.6 L311.7,3401.2 L311.7,3388.8 L311.8,3376.5 L311.8,3364.4 L311.9,3352.5 L311.9,3341.0 L312.0,3330.0 L312.1,3321.2 L312.1,3312.5 L312.2,3303.9 L312.3,3295.5 L312.3,3287.3 L312.4,3279.2 L312.5,3271.5 L312.7,3264.0 L312.8,3256.8 L313.0,3250.0 L313.1,3245.3 L313.2,3240.7 L313.4,3236.1 L313.5,3231.7 L313.6,3227.5 L313.8,3223.4 L314.0,3219.6 L314.3,3216.1 L314.6,3212.8 L315.0,3210.0 L315.2,3208.6 L315.5,3207.2 L315.8,3205.9 L316.1,3204.5 L316.4,3203.3 L316.7,3202.2 L317.0,3201.3 L317.3,3200.6 L317.7,3200.2 L318.0,3200.0 L318.4,3200.2 L318.7,3200.8 L319.1,3201.7 L319.5,3202.9 L319.8,3204.3 L320.2,3205.8 L320.6,3207.4 L321.1,3209.0 L321.5,3210.6 L322.0,3212.0 L322.6,3213.8 L323.3,3215.8 L323.9,3217.9 L324.6,3220.0 L325.3,3222.1 L326.1,3224.3 L326.9,3226.4 L327.9,3228.5 L328.9,3230.6 L330.0,3232.5 L331.3,3234.5 L332.8,3236.5 L334.4,3238.5 L336.1,3240.5 L337.8,3242.4 L339.6,3244.3 L341.5,3246.1 L343.3,3247.8 L345.2,3249.5 L347.0,3251.0 L348.7,3252.4 L350.4,3253.9 L352.2,3255.3 L354.0,3256.8 L355.8,3258.1 L357.6,3259.3 L359.3,3260.3 L361.0,3261.0 L362.6,3261.4 L364.0,3261.4 L365.1,3261.0 L366.2,3260.4 L367.2,3259.4 L368.2,3258.3 L369.1,3257.0 L370.0,3255.6 L370.9,3254.2 L371.7,3252.7 L372.6,3251.3 L373.4,3250.0 L374.2,3248.7 L375.0,3247.2 L375.8,3245.7 L376.5,3244.2 L377.2,3242.7 L377.9,3241.1 L378.6,3239.7 L379.3,3238.3 L380.1,3237.1 L381.0,3236.0 L381.7,3235.2 L382.4,3234.4 L383.2,3233.7 L384.0,3232.9 L384.7,3232.3 L385.5,3231.7 L386.3,3231.2 L387.1,3230.8 L387.9,3230.6 L388.7,3230.5 L389.5,3230.6 L390.4,3230.9 L391.3,3231.3 L392.1,3231.8 L393.0,3232.5 L393.9,3233.3 L394.7,3234.1 L395.5,3235.0 L396.3,3236.0 L397.0,3237.0 L398.1,3238.7 L399.0,3240.7 L399.9,3242.8 L400.7,3245.2 L401.5,3247.7 L402.2,3250.3 L402.9,3253.1 L403.5,3256.0 L404.2,3259.0 L404.8,3262.0 L405.7,3266.9 L406.5,3272.4 L407.1,3278.2 L407.7,3284.3 L408.3,3290.7 L408.8,3297.0 L409.3,3303.4 L409.8,3309.6 L410.3,3315.5 L410.8,3321.0 L411.3,3325.2 L411.7,3329.2 L412.2,3333.1 L412.6,3336.9 L413.0,3340.7 L413.5,3344.4 L413.9,3348.2 L414.3,3352.0 L414.6,3355.9 L415.0,3360.0 L415.3,3364.8 L415.6,3369.9 L415.8,3375.2 L416.0,3380.5 L416.2,3385.8 L416.5,3391.1 L416.7,3396.2 L417.0,3401.2 L417.5,3405.8 L418.0,3410.0 L418.4,3412.9 L418.9,3415.9 L419.4,3419.0 L420.0,3422.1 L420.6,3425.0 L421.2,3427.6 L421.8,3429.8 L422.4,3431.5 L422.9,3432.6 L423.5,3433.0 L424.1,3432.6 L424.6,3431.5 L425.2,3429.8 L425.8,3427.6 L426.4,3425.0 L427.0,3422.1 L427.5,3419.0 L428.0,3415.9 L428.5,3412.9 L429.0,3410.0 L429.6,3405.8 L430.1,3401.2 L430.6,3396.4 L431.0,3391.3 L431.4,3386.1 L431.7,3380.8 L432.1,3375.5 L432.4,3370.2 L432.7,3365.0 L433.0,3360.0 L433.3,3355.4 L433.6,3350.8 L433.9,3346.4 L434.1,3341.9 L434.4,3337.5 L434.6,3333.0 L434.8,3328.4 L435.1,3323.8 L435.3,3319.0 L435.5,3314.0 L435.7,3307.7 L436.0,3301.1 L436.2,3294.3 L436.4,3287.4 L436.5,3280.3 L436.7,3273.2 L436.9,3266.1 L437.1,3259.0 L437.3,3251.9 L437.5,3245.0 L437.7,3238.3 L438.0,3231.5 L438.2,3224.8 L438.5,3218.2 L438.7,3211.5 L439.0,3204.8 L439.2,3198.1 L439.5,3191.4 L439.7,3184.7 L440.0,3178.0 L440.3,3171.2 L440.5,3164.4 L440.8,3157.6 L441.1,3150.8 L441.3,3144.0 L441.6,3137.2 L441.9,3130.4 L442.1,3123.6 L442.4,3116.8 L442.6,3110.0 L442.8,3103.2 L443.0,3096.4 L443.2,3089.6 L443.4,3082.8 L443.6,3076.0 L443.8,3069.2 L443.9,3062.4 L444.1,3055.6 L444.3,3048.8 L444.5,3042.0 L444.7,3035.3 L444.9,3028.6 L445.1,3021.9 L445.3,3015.2 L445.5,3008.5 L445.7,3001.8 L445.9,2995.1 L446.1,2988.4 L446.3,2981.7 L446.5,2975.0 L446.7,2968.2 L446.9,2961.4 L447.0,2954.6 L447.2,2947.8 L447.4,2941.0 L447.5,2934.2 L447.7,2927.4 L447.9,2920.6 L448.0,2913.8 L448.2,2907.0 L448.4,2900.3 L448.5,2893.6 L448.7,2886.9 L448.9,2880.2 L449.0,2873.5 L449.2,2866.8 L449.4,2860.1 L449.6,2853.4 L449.7,2846.7 L449.9,2840.0 L450.1,2833.3 L450.2,2826.6 L450.4,2819.9 L450.5,2813.2 L450.7,2806.5 L450.9,2799.8 L451.0,2793.1 L451.2,2786.4 L451.4,2779.7 L451.6,2773.0 L451.8,2766.2 L452.1,2759.4 L452.3,2752.6 L452.6,2745.8 L452.9,2739.0 L453.1,2732.2 L453.4,2725.4 L453.7,2718.6 L453.9,2711.8 L454.2,2705.0 L454.5,2698.1 L454.7,2691.1 L454.9,2684.0 L455.2,2676.9 L455.4,2669.8 L455.7,2662.8 L455.9,2656.0 L456.2,2649.4 L456.4,2643.0 L456.7,2637.0 L456.9,2632.6 L457.1,2628.2 L457.3,2623.9 L457.5,2619.7 L457.7,2615.7 L457.9,2611.8 L458.1,2608.0 L458.4,2604.4 L458.7,2601.1 L459.0,2598.0 L459.2,2596.1 L459.5,2594.1 L459.8,2592.0 L460.0,2590.0 L460.3,2588.2 L460.6,2586.5 L460.9,2585.1 L461.2,2584.0 L461.5,2583.3 L461.8,2583.0 L462.1,2583.2 L462.4,2583.9 L462.8,2585.0 L463.1,2586.3 L463.4,2588.0 L463.7,2589.8 L464.1,2591.8 L464.4,2593.8 L464.7,2595.9 L465.0,2598.0 L465.6,2602.6 L466.1,2607.9 L466.7,2613.8 L467.2,2620.3 L467.7,2627.1 L468.1,2634.1 L468.5,2641.2 L468.9,2648.4 L469.2,2655.3 L469.5,2662.0 L469.7,2668.7 L469.9,2675.4 L470.0,2682.2 L470.1,2689.0 L470.1,2695.8 L470.2,2702.6 L470.2,2709.5 L470.2,2716.3 L470.2,2723.2 L470.3,2730.0 L470.4,2737.0 L470.5,2744.0 L470.6,2751.0 L470.6,2758.1 L470.7,2765.1 L470.8,2772.1 L470.9,2779.2 L471.0,2786.1 L471.1,2793.1 L471.2,2800.0 L471.3,2806.6 L471.4,2813.2 L471.6,2819.8 L471.7,2826.3 L471.8,2832.8 L472.0,2839.3 L472.1,2845.8 L472.2,2852.2 L472.3,2858.6 L472.4,2865.0 L472.5,2871.0 L472.5,2876.8 L472.6,2882.5 L472.6,2888.1 L472.6,2893.8 L472.6,2899.5 L472.7,2905.5 L472.7,2911.6 L472.8,2918.1 L472.9,2925.0 L473.1,2935.5 L473.3,2946.6 L473.6,2958.2 L473.9,2970.3 L474.2,2982.8 L474.6,2995.7 L474.9,3008.9 L475.3,3022.4 L475.6,3036.1 L476.0,3050.0 L476.4,3068.0 L476.9,3086.8 L477.4,3106.1 L477.8,3126.0 L478.3,3146.2 L478.8,3166.7 L479.4,3187.5 L479.9,3208.4 L480.4,3229.2 L481.0,3250.0 L481.6,3272.7 L482.2,3296.3 L482.9,3320.5 L483.5,3344.9 L484.2,3369.2 L484.9,3393.3 L485.6,3416.7 L486.3,3439.1 L487.1,3460.3 L488.0,3480.0 L488.6,3493.6 L489.3,3508.1 L490.0,3522.9 L490.8,3537.5 L491.5,3551.3 L492.3,3563.8 L493.0,3574.4 L493.7,3582.7 L494.4,3588.1 L495.0,3590.0 L495.6,3588.0 L496.1,3582.5 L496.7,3574.0 L497.2,3563.1 L497.7,3550.4 L498.2,3536.5 L498.6,3521.9 L499.1,3507.2 L499.5,3493.1 L500.0,3480.0 L500.6,3463.8 L501.1,3446.8 L501.6,3429.2 L502.1,3411.2 L502.6,3392.8 L503.1,3374.1 L503.5,3355.4 L504.0,3336.7 L504.5,3318.2 L505.0,3300.0 L505.5,3281.7 L505.9,3263.0 L506.4,3244.1 L506.8,3225.1 L507.2,3206.3 L507.7,3187.7 L508.2,3169.6 L508.7,3152.2 L509.3,3135.6 L510.0,3120.0 L510.6,3108.7 L511.2,3096.7 L511.8,3084.3 L512.5,3072.2 L513.2,3060.6 L513.9,3050.1 L514.6,3041.1 L515.3,3034.1 L515.9,3029.6 L516.5,3028.0 L517.0,3029.2 L517.5,3032.6 L518.0,3037.9 L518.5,3044.7 L518.9,3052.7 L519.4,3061.7 L519.8,3071.2 L520.2,3081.0 L520.6,3090.7 L521.0,3100.0 L521.6,3116.0 L522.1,3133.8 L522.5,3153.0 L522.9,3173.3 L523.3,3194.4 L523.6,3216.0 L523.9,3237.6 L524.3,3259.1 L524.6,3280.0 L525.0,3300.0 L525.4,3318.6 L525.8,3337.4 L526.2,3356.4 L526.6,3375.2 L527.0,3393.9 L527.4,3412.2 L527.8,3430.2 L528.2,3447.5 L528.6,3464.2 L529.0,3480.0 L529.3,3492.1 L529.6,3505.1 L529.9,3518.4 L530.2,3531.7 L530.5,3544.3 L530.8,3555.8 L531.1,3565.6 L531.4,3573.3 L531.7,3578.2 L532.0,3580.0 L532.3,3578.2 L532.6,3573.3 L532.9,3565.6 L533.2,3555.8 L533.5,3544.3 L533.8,3531.7 L534.1,3518.4 L534.4,3505.1 L534.7,3492.1 L535.0,3480.0 L535.3,3464.0 L535.6,3446.9 L535.9,3429.0 L536.2,3410.4 L536.5,3391.5 L536.7,3372.5 L537.0,3353.6 L537.3,3335.0 L537.6,3317.1 L538.0,3300.0 L538.3,3284.9 L538.7,3268.3 L539.1,3250.9 L539.4,3233.5 L539.8,3216.8 L540.2,3201.5 L540.7,3188.4 L541.1,3178.1 L541.5,3171.4 L542.0,3169.0 L542.4,3170.4 L542.7,3174.4 L543.1,3180.6 L543.5,3188.5 L543.9,3197.8 L544.3,3208.0 L544.8,3218.8 L545.2,3229.6 L545.6,3240.2 L546.0,3250.0 L546.6,3263.1 L547.1,3277.0 L547.7,3291.5 L548.3,3306.5 L548.9,3321.8 L549.4,3337.5 L550.1,3353.2 L550.7,3369.0 L551.3,3384.6 L552.0,3400.0 L552.7,3416.1 L553.4,3432.7 L554.1,3449.7 L554.9,3466.8 L555.6,3483.8 L556.4,3500.5 L557.2,3516.7 L558.1,3532.2 L559.0,3546.7 L560.0,3560.0 L560.7,3568.7 L561.5,3577.9 L562.3,3587.2 L563.1,3596.3 L563.9,3605.0 L564.7,3612.8 L565.5,3619.4 L566.3,3624.5 L567.0,3627.8 L567.6,3629.0 L568.3,3626.6 L568.9,3619.8 L569.4,3609.5 L569.8,3596.4 L570.2,3581.2 L570.6,3564.7 L570.9,3547.5 L571.2,3530.5 L571.6,3514.5 L572.0,3500.0 L572.5,3485.5 L573.0,3470.9 L573.4,3456.1 L573.9,3441.3 L574.4,3426.3 L574.9,3411.2 L575.4,3396.0 L575.9,3380.8 L576.4,3365.4 L577.0,3350.0 L577.6,3333.1 L578.3,3315.5 L578.9,3297.5 L579.6,3279.4 L580.3,3261.2 L581.0,3243.4 L581.7,3226.1 L582.4,3209.6 L583.2,3194.2 L584.0,3180.0 L584.5,3170.8 L585.1,3161.1 L585.7,3151.3 L586.3,3141.6 L586.9,3132.5 L587.5,3124.2 L588.1,3117.2 L588.6,3111.8 L589.2,3108.2 L589.7,3107.0 L590.2,3108.2 L590.7,3111.6 L591.1,3116.9 L591.6,3123.8 L592.0,3131.9 L592.5,3141.0 L592.9,3150.6 L593.3,3160.5 L593.6,3170.4 L594.0,3180.0 L594.6,3197.2 L595.1,3216.6 L595.5,3237.6 L595.9,3260.0 L596.2,3283.3 L596.5,3307.1 L596.8,3331.0 L597.2,3354.8 L597.6,3377.9 L598.0,3400.0 L598.5,3422.2 L598.9,3447.0 L599.4,3473.3 L599.9,3499.9 L600.5,3525.6 L601.0,3549.3 L601.5,3569.7 L602.0,3585.8 L602.5,3596.2 L603.0,3600.0 L603.4,3597.2 L603.8,3589.5 L604.2,3577.7 L604.6,3562.6 L605.0,3545.1 L605.4,3526.0 L605.8,3506.0 L606.2,3486.2 L606.6,3467.2 L607.0,3450.0 L607.5,3430.9 L607.9,3410.9 L608.4,3390.2 L608.8,3369.2 L609.3,3348.1 L609.7,3327.1 L610.2,3306.5 L610.8,3286.7 L611.4,3267.7 L612.0,3250.0 L612.5,3237.3 L613.0,3224.7 L613.6,3212.2 L614.1,3200.0 L614.7,3188.2 L615.3,3176.9 L615.9,3166.4 L616.6,3156.6 L617.3,3147.8 L618.0,3140.0 L618.4,3136.4 L618.8,3132.8 L619.2,3129.2 L619.6,3125.8 L620.0,3122.6 L620.4,3119.8 L620.8,3117.4 L621.2,3115.6 L621.6,3114.4 L622.0,3114.0 L622.5,3114.7 L622.9,3116.8 L623.3,3119.9 L623.8,3124.1 L624.2,3129.0 L624.6,3134.6 L624.9,3140.7 L625.3,3147.0 L625.7,3153.5 L626.0,3160.0 L626.7,3176.5 L627.4,3196.3 L627.9,3218.8 L628.4,3243.4 L628.8,3269.5 L629.2,3296.4 L629.6,3323.5 L630.0,3350.2 L630.5,3375.9 L631.0,3400.0 L631.5,3422.9 L632.0,3448.4 L632.5,3475.3 L633.1,3502.4 L633.6,3528.5 L634.1,3552.6 L634.7,3573.3 L635.2,3589.6 L635.8,3600.2 L636.4,3604.0 L636.9,3601.2 L637.4,3593.2 L638.0,3581.1 L638.5,3565.5 L639.1,3547.5 L639.6,3527.8 L640.2,3507.4 L640.8,3487.0 L641.4,3467.6 L642.0,3450.0 L642.7,3431.0 L643.5,3411.4 L644.3,3391.4 L645.1,3371.1 L645.9,3350.6 L646.7,3330.1 L647.6,3309.6 L648.4,3289.4 L649.2,3269.5 L650.0,3250.0 L650.7,3232.4 L651.4,3215.1 L652.1,3197.9 L652.8,3180.9 L653.5,3164.0 L654.2,3147.2 L654.9,3130.4 L655.6,3113.6 L656.3,3096.9 L657.0,3080.0 L657.7,3063.0 L658.3,3045.4 L659.0,3027.6 L659.6,3009.8 L660.3,2992.1 L660.9,2974.8 L661.6,2958.1 L662.3,2942.2 L663.0,2927.5 L663.8,2914.0 L664.3,2906.3 L664.8,2899.2 L665.2,2892.4 L665.7,2886.0 L666.2,2879.9 L666.7,2873.8 L667.2,2867.9 L667.8,2861.9 L668.4,2855.8 L669.0,2849.5 L669.7,2843.1 L670.4,2836.6 L671.2,2830.2 L672.0,2823.8 L672.8,2817.4 L673.6,2810.9 L674.4,2804.5 L675.2,2798.0 L675.9,2791.5 L676.6,2785.0 L677.2,2778.3 L677.9,2771.5 L678.4,2764.7 L679.0,2757.9 L679.5,2751.1 L680.1,2744.3 L680.6,2737.4 L681.0,2730.6 L681.5,2723.8 L682.0,2717.0 L682.5,2709.7 L682.9,2701.4 L683.3,2692.6 L683.7,2683.7 L684.0,2675.1 L684.4,2667.1 L684.8,2660.2 L685.2,2654.8 L685.6,2651.3 L686.0,2650.0 L686.4,2650.9 L686.8,2653.4 L687.2,2657.2 L687.6,2662.2 L688.0,2667.9 L688.5,2674.3 L688.9,2680.9 L689.3,2687.6 L689.6,2694.0 L690.0,2700.0 L690.4,2707.6 L690.9,2715.6 L691.3,2723.9 L691.7,2732.5 L692.0,2741.2 L692.4,2750.0 L692.7,2758.8 L693.0,2767.4 L693.3,2775.9 L693.6,2784.0 L693.8,2791.1 L694.0,2798.0 L694.2,2804.9 L694.4,2811.6 L694.5,2818.3 L694.7,2825.0 L694.8,2831.6 L695.0,2838.3 L695.1,2844.9 L695.3,2851.6 L695.5,2858.2 L695.6,2864.7 L695.8,2871.2 L695.9,2877.7 L696.1,2884.2 L696.3,2890.7 L696.4,2897.3 L696.6,2903.8 L696.8,2910.4 L697.0,2917.0 L697.2,2923.9 L697.5,2930.9 L697.7,2937.9 L698.0,2944.9 L698.2,2951.9 L698.5,2959.0 L698.8,2966.0 L699.0,2973.1 L699.3,2980.1 L699.5,2987.0 L699.7,2993.8 L699.9,3000.5 L700.2,3007.2 L700.4,3013.9 L700.6,3020.6 L700.8,3027.2 L701.0,3033.9 L701.2,3040.6 L701.4,3047.3 L701.6,3054.0 L701.8,3060.8 L702.0,3067.6 L702.2,3074.4 L702.4,3081.2 L702.6,3088.0 L702.9,3094.8 L703.1,3101.6 L703.3,3108.4 L703.6,3115.2 L703.8,3122.0 L704.1,3128.7 L704.3,3135.4 L704.6,3142.1 L704.8,3148.7 L705.1,3155.4 L705.4,3162.1 L705.7,3168.8 L706.0,3175.5 L706.4,3182.2 L706.7,3189.0 L707.0,3196.2 L707.4,3203.6 L707.7,3211.1 L708.0,3218.7 L708.4,3226.3 L708.8,3233.7 L709.2,3240.9 L709.7,3247.7 L710.3,3254.1 L711.0,3260.0 L711.5,3263.8 L712.0,3267.8 L712.5,3271.8 L713.1,3275.8 L713.7,3279.5 L714.3,3282.9 L714.9,3285.7 L715.6,3288.0 L716.3,3289.4 L717.0,3290.0 L717.6,3289.7 L718.3,3288.7 L719.0,3287.2 L719.7,3285.3 L720.5,3283.0 L721.2,3280.5 L721.9,3277.9 L722.6,3275.1 L723.3,3272.5 L724.0,3270.0 L724.9,3266.5 L725.7,3262.8 L726.5,3258.9 L727.2,3254.8 L727.9,3250.6 L728.7,3246.3 L729.4,3241.9 L730.2,3237.6 L731.0,3233.3 L731.8,3229.0 L732.7,3224.3 L733.7,3219.3 L734.6,3214.1 L735.6,3208.9 L736.5,3203.7 L737.5,3198.7 L738.6,3194.0 L739.7,3189.7 L740.8,3186.0 L742.0,3183.0 L742.6,3181.8 L743.1,3180.6 L743.7,3179.5 L744.3,3178.4 L744.9,3177.4 L745.6,3176.6 L746.2,3175.9 L746.8,3175.4 L747.4,3175.1 L748.0,3175.0 L748.8,3175.2 L749.5,3175.9 L750.3,3176.8 L751.1,3178.0 L751.8,3179.5 L752.6,3181.1 L753.4,3182.8 L754.1,3184.6 L754.9,3186.5 L755.6,3188.3 L756.9,3191.8 L758.1,3195.9 L759.4,3200.5 L760.6,3205.4 L761.9,3210.5 L763.1,3215.7 L764.2,3220.7 L765.4,3225.6 L766.5,3230.0 L767.6,3234.0 L768.3,3236.4 L769.0,3238.6 L769.7,3240.7 L770.3,3242.7 L771.0,3244.6 L771.6,3246.5 L772.3,3248.4 L773.0,3250.4 L773.7,3252.4 L774.4,3254.6 L775.3,3257.5 L776.2,3260.7 L777.1,3264.2 L778.0,3267.7 L779.0,3271.2 L780.0,3274.5 L781.0,3277.7 L782.1,3280.6 L783.3,3283.0 L784.6,3285.0 L785.4,3285.9 L786.1,3286.7 L787.0,3287.5 L787.8,3288.1 L788.7,3288.7 L789.5,3289.2 L790.4,3289.6 L791.3,3289.8 L792.1,3290.0 L793.0,3290.0 L794.0,3289.8 L794.9,3289.3 L795.9,3288.6 L796.9,3287.7 L797.9,3286.7 L798.8,3285.7 L799.8,3284.6 L800.9,3283.6 L801.9,3282.7 L803.0,3282.0 L804.1,3281.4 L805.3,3280.8 L806.5,3280.3 L807.7,3279.8 L808.9,3279.3 L810.1,3278.9 L811.3,3278.4 L812.6,3278.0 L813.8,3277.5 L815.0,3277.0" fill="none" stroke="#0000ff" stroke-width="13.7" stroke-linejoin="round" stroke-linecap="butt" stroke-dasharray="48.1,19.2" stroke-dashoffset="0.0"/>
<path d="M815.0,3277.0 L818.0,3277.8 L820.9,3278.6 L823.7,3279.4 L826.5,3280.2 L829.4,3280.9 L832.3,3281.7 L835.3,3282.5 L838.5,3283.2 L841.8,3283.9 L845.3,3284.5 L850.8,3285.3 L856.7,3286.0 L863.0,3286.6 L869.6,3287.1 L876.4,3287.6 L883.3,3288.0 L890.2,3288.4 L897.1,3288.8 L904.0,3289.2 L910.6,3289.7 L917.1,3290.2 L923.7,3290.7 L930.2,3291.2 L936.8,3291.7 L943.3,3292.2 L949.8,3292.6 L956.4,3293.1 L962.9,3293.5 L969.5,3293.9 L976.0,3294.3 L982.5,3294.6 L989.0,3294.9 L995.5,3295.2 L1002.0,3295.5 L1008.5,3295.7 L1015.0,3296.0 L1021.5,3296.2 L1028.0,3296.4 L1034.5,3296.6 L1041.0,3296.9 L1047.5,3297.2 L1053.9,3297.4 L1060.3,3297.7 L1066.7,3298.0 L1073.1,3298.3 L1079.5,3298.5 L1086.0,3298.8 L1092.7,3299.0 L1099.5,3299.3 L1106.5,3299.5 L1115.0,3299.7 L1123.7,3300.0 L1132.6,3300.2 L1141.7,3300.4 L1150.9,3300.6 L1160.2,3300.8 L1169.6,3301.0 L1179.1,3301.1 L1188.5,3301.3 L1198.0,3301.5 L1208.1,3301.7 L1218.3,3301.9 L1228.4,3302.1 L1238.7,3302.3 L1249.0,3302.5 L1259.5,3302.7 L1270.0,3302.9 L1280.7,3303.1 L1291.5,3303.3 L1302.4,3303.4 L1314.9,3303.5 L1327.6,3303.6 L1340.5,3303.7 L1353.6,3303.8 L1366.8,3303.8 L1380.1,3303.8 L1393.4,3303.9 L1406.6,3303.9 L1419.9,3303.9 L1433.0,3304.0 L1446.0,3304.1 L1458.9,3304.1 L1471.7,3304.2 L1484.6,3304.3 L1497.4,3304.4 L1510.4,3304.5 L1523.4,3304.5 L1536.6,3304.6 L1550.0,3304.7 L1563.7,3304.7 L1579.9,3304.7 L1597.2,3304.8 L1615.3,3304.8 L1633.7,3304.8 L1652.0,3304.8 L1669.7,3304.7 L1686.6,3304.7 L1702.0,3304.7 L1715.6,3304.7 L1727.0,3304.7 L1731.3,3304.7 L1735.2,3304.7 L1738.7,3304.7 L1742.0,3304.7 L1745.1,3304.7 L1748.0,3304.7 L1750.9,3304.7 L1753.8,3304.7 L1756.8,3304.7 L1760.0,3304.7" fill="none" stroke="#0000ff" stroke-width="13.7" stroke-linejoin="round" stroke-linecap="butt" stroke-dasharray="48.1,19.2" stroke-dashoffset="60.7"/>
</g>
<path d="M306.50,3708.5 v12 M750.62,3708.5 v12 M1194.75,3708.5 v12 M1638.88,3708.5 v12 M2083.00,3708.5 v12 M306.5,3635.00 h-12 M306.5,3450.25 h-12 M306.5,3265.50 h-12 M306.5,3080.75 h-12 M306.5,2896.00 h-12 M306.5,2711.25 h-12 M306.5,2526.50 h-12 M306.5,2341.75 h-12 M306.5,2157.00 h-12" stroke="#000" stroke-width="3.4" fill="none"/>
<rect x="306.5" y="2119" width="1776.5" height="1589.5" fill="none" stroke="#000" stroke-width="3.4"/>
<text transform="translate(281.71,3789.86) scale(1.0100,1)" font-family='"DejaVu Serif", serif' font-size="77.30" stroke="#000" stroke-width="0.7" stroke-linejoin="round">0</text>
<text transform="translate(700.17,3789.86) scale(1.0100,1)" font-family='"DejaVu Serif", serif' font-size="77.30" stroke="#000" stroke-width="0.7" stroke-linejoin="round">50</text>
<text transform="translate(1120.54,3789.86) scale(1.0100,1)" font-family='"DejaVu Serif", serif' font-size="77.30" stroke="#000" stroke-width="0.7" stroke-linejoin="round">100</text>
<text transform="translate(1564.67,3789.86) scale(1.0100,1)" font-family='"DejaVu Serif", serif' font-size="77.30" stroke="#000" stroke-width="0.7" stroke-linejoin="round">150</text>
<text transform="translate(2008.44,3789.86) scale(1.0100,1)" font-family='"DejaVu Serif", serif' font-size="77.30" stroke="#000" stroke-width="0.7" stroke-linejoin="round">200</text>
<text transform="translate(162.36,3664.45) scale(0.9810,1)" font-family='"DejaVu Serif", serif' font-size="77.30" stroke="#000" stroke-width="0.7" stroke-linejoin="round">0.0</text>
<text transform="translate(164.82,3479.70) scale(0.9810,1)" font-family='"DejaVu Serif", serif' font-size="77.30" stroke="#000" stroke-width="0.7" stroke-linejoin="round">0.2</text>
<text transform="translate(161.22,3294.95) scale(0.9810,1)" font-family='"DejaVu Serif", serif' font-size="77.30" stroke="#000" stroke-width="0.7" stroke-linejoin="round">0.4</text>
<text transform="translate(162.17,3110.20) scale(0.9810,1)" font-family='"DejaVu Serif", serif' font-size="77.30" stroke="#000" stroke-width="0.7" stroke-linejoin="round">0.6</text>
<text transform="translate(162.36,2925.45) scale(0.9810,1)" font-family='"DejaVu Serif", serif' font-size="77.30" stroke="#000" stroke-width="0.7" stroke-linejoin="round">0.8</text>
<text transform="translate(158.70,2740.70) scale(1.0120,1)" font-family='"DejaVu Serif", serif' font-size="77.30" stroke="#000" stroke-width="0.7" stroke-linejoin="round">1.0</text>
<text transform="translate(161.25,2555.95) scale(1.0120,1)" font-family='"DejaVu Serif", serif' font-size="77.30" stroke="#000" stroke-width="0.7" stroke-linejoin="round">1.2</text>
<text transform="translate(157.53,2371.20) scale(1.0120,1)" font-family='"DejaVu Serif", serif' font-size="77.30" stroke="#000" stroke-width="0.7" stroke-linejoin="round">1.4</text>
<text transform="translate(158.51,2186.45) scale(1.0120,1)" font-family='"DejaVu Serif", serif' font-size="77.30" stroke="#000" stroke-width="0.7" stroke-linejoin="round">1.6</text>
</g>
<g transform="rotate(-90)">
<text transform="translate(-3074.47,122.20) scale(0.9045,1)" font-family='"Liberation Serif", serif' font-size="119.08" stroke="#000" stroke-width="3.0" stroke-linejoin="round">Ψ</text>
<text transform="translate(-2991.92,138.80) scale(1.1396,1)" font-family='"Liberation Serif", serif' font-size="78.30" font-style="italic">n</text>
<text transform="translate(-2943.67,120.72) scale(1.0502,1)" font-family='"Liberation Serif", serif' font-size="109.09">(</text>
<text transform="translate(-2907.73,123.92) scale(1.1950,1)" font-family='"Liberation Serif", serif' font-size="98.39" font-style="italic" stroke="#000" stroke-width="0.8" stroke-linejoin="round">σ</text>
<text transform="translate(-2854.70,142.20) scale(1.0105,1)" font-family='"DejaVu Serif", serif' font-size="77.28">+</text>
<text transform="translate(-2790.66,120.72) scale(1.0893,1)" font-family='"Liberation Serif", serif' font-size="109.09">)</text>
</g>
<text transform="translate(1153.90,3903.09) scale(1.0224,1)" font-family='"Liberation Serif", serif' font-size="110.78" font-style="italic" stroke="#000" stroke-width="1.2" stroke-linejoin="round">t</text>
<text transform="translate(1185.60,3917.50) scale(1.0758,1)" font-family='"Liberation Serif", serif' font-size="81.83" font-style="italic" stroke="#000" stroke-width="0.8" stroke-linejoin="round">L</text>
<rect x="1680" y="2151.5" width="580" height="670.0" rx="43" ry="43" fill="#808080"/>
<rect x="1677" y="2148.5" width="580" height="670.0" rx="43" ry="43" fill="#ffffff"/>
<text transform="translate(1727.67,2287.70) scale(1.0000,1)" font-family='"Liberation Serif", serif' font-size="102.00" font-style="italic" stroke="#000" stroke-width="0.6" stroke-linejoin="round">T</text>
<text transform="translate(1732.77,2236.37) scale(1.1580,1)" font-family='"Liberation Serif", serif' font-size="101.49">~</text>
<text transform="translate(1783.74,2300.00) scale(1.1539,1)" font-family='"Liberation Serif", serif' font-size="73.00" stroke="#000" stroke-width="0.6" stroke-linejoin="round">0</text>
<text transform="translate(1833.54,2293.78) scale(0.9801,1)" font-family='"DejaVu Serif", serif' font-size="101.62">=</text>
<text transform="translate(1923.54,2287.70) scale(0.9808,1)" font-family='"Liberation Serif", serif' font-size="105.06" stroke="#000" stroke-width="0.6" stroke-linejoin="round">0.98</text>
<text transform="translate(1728.68,2398.20) scale(1.0000,1)" font-family='"Liberation Serif", serif' font-size="102.00" font-style="italic" stroke="#000" stroke-width="0.6" stroke-linejoin="round">E</text>
<text transform="translate(1790.50,2412.20) scale(1.0985,1)" font-family='"Liberation Serif", serif' font-size="73.00" font-style="italic" stroke="#000" stroke-width="0.6" stroke-linejoin="round">L</text>
<text transform="translate(1831.70,2398.20) scale(0.8928,1)" font-family='"Liberation Serif", serif' font-size="102.00" font-style="italic" stroke="#000" stroke-width="0.6" stroke-linejoin="round">/</text>
<text transform="translate(1861.30,2398.20) scale(0.9960,1)" font-family='"Liberation Serif", serif' font-size="102.00" font-style="italic" stroke="#000" stroke-width="0.6" stroke-linejoin="round">ω</text>
<text transform="translate(1931.50,2412.20) scale(1.0985,1)" font-family='"Liberation Serif", serif' font-size="73.00" font-style="italic" stroke="#000" stroke-width="0.6" stroke-linejoin="round">L</text>
<text transform="translate(1982.77,2404.28) scale(0.9864,1)" font-family='"DejaVu Serif", serif' font-size="101.62">=</text>
<text transform="translate(2078.09,2398.20) scale(0.9361,1)" font-family='"Liberation Serif", serif' font-size="105.06" stroke="#000" stroke-width="0.6" stroke-linejoin="round">1.5</text>
<text transform="translate(1727.18,2516.30) scale(1.0959,1)" font-family='"Liberation Serif", serif' font-size="102.00" font-style="italic" stroke="#000" stroke-width="0.6" stroke-linejoin="round">τ</text>
<text transform="translate(1769.58,2530.30) scale(1.0733,1)" font-family='"Liberation Serif", serif' font-size="73.00" font-style="italic" stroke="#000" stroke-width="0.6" stroke-linejoin="round">E</text>
<text transform="translate(1824.67,2522.38) scale(0.9864,1)" font-family='"DejaVu Serif", serif' font-size="101.62">=</text>
<text transform="translate(1919.65,2516.30) scale(0.9736,1)" font-family='"Liberation Serif", serif' font-size="105.06" stroke="#000" stroke-width="0.6" stroke-linejoin="round">10</text>
<text transform="translate(1726.32,2628.60) scale(1.0193,1)" font-family='"Liberation Serif", serif' font-size="102.00" font-style="italic" stroke="#000" stroke-width="0.6" stroke-linejoin="round">ω</text>
<text transform="translate(1798.00,2642.60) scale(1.1011,1)" font-family='"Liberation Serif", serif' font-size="73.00" font-style="italic" stroke="#000" stroke-width="0.6" stroke-linejoin="round">L</text>
<text transform="translate(1849.47,2634.68) scale(0.9864,1)" font-family='"DejaVu Serif", serif' font-size="101.62">=</text>
<text transform="translate(1940.00,2628.60) scale(0.9646,1)" font-family='"Liberation Serif", serif' font-size="105.06" stroke="#000" stroke-width="0.6" stroke-linejoin="round">0.75</text>
<text transform="translate(1726.68,2744.60) scale(1.0735,1)" font-family='"Liberation Serif", serif' font-size="102.00" font-style="italic" stroke="#000" stroke-width="0.6" stroke-linejoin="round">γ</text>
<text transform="translate(1777.21,2750.68) scale(0.9738,1)" font-family='"DejaVu Serif", serif' font-size="101.62">=</text>
<text transform="translate(1879.88,2747.47) scale(0.9594,1)" font-family='"DejaVu Serif", serif' font-size="97.50">−</text>
<text transform="translate(1966.62,2744.60) scale(0.9848,1)" font-family='"Liberation Serif", serif' font-size="105.06" stroke="#000" stroke-width="0.6" stroke-linejoin="round">0.20</text>
<rect x="1734.5" y="3017.1000000000004" width="422.5" height="681.0" rx="14" ry="14" fill="#4d4d4d" stroke="#4d4d4d" stroke-width="3.4"/>
<rect x="1727.9" y="3010.3" width="422.5" height="681.0" rx="14" ry="14" fill="#fff" stroke="#cccccc" stroke-width="3.8"/>
<path d="M1763.5,3082.3 H1897.5" stroke="#0000ff" stroke-width="13.7" stroke-linecap="square" fill="none"/>
<text transform="translate(1970.79,3112.90) scale(0.8828,1)" font-family='"Liberation Serif", serif' font-size="96.03" stroke="#000" stroke-width="1.2" stroke-linejoin="round">Ψ</text>
<text transform="translate(2032.89,3126.57) scale(1.0116,1)" font-family='"DejaVu Serif", serif' font-size="57.50">−</text>
<text transform="translate(2075.63,3123.60) scale(1.1242,1)" font-family='"Liberation Serif", serif' font-size="66.30" stroke="#000" stroke-width="0.5" stroke-linejoin="round">2</text>
<path d="M1763.5,3213.3 H1897.5" stroke="#008000" stroke-width="13.7" stroke-linecap="square" fill="none"/>
<text transform="translate(1970.79,3243.60) scale(0.8828,1)" font-family='"Liberation Serif", serif' font-size="96.03" stroke="#000" stroke-width="1.2" stroke-linejoin="round">Ψ</text>
<text transform="translate(2032.89,3257.27) scale(1.0116,1)" font-family='"DejaVu Serif", serif' font-size="57.50">−</text>
<text transform="translate(2080.43,3254.30) scale(0.8387,1)" font-family='"Liberation Serif", serif' font-size="66.30" stroke="#000" stroke-width="0.5" stroke-linejoin="round">1</text>
<path d="M1763.5,3344.3 H1897.5" stroke="#ff0000" stroke-width="13.7" stroke-linecap="square" fill="none"/>
<text transform="translate(1970.79,3374.30) scale(0.8828,1)" font-family='"Liberation Serif", serif' font-size="96.03" stroke="#000" stroke-width="1.2" stroke-linejoin="round">Ψ</text>
<text transform="translate(2033.64,3385.00) scale(1.0682,1)" font-family='"Liberation Serif", serif' font-size="66.30" stroke="#000" stroke-width="0.5" stroke-linejoin="round">0</text>
<path d="M1763,3475.3 H1897.5" stroke="#008000" stroke-width="13.7" stroke-dasharray="48.1,19.2" fill="none"/>
<text transform="translate(1970.79,3505.00) scale(0.8828,1)" font-family='"Liberation Serif", serif' font-size="96.03" stroke="#000" stroke-width="1.2" stroke-linejoin="round">Ψ</text>
<text transform="translate(2037.58,3515.70) scale(0.7959,1)" font-family='"Liberation Serif", serif' font-size="66.30" stroke="#000" stroke-width="0.5" stroke-linejoin="round">1</text>
<path d="M1763,3606.3 H1897.5" stroke="#0000ff" stroke-width="13.7" stroke-dasharray="48.1,19.2" fill="none"/>
<text transform="translate(1970.79,3635.70) scale(0.8828,1)" font-family='"Liberation Serif", serif' font-size="96.03" stroke="#000" stroke-width="1.2" stroke-linejoin="round">Ψ</text>
<text transform="translate(2033.20,3646.40) scale(1.1017,1)" font-family='"Liberation Serif", serif' font-size="66.30" stroke="#000" stroke-width="0.5" stroke-linejoin="round">2</text>
</svg>
</body></html>
